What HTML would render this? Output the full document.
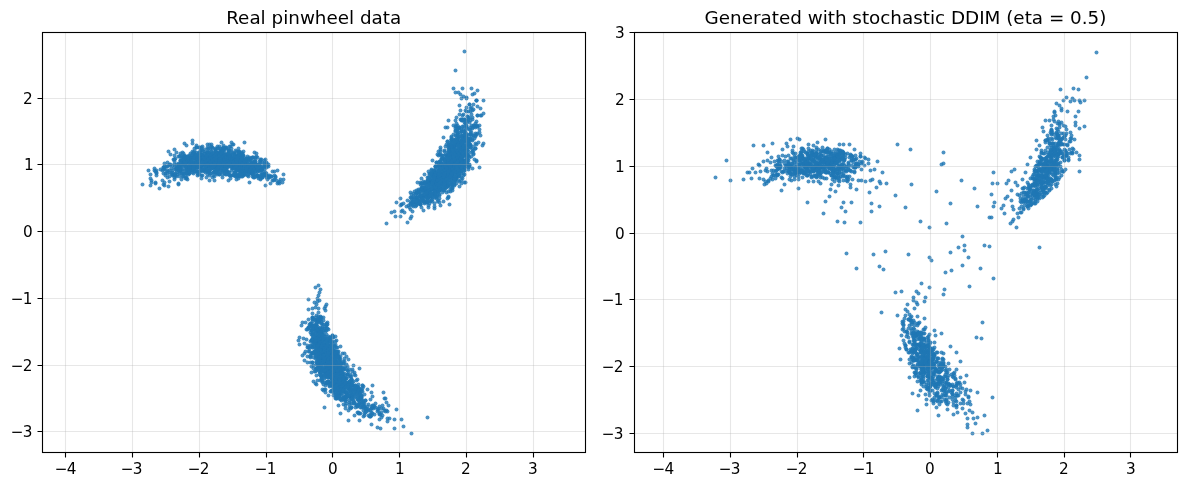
<!DOCTYPE html>
<html lang="en"><head><meta charset="utf-8"><title>Pinwheel: real vs stochastic DDIM</title>
<style>
html,body{margin:0;padding:0;background:#fff;overflow:hidden}
svg{display:block}
text{font-family:"DejaVu Sans","Liberation Sans",sans-serif;fill:#000}
.t{font-size:15.278px}
.h{font-size:18.333px}
</style></head>
<body>
<svg width="1186" height="487" viewBox="0 0 1186 487">
<rect width="1186" height="487" fill="#fff"/>
<g>
<g transform="translate(.5 .5)" fill="#1f77b4" fill-opacity="0.8">
<circle r="1.964" cx="419" cy="200"/><circle r="1.964" cx="446" cy="168"/><circle r="1.964" cx="413" cy="199"/><circle r="1.964" cx="451" cy="157"/><circle r="1.964" cx="453" cy="161"/><circle r="1.964" cx="437" cy="166"/>
<circle r="1.964" cx="449" cy="167"/><circle r="1.964" cx="446" cy="144"/><circle r="1.964" cx="464" cy="148"/><circle r="1.964" cx="444" cy="179"/><circle r="1.964" cx="469" cy="122"/><circle r="1.964" cx="431" cy="200"/>
<circle r="1.964" cx="460" cy="110"/><circle r="1.964" cx="412" cy="211"/><circle r="1.964" cx="438" cy="173"/><circle r="1.964" cx="476" cy="144"/><circle r="1.964" cx="455" cy="164"/><circle r="1.964" cx="456" cy="145"/>
<circle r="1.964" cx="455" cy="135"/><circle r="1.964" cx="467" cy="161"/><circle r="1.964" cx="421" cy="189"/><circle r="1.964" cx="428" cy="181"/><circle r="1.964" cx="447" cy="173"/><circle r="1.964" cx="449" cy="152"/>
<circle r="1.964" cx="452" cy="158"/><circle r="1.964" cx="449" cy="178"/><circle r="1.964" cx="438" cy="165"/><circle r="1.964" cx="478" cy="142"/><circle r="1.964" cx="453" cy="163"/><circle r="1.964" cx="453" cy="151"/>
<circle r="1.964" cx="443" cy="167"/><circle r="1.964" cx="435" cy="168"/><circle r="1.964" cx="452" cy="152"/><circle r="1.964" cx="476" cy="160"/><circle r="1.964" cx="459" cy="127"/><circle r="1.964" cx="454" cy="154"/>
<circle r="1.964" cx="421" cy="187"/><circle r="1.964" cx="456" cy="141"/><circle r="1.964" cx="416" cy="190"/><circle r="1.964" cx="427" cy="190"/><circle r="1.964" cx="436" cy="177"/><circle r="1.964" cx="437" cy="191"/>
<circle r="1.964" cx="468" cy="154"/><circle r="1.964" cx="453" cy="153"/><circle r="1.964" cx="451" cy="140"/><circle r="1.964" cx="440" cy="189"/><circle r="1.964" cx="451" cy="164"/><circle r="1.964" cx="466" cy="134"/>
<circle r="1.964" cx="428" cy="196"/><circle r="1.964" cx="443" cy="185"/><circle r="1.964" cx="436" cy="173"/><circle r="1.964" cx="430" cy="186"/><circle r="1.964" cx="452" cy="163"/><circle r="1.964" cx="456" cy="143"/>
<circle r="1.964" cx="459" cy="170"/><circle r="1.964" cx="444" cy="151"/><circle r="1.964" cx="470" cy="127"/><circle r="1.964" cx="436" cy="183"/><circle r="1.964" cx="451" cy="176"/><circle r="1.964" cx="465" cy="132"/>
<circle r="1.964" cx="465" cy="160"/><circle r="1.964" cx="419" cy="199"/><circle r="1.964" cx="476" cy="100"/><circle r="1.964" cx="476" cy="161"/><circle r="1.964" cx="460" cy="149"/><circle r="1.964" cx="432" cy="180"/>
<circle r="1.964" cx="431" cy="170"/><circle r="1.964" cx="475" cy="148"/><circle r="1.964" cx="456" cy="164"/><circle r="1.964" cx="452" cy="170"/><circle r="1.964" cx="460" cy="143"/><circle r="1.964" cx="422" cy="196"/>
<circle r="1.964" cx="453" cy="147"/><circle r="1.964" cx="452" cy="185"/><circle r="1.964" cx="469" cy="144"/><circle r="1.964" cx="447" cy="170"/><circle r="1.964" cx="444" cy="190"/><circle r="1.964" cx="436" cy="191"/>
<circle r="1.964" cx="462" cy="160"/><circle r="1.964" cx="417" cy="199"/><circle r="1.964" cx="471" cy="125"/><circle r="1.964" cx="451" cy="174"/><circle r="1.964" cx="449" cy="147"/><circle r="1.964" cx="414" cy="199"/>
<circle r="1.964" cx="433" cy="186"/><circle r="1.964" cx="449" cy="161"/><circle r="1.964" cx="461" cy="161"/><circle r="1.964" cx="420" cy="196"/><circle r="1.964" cx="410" cy="204"/><circle r="1.964" cx="429" cy="174"/>
<circle r="1.964" cx="457" cy="133"/><circle r="1.964" cx="458" cy="134"/><circle r="1.964" cx="436" cy="197"/><circle r="1.964" cx="437" cy="176"/><circle r="1.964" cx="454" cy="176"/><circle r="1.964" cx="401" cy="204"/>
<circle r="1.964" cx="451" cy="161"/><circle r="1.964" cx="458" cy="142"/><circle r="1.964" cx="458" cy="137"/><circle r="1.964" cx="456" cy="171"/><circle r="1.964" cx="438" cy="173"/><circle r="1.964" cx="449" cy="159"/>
<circle r="1.964" cx="444" cy="180"/><circle r="1.964" cx="423" cy="183"/><circle r="1.964" cx="439" cy="178"/><circle r="1.964" cx="440" cy="173"/><circle r="1.964" cx="476" cy="100"/><circle r="1.964" cx="438" cy="186"/>
<circle r="1.964" cx="455" cy="179"/><circle r="1.964" cx="440" cy="164"/><circle r="1.964" cx="434" cy="190"/><circle r="1.964" cx="461" cy="171"/><circle r="1.964" cx="426" cy="202"/><circle r="1.964" cx="438" cy="180"/>
<circle r="1.964" cx="440" cy="147"/><circle r="1.964" cx="449" cy="150"/><circle r="1.964" cx="467" cy="144"/><circle r="1.964" cx="460" cy="142"/><circle r="1.964" cx="410" cy="192"/><circle r="1.964" cx="479" cy="125"/>
<circle r="1.964" cx="441" cy="171"/><circle r="1.964" cx="472" cy="119"/><circle r="1.964" cx="433" cy="177"/><circle r="1.964" cx="446" cy="171"/><circle r="1.964" cx="448" cy="144"/><circle r="1.964" cx="481" cy="115"/>
<circle r="1.964" cx="451" cy="141"/><circle r="1.964" cx="442" cy="181"/><circle r="1.964" cx="456" cy="172"/><circle r="1.964" cx="447" cy="169"/><circle r="1.964" cx="453" cy="177"/><circle r="1.964" cx="469" cy="166"/>
<circle r="1.964" cx="462" cy="141"/><circle r="1.964" cx="457" cy="152"/><circle r="1.964" cx="424" cy="183"/><circle r="1.964" cx="436" cy="190"/><circle r="1.964" cx="444" cy="166"/><circle r="1.964" cx="451" cy="168"/>
<circle r="1.964" cx="439" cy="183"/><circle r="1.964" cx="462" cy="150"/><circle r="1.964" cx="442" cy="188"/><circle r="1.964" cx="434" cy="171"/><circle r="1.964" cx="431" cy="182"/><circle r="1.964" cx="454" cy="167"/>
<circle r="1.964" cx="430" cy="180"/><circle r="1.964" cx="461" cy="160"/><circle r="1.964" cx="446" cy="155"/><circle r="1.964" cx="464" cy="167"/><circle r="1.964" cx="451" cy="181"/><circle r="1.964" cx="444" cy="181"/>
<circle r="1.964" cx="429" cy="173"/><circle r="1.964" cx="458" cy="164"/><circle r="1.964" cx="464" cy="141"/><circle r="1.964" cx="459" cy="114"/><circle r="1.964" cx="450" cy="170"/><circle r="1.964" cx="428" cy="197"/>
<circle r="1.964" cx="428" cy="183"/><circle r="1.964" cx="462" cy="151"/><circle r="1.964" cx="450" cy="160"/><circle r="1.964" cx="432" cy="193"/><circle r="1.964" cx="467" cy="163"/><circle r="1.964" cx="477" cy="106"/>
<circle r="1.964" cx="417" cy="192"/><circle r="1.964" cx="453" cy="153"/><circle r="1.964" cx="441" cy="164"/><circle r="1.964" cx="446" cy="181"/><circle r="1.964" cx="430" cy="181"/><circle r="1.964" cx="386" cy="223"/>
<circle r="1.964" cx="419" cy="201"/><circle r="1.964" cx="445" cy="168"/><circle r="1.964" cx="420" cy="184"/><circle r="1.964" cx="424" cy="197"/><circle r="1.964" cx="472" cy="94"/><circle r="1.964" cx="429" cy="189"/>
<circle r="1.964" cx="466" cy="107"/><circle r="1.964" cx="432" cy="197"/><circle r="1.964" cx="437" cy="188"/><circle r="1.964" cx="449" cy="169"/><circle r="1.964" cx="457" cy="125"/><circle r="1.964" cx="461" cy="158"/>
<circle r="1.964" cx="451" cy="182"/><circle r="1.964" cx="454" cy="143"/><circle r="1.964" cx="467" cy="116"/><circle r="1.964" cx="455" cy="165"/><circle r="1.964" cx="459" cy="160"/><circle r="1.964" cx="423" cy="210"/>
<circle r="1.964" cx="434" cy="183"/><circle r="1.964" cx="450" cy="142"/><circle r="1.964" cx="474" cy="125"/><circle r="1.964" cx="415" cy="206"/><circle r="1.964" cx="449" cy="155"/><circle r="1.964" cx="464" cy="160"/>
<circle r="1.964" cx="462" cy="135"/><circle r="1.964" cx="418" cy="189"/><circle r="1.964" cx="435" cy="196"/><circle r="1.964" cx="454" cy="151"/><circle r="1.964" cx="426" cy="191"/><circle r="1.964" cx="442" cy="158"/>
<circle r="1.964" cx="444" cy="162"/><circle r="1.964" cx="458" cy="159"/><circle r="1.964" cx="443" cy="178"/><circle r="1.964" cx="452" cy="145"/><circle r="1.964" cx="446" cy="157"/><circle r="1.964" cx="461" cy="138"/>
<circle r="1.964" cx="447" cy="162"/><circle r="1.964" cx="436" cy="185"/><circle r="1.964" cx="457" cy="164"/><circle r="1.964" cx="450" cy="162"/><circle r="1.964" cx="450" cy="177"/><circle r="1.964" cx="464" cy="120"/>
<circle r="1.964" cx="455" cy="178"/><circle r="1.964" cx="439" cy="169"/><circle r="1.964" cx="435" cy="185"/><circle r="1.964" cx="410" cy="209"/><circle r="1.964" cx="446" cy="180"/><circle r="1.964" cx="446" cy="175"/>
<circle r="1.964" cx="459" cy="157"/><circle r="1.964" cx="440" cy="161"/><circle r="1.964" cx="430" cy="194"/><circle r="1.964" cx="449" cy="154"/><circle r="1.964" cx="448" cy="176"/><circle r="1.964" cx="439" cy="166"/>
<circle r="1.964" cx="472" cy="140"/><circle r="1.964" cx="460" cy="163"/><circle r="1.964" cx="461" cy="159"/><circle r="1.964" cx="435" cy="172"/><circle r="1.964" cx="434" cy="208"/><circle r="1.964" cx="443" cy="175"/>
<circle r="1.964" cx="440" cy="172"/><circle r="1.964" cx="451" cy="173"/><circle r="1.964" cx="465" cy="154"/><circle r="1.964" cx="457" cy="144"/><circle r="1.964" cx="455" cy="153"/><circle r="1.964" cx="465" cy="162"/>
<circle r="1.964" cx="428" cy="180"/><circle r="1.964" cx="468" cy="138"/><circle r="1.964" cx="452" cy="172"/><circle r="1.964" cx="459" cy="165"/><circle r="1.964" cx="463" cy="151"/><circle r="1.964" cx="451" cy="174"/>
<circle r="1.964" cx="416" cy="197"/><circle r="1.964" cx="433" cy="187"/><circle r="1.964" cx="462" cy="163"/><circle r="1.964" cx="433" cy="181"/><circle r="1.964" cx="412" cy="205"/><circle r="1.964" cx="445" cy="164"/>
<circle r="1.964" cx="416" cy="197"/><circle r="1.964" cx="448" cy="159"/><circle r="1.964" cx="440" cy="179"/><circle r="1.964" cx="466" cy="144"/><circle r="1.964" cx="434" cy="203"/><circle r="1.964" cx="427" cy="190"/>
<circle r="1.964" cx="464" cy="141"/><circle r="1.964" cx="425" cy="191"/><circle r="1.964" cx="466" cy="160"/><circle r="1.964" cx="454" cy="149"/><circle r="1.964" cx="433" cy="194"/><circle r="1.964" cx="452" cy="146"/>
<circle r="1.964" cx="421" cy="207"/><circle r="1.964" cx="459" cy="157"/><circle r="1.964" cx="420" cy="193"/><circle r="1.964" cx="450" cy="168"/><circle r="1.964" cx="456" cy="177"/><circle r="1.964" cx="461" cy="140"/>
<circle r="1.964" cx="449" cy="177"/><circle r="1.964" cx="451" cy="160"/><circle r="1.964" cx="454" cy="172"/><circle r="1.964" cx="447" cy="161"/><circle r="1.964" cx="433" cy="182"/><circle r="1.964" cx="461" cy="159"/>
<circle r="1.964" cx="443" cy="176"/><circle r="1.964" cx="452" cy="156"/><circle r="1.964" cx="431" cy="189"/><circle r="1.964" cx="448" cy="171"/><circle r="1.964" cx="457" cy="160"/><circle r="1.964" cx="446" cy="174"/>
<circle r="1.964" cx="439" cy="187"/><circle r="1.964" cx="421" cy="178"/><circle r="1.964" cx="442" cy="173"/><circle r="1.964" cx="440" cy="161"/><circle r="1.964" cx="453" cy="170"/><circle r="1.964" cx="439" cy="184"/>
<circle r="1.964" cx="460" cy="147"/><circle r="1.964" cx="460" cy="154"/><circle r="1.964" cx="450" cy="152"/><circle r="1.964" cx="444" cy="165"/><circle r="1.964" cx="443" cy="175"/><circle r="1.964" cx="447" cy="169"/>
<circle r="1.964" cx="447" cy="164"/><circle r="1.964" cx="421" cy="197"/><circle r="1.964" cx="445" cy="179"/><circle r="1.964" cx="451" cy="177"/><circle r="1.964" cx="421" cy="183"/><circle r="1.964" cx="423" cy="195"/>
<circle r="1.964" cx="433" cy="175"/><circle r="1.964" cx="471" cy="107"/><circle r="1.964" cx="465" cy="133"/><circle r="1.964" cx="461" cy="167"/><circle r="1.964" cx="437" cy="201"/><circle r="1.964" cx="454" cy="145"/>
<circle r="1.964" cx="458" cy="170"/><circle r="1.964" cx="435" cy="183"/><circle r="1.964" cx="446" cy="170"/><circle r="1.964" cx="463" cy="175"/><circle r="1.964" cx="443" cy="158"/><circle r="1.964" cx="473" cy="135"/>
<circle r="1.964" cx="452" cy="173"/><circle r="1.964" cx="452" cy="147"/><circle r="1.964" cx="443" cy="181"/><circle r="1.964" cx="425" cy="183"/><circle r="1.964" cx="446" cy="192"/><circle r="1.964" cx="464" cy="168"/>
<circle r="1.964" cx="444" cy="172"/><circle r="1.964" cx="468" cy="169"/><circle r="1.964" cx="457" cy="154"/><circle r="1.964" cx="456" cy="176"/><circle r="1.964" cx="424" cy="196"/><circle r="1.964" cx="436" cy="162"/>
<circle r="1.964" cx="447" cy="184"/><circle r="1.964" cx="447" cy="162"/><circle r="1.964" cx="434" cy="197"/><circle r="1.964" cx="447" cy="141"/><circle r="1.964" cx="466" cy="120"/><circle r="1.964" cx="455" cy="159"/>
<circle r="1.964" cx="450" cy="149"/><circle r="1.964" cx="413" cy="206"/><circle r="1.964" cx="432" cy="173"/><circle r="1.964" cx="445" cy="164"/><circle r="1.964" cx="429" cy="183"/><circle r="1.964" cx="469" cy="165"/>
<circle r="1.964" cx="457" cy="169"/><circle r="1.964" cx="458" cy="155"/><circle r="1.964" cx="416" cy="192"/><circle r="1.964" cx="427" cy="195"/><circle r="1.964" cx="464" cy="137"/><circle r="1.964" cx="421" cy="189"/>
<circle r="1.964" cx="449" cy="156"/><circle r="1.964" cx="443" cy="165"/><circle r="1.964" cx="466" cy="97"/><circle r="1.964" cx="429" cy="190"/><circle r="1.964" cx="427" cy="198"/><circle r="1.964" cx="453" cy="166"/>
<circle r="1.964" cx="461" cy="140"/><circle r="1.964" cx="461" cy="131"/><circle r="1.964" cx="427" cy="177"/><circle r="1.964" cx="451" cy="139"/><circle r="1.964" cx="412" cy="201"/><circle r="1.964" cx="473" cy="135"/>
<circle r="1.964" cx="463" cy="173"/><circle r="1.964" cx="400" cy="216"/><circle r="1.964" cx="445" cy="161"/><circle r="1.964" cx="433" cy="189"/><circle r="1.964" cx="428" cy="171"/><circle r="1.964" cx="463" cy="129"/>
<circle r="1.964" cx="432" cy="184"/><circle r="1.964" cx="432" cy="201"/><circle r="1.964" cx="467" cy="139"/><circle r="1.964" cx="461" cy="146"/><circle r="1.964" cx="431" cy="175"/><circle r="1.964" cx="426" cy="182"/>
<circle r="1.964" cx="449" cy="175"/><circle r="1.964" cx="468" cy="141"/><circle r="1.964" cx="460" cy="168"/><circle r="1.964" cx="462" cy="158"/><circle r="1.964" cx="446" cy="170"/><circle r="1.964" cx="440" cy="188"/>
<circle r="1.964" cx="434" cy="187"/><circle r="1.964" cx="444" cy="179"/><circle r="1.964" cx="427" cy="201"/><circle r="1.964" cx="435" cy="166"/><circle r="1.964" cx="443" cy="172"/><circle r="1.964" cx="423" cy="189"/>
<circle r="1.964" cx="438" cy="177"/><circle r="1.964" cx="445" cy="175"/><circle r="1.964" cx="462" cy="137"/><circle r="1.964" cx="479" cy="132"/><circle r="1.964" cx="452" cy="188"/><circle r="1.964" cx="450" cy="175"/>
<circle r="1.964" cx="424" cy="189"/><circle r="1.964" cx="463" cy="145"/><circle r="1.964" cx="472" cy="117"/><circle r="1.964" cx="431" cy="177"/><circle r="1.964" cx="456" cy="178"/><circle r="1.964" cx="458" cy="176"/>
<circle r="1.964" cx="461" cy="131"/><circle r="1.964" cx="448" cy="165"/><circle r="1.964" cx="456" cy="159"/><circle r="1.964" cx="470" cy="134"/><circle r="1.964" cx="442" cy="158"/><circle r="1.964" cx="455" cy="177"/>
<circle r="1.964" cx="461" cy="162"/><circle r="1.964" cx="460" cy="146"/><circle r="1.964" cx="465" cy="137"/><circle r="1.964" cx="454" cy="170"/><circle r="1.964" cx="474" cy="93"/><circle r="1.964" cx="466" cy="160"/>
<circle r="1.964" cx="449" cy="144"/><circle r="1.964" cx="475" cy="135"/><circle r="1.964" cx="460" cy="94"/><circle r="1.964" cx="422" cy="201"/><circle r="1.964" cx="463" cy="126"/><circle r="1.964" cx="468" cy="165"/>
<circle r="1.964" cx="422" cy="190"/><circle r="1.964" cx="449" cy="147"/><circle r="1.964" cx="436" cy="185"/><circle r="1.964" cx="444" cy="150"/><circle r="1.964" cx="452" cy="171"/><circle r="1.964" cx="428" cy="196"/>
<circle r="1.964" cx="461" cy="163"/><circle r="1.964" cx="425" cy="188"/><circle r="1.964" cx="480" cy="108"/><circle r="1.964" cx="418" cy="190"/><circle r="1.964" cx="462" cy="178"/><circle r="1.964" cx="434" cy="170"/>
<circle r="1.964" cx="435" cy="179"/><circle r="1.964" cx="456" cy="150"/><circle r="1.964" cx="443" cy="190"/><circle r="1.964" cx="447" cy="165"/><circle r="1.964" cx="458" cy="164"/><circle r="1.964" cx="431" cy="180"/>
<circle r="1.964" cx="442" cy="177"/><circle r="1.964" cx="455" cy="164"/><circle r="1.964" cx="451" cy="154"/><circle r="1.964" cx="435" cy="166"/><circle r="1.964" cx="438" cy="188"/><circle r="1.964" cx="443" cy="167"/>
<circle r="1.964" cx="437" cy="178"/><circle r="1.964" cx="457" cy="131"/><circle r="1.964" cx="427" cy="193"/><circle r="1.964" cx="450" cy="152"/><circle r="1.964" cx="466" cy="137"/><circle r="1.964" cx="452" cy="148"/>
<circle r="1.964" cx="401" cy="204"/><circle r="1.964" cx="453" cy="178"/><circle r="1.964" cx="450" cy="145"/><circle r="1.964" cx="441" cy="163"/><circle r="1.964" cx="462" cy="148"/><circle r="1.964" cx="459" cy="168"/>
<circle r="1.964" cx="465" cy="123"/><circle r="1.964" cx="408" cy="205"/><circle r="1.964" cx="439" cy="190"/><circle r="1.964" cx="468" cy="160"/><circle r="1.964" cx="453" cy="134"/><circle r="1.964" cx="469" cy="164"/>
<circle r="1.964" cx="451" cy="173"/><circle r="1.964" cx="450" cy="153"/><circle r="1.964" cx="460" cy="119"/><circle r="1.964" cx="446" cy="176"/><circle r="1.964" cx="450" cy="172"/><circle r="1.964" cx="470" cy="120"/>
<circle r="1.964" cx="424" cy="187"/><circle r="1.964" cx="458" cy="152"/><circle r="1.964" cx="455" cy="164"/><circle r="1.964" cx="446" cy="157"/><circle r="1.964" cx="438" cy="151"/><circle r="1.964" cx="410" cy="218"/>
<circle r="1.964" cx="431" cy="196"/><circle r="1.964" cx="467" cy="159"/><circle r="1.964" cx="429" cy="191"/><circle r="1.964" cx="473" cy="154"/><circle r="1.964" cx="482" cy="145"/><circle r="1.964" cx="433" cy="184"/>
<circle r="1.964" cx="451" cy="147"/><circle r="1.964" cx="454" cy="149"/><circle r="1.964" cx="468" cy="141"/><circle r="1.964" cx="453" cy="156"/><circle r="1.964" cx="465" cy="160"/><circle r="1.964" cx="459" cy="159"/>
<circle r="1.964" cx="447" cy="186"/><circle r="1.964" cx="441" cy="171"/><circle r="1.964" cx="464" cy="162"/><circle r="1.964" cx="412" cy="202"/><circle r="1.964" cx="413" cy="202"/><circle r="1.964" cx="469" cy="157"/>
<circle r="1.964" cx="445" cy="186"/><circle r="1.964" cx="465" cy="161"/><circle r="1.964" cx="446" cy="165"/><circle r="1.964" cx="448" cy="197"/><circle r="1.964" cx="442" cy="175"/><circle r="1.964" cx="440" cy="177"/>
<circle r="1.964" cx="413" cy="196"/><circle r="1.964" cx="457" cy="151"/><circle r="1.964" cx="407" cy="222"/><circle r="1.964" cx="423" cy="181"/><circle r="1.964" cx="454" cy="158"/><circle r="1.964" cx="459" cy="171"/>
<circle r="1.964" cx="441" cy="182"/><circle r="1.964" cx="444" cy="187"/><circle r="1.964" cx="448" cy="120"/><circle r="1.964" cx="444" cy="165"/><circle r="1.964" cx="464" cy="131"/><circle r="1.964" cx="459" cy="153"/>
<circle r="1.964" cx="453" cy="139"/><circle r="1.964" cx="431" cy="194"/><circle r="1.964" cx="441" cy="166"/><circle r="1.964" cx="443" cy="181"/><circle r="1.964" cx="438" cy="179"/><circle r="1.964" cx="435" cy="194"/>
<circle r="1.964" cx="446" cy="179"/><circle r="1.964" cx="447" cy="165"/><circle r="1.964" cx="446" cy="172"/><circle r="1.964" cx="459" cy="174"/><circle r="1.964" cx="459" cy="141"/><circle r="1.964" cx="449" cy="164"/>
<circle r="1.964" cx="421" cy="189"/><circle r="1.964" cx="449" cy="174"/><circle r="1.964" cx="457" cy="158"/><circle r="1.964" cx="434" cy="192"/><circle r="1.964" cx="435" cy="182"/><circle r="1.964" cx="447" cy="174"/>
<circle r="1.964" cx="454" cy="172"/><circle r="1.964" cx="451" cy="136"/><circle r="1.964" cx="465" cy="110"/><circle r="1.964" cx="450" cy="165"/><circle r="1.964" cx="475" cy="123"/><circle r="1.964" cx="464" cy="170"/>
<circle r="1.964" cx="431" cy="186"/><circle r="1.964" cx="449" cy="170"/><circle r="1.964" cx="424" cy="192"/><circle r="1.964" cx="446" cy="167"/><circle r="1.964" cx="440" cy="169"/><circle r="1.964" cx="451" cy="188"/>
<circle r="1.964" cx="455" cy="155"/><circle r="1.964" cx="446" cy="173"/><circle r="1.964" cx="423" cy="192"/><circle r="1.964" cx="453" cy="170"/><circle r="1.964" cx="446" cy="187"/><circle r="1.964" cx="441" cy="184"/>
<circle r="1.964" cx="448" cy="170"/><circle r="1.964" cx="419" cy="191"/><circle r="1.964" cx="452" cy="184"/><circle r="1.964" cx="436" cy="198"/><circle r="1.964" cx="458" cy="138"/><circle r="1.964" cx="417" cy="196"/>
<circle r="1.964" cx="461" cy="144"/><circle r="1.964" cx="432" cy="181"/><circle r="1.964" cx="461" cy="156"/><circle r="1.964" cx="422" cy="188"/><circle r="1.964" cx="442" cy="169"/><circle r="1.964" cx="461" cy="183"/>
<circle r="1.964" cx="416" cy="204"/><circle r="1.964" cx="455" cy="161"/><circle r="1.964" cx="419" cy="203"/><circle r="1.964" cx="458" cy="156"/><circle r="1.964" cx="457" cy="150"/><circle r="1.964" cx="427" cy="182"/>
<circle r="1.964" cx="457" cy="153"/><circle r="1.964" cx="439" cy="189"/><circle r="1.964" cx="467" cy="116"/><circle r="1.964" cx="440" cy="163"/><circle r="1.964" cx="442" cy="173"/><circle r="1.964" cx="427" cy="202"/>
<circle r="1.964" cx="443" cy="168"/><circle r="1.964" cx="467" cy="121"/><circle r="1.964" cx="453" cy="125"/><circle r="1.964" cx="449" cy="149"/><circle r="1.964" cx="411" cy="197"/><circle r="1.964" cx="459" cy="153"/>
<circle r="1.964" cx="456" cy="126"/><circle r="1.964" cx="438" cy="178"/><circle r="1.964" cx="445" cy="188"/><circle r="1.964" cx="433" cy="176"/><circle r="1.964" cx="449" cy="163"/><circle r="1.964" cx="441" cy="179"/>
<circle r="1.964" cx="450" cy="162"/><circle r="1.964" cx="455" cy="153"/><circle r="1.964" cx="455" cy="158"/><circle r="1.964" cx="428" cy="190"/><circle r="1.964" cx="442" cy="170"/><circle r="1.964" cx="469" cy="134"/>
<circle r="1.964" cx="434" cy="176"/><circle r="1.964" cx="449" cy="159"/><circle r="1.964" cx="445" cy="183"/><circle r="1.964" cx="462" cy="136"/><circle r="1.964" cx="468" cy="151"/><circle r="1.964" cx="450" cy="164"/>
<circle r="1.964" cx="416" cy="205"/><circle r="1.964" cx="448" cy="174"/><circle r="1.964" cx="401" cy="211"/><circle r="1.964" cx="471" cy="156"/><circle r="1.964" cx="444" cy="183"/><circle r="1.964" cx="452" cy="142"/>
<circle r="1.964" cx="446" cy="168"/><circle r="1.964" cx="438" cy="180"/><circle r="1.964" cx="424" cy="182"/><circle r="1.964" cx="454" cy="165"/><circle r="1.964" cx="465" cy="153"/><circle r="1.964" cx="464" cy="164"/>
<circle r="1.964" cx="466" cy="127"/><circle r="1.964" cx="439" cy="161"/><circle r="1.964" cx="448" cy="145"/><circle r="1.964" cx="461" cy="166"/><circle r="1.964" cx="469" cy="104"/><circle r="1.964" cx="429" cy="190"/>
<circle r="1.964" cx="454" cy="178"/><circle r="1.964" cx="429" cy="187"/><circle r="1.964" cx="415" cy="203"/><circle r="1.964" cx="447" cy="198"/><circle r="1.964" cx="454" cy="147"/><circle r="1.964" cx="461" cy="144"/>
<circle r="1.964" cx="436" cy="171"/><circle r="1.964" cx="419" cy="203"/><circle r="1.964" cx="435" cy="178"/><circle r="1.964" cx="431" cy="182"/><circle r="1.964" cx="430" cy="191"/><circle r="1.964" cx="428" cy="180"/>
<circle r="1.964" cx="473" cy="109"/><circle r="1.964" cx="439" cy="194"/><circle r="1.964" cx="462" cy="156"/><circle r="1.964" cx="457" cy="162"/><circle r="1.964" cx="483" cy="100"/><circle r="1.964" cx="460" cy="155"/>
<circle r="1.964" cx="457" cy="174"/><circle r="1.964" cx="464" cy="150"/><circle r="1.964" cx="456" cy="150"/><circle r="1.964" cx="473" cy="150"/><circle r="1.964" cx="455" cy="151"/><circle r="1.964" cx="452" cy="184"/>
<circle r="1.964" cx="470" cy="139"/><circle r="1.964" cx="455" cy="168"/><circle r="1.964" cx="463" cy="114"/><circle r="1.964" cx="444" cy="182"/><circle r="1.964" cx="420" cy="204"/><circle r="1.964" cx="434" cy="206"/>
<circle r="1.964" cx="451" cy="166"/><circle r="1.964" cx="451" cy="159"/><circle r="1.964" cx="442" cy="171"/><circle r="1.964" cx="437" cy="195"/><circle r="1.964" cx="454" cy="150"/><circle r="1.964" cx="452" cy="169"/>
<circle r="1.964" cx="422" cy="187"/><circle r="1.964" cx="443" cy="170"/><circle r="1.964" cx="414" cy="191"/><circle r="1.964" cx="434" cy="192"/><circle r="1.964" cx="440" cy="149"/><circle r="1.964" cx="466" cy="126"/>
<circle r="1.964" cx="450" cy="172"/><circle r="1.964" cx="470" cy="130"/><circle r="1.964" cx="437" cy="188"/><circle r="1.964" cx="443" cy="187"/><circle r="1.964" cx="413" cy="193"/><circle r="1.964" cx="466" cy="135"/>
<circle r="1.964" cx="457" cy="157"/><circle r="1.964" cx="473" cy="104"/><circle r="1.964" cx="457" cy="157"/><circle r="1.964" cx="433" cy="173"/><circle r="1.964" cx="452" cy="161"/><circle r="1.964" cx="483" cy="143"/>
<circle r="1.964" cx="449" cy="159"/><circle r="1.964" cx="428" cy="192"/><circle r="1.964" cx="445" cy="165"/><circle r="1.964" cx="434" cy="182"/><circle r="1.964" cx="435" cy="180"/><circle r="1.964" cx="456" cy="172"/>
<circle r="1.964" cx="440" cy="187"/><circle r="1.964" cx="455" cy="163"/><circle r="1.964" cx="462" cy="119"/><circle r="1.964" cx="440" cy="182"/><circle r="1.964" cx="465" cy="123"/><circle r="1.964" cx="453" cy="165"/>
<circle r="1.964" cx="439" cy="190"/><circle r="1.964" cx="455" cy="163"/><circle r="1.964" cx="445" cy="182"/><circle r="1.964" cx="435" cy="175"/><circle r="1.964" cx="465" cy="132"/><circle r="1.964" cx="391" cy="212"/>
<circle r="1.964" cx="440" cy="178"/><circle r="1.964" cx="476" cy="134"/><circle r="1.964" cx="462" cy="126"/><circle r="1.964" cx="406" cy="206"/><circle r="1.964" cx="456" cy="164"/><circle r="1.964" cx="450" cy="161"/>
<circle r="1.964" cx="438" cy="170"/><circle r="1.964" cx="475" cy="133"/><circle r="1.964" cx="465" cy="120"/><circle r="1.964" cx="465" cy="136"/><circle r="1.964" cx="459" cy="168"/><circle r="1.964" cx="419" cy="196"/>
<circle r="1.964" cx="445" cy="166"/><circle r="1.964" cx="459" cy="165"/><circle r="1.964" cx="440" cy="184"/><circle r="1.964" cx="455" cy="162"/><circle r="1.964" cx="443" cy="201"/><circle r="1.964" cx="457" cy="171"/>
<circle r="1.964" cx="403" cy="203"/><circle r="1.964" cx="429" cy="177"/><circle r="1.964" cx="430" cy="192"/><circle r="1.964" cx="449" cy="170"/><circle r="1.964" cx="429" cy="184"/><circle r="1.964" cx="445" cy="184"/>
<circle r="1.964" cx="443" cy="168"/><circle r="1.964" cx="473" cy="146"/><circle r="1.964" cx="476" cy="121"/><circle r="1.964" cx="417" cy="192"/><circle r="1.964" cx="414" cy="202"/><circle r="1.964" cx="459" cy="159"/>
<circle r="1.964" cx="454" cy="182"/><circle r="1.964" cx="438" cy="170"/><circle r="1.964" cx="442" cy="192"/><circle r="1.964" cx="426" cy="188"/><circle r="1.964" cx="429" cy="203"/><circle r="1.964" cx="448" cy="164"/>
<circle r="1.964" cx="449" cy="152"/><circle r="1.964" cx="469" cy="104"/><circle r="1.964" cx="463" cy="140"/><circle r="1.964" cx="457" cy="154"/><circle r="1.964" cx="426" cy="194"/><circle r="1.964" cx="428" cy="205"/>
<circle r="1.964" cx="440" cy="185"/><circle r="1.964" cx="417" cy="200"/><circle r="1.964" cx="453" cy="145"/><circle r="1.964" cx="454" cy="167"/><circle r="1.964" cx="465" cy="150"/><circle r="1.964" cx="464" cy="148"/>
<circle r="1.964" cx="452" cy="187"/><circle r="1.964" cx="467" cy="141"/><circle r="1.964" cx="422" cy="197"/><circle r="1.964" cx="457" cy="128"/><circle r="1.964" cx="459" cy="127"/><circle r="1.964" cx="480" cy="135"/>
<circle r="1.964" cx="446" cy="171"/><circle r="1.964" cx="449" cy="169"/><circle r="1.964" cx="445" cy="160"/><circle r="1.964" cx="464" cy="140"/><circle r="1.964" cx="459" cy="149"/><circle r="1.964" cx="462" cy="136"/>
<circle r="1.964" cx="448" cy="155"/><circle r="1.964" cx="461" cy="170"/><circle r="1.964" cx="462" cy="115"/><circle r="1.964" cx="457" cy="134"/><circle r="1.964" cx="451" cy="175"/><circle r="1.964" cx="452" cy="146"/>
<circle r="1.964" cx="463" cy="135"/><circle r="1.964" cx="436" cy="196"/><circle r="1.964" cx="446" cy="175"/><circle r="1.964" cx="466" cy="163"/><circle r="1.964" cx="457" cy="129"/><circle r="1.964" cx="449" cy="172"/>
<circle r="1.964" cx="456" cy="123"/><circle r="1.964" cx="446" cy="168"/><circle r="1.964" cx="468" cy="138"/><circle r="1.964" cx="483" cy="113"/><circle r="1.964" cx="461" cy="160"/><circle r="1.964" cx="462" cy="154"/>
<circle r="1.964" cx="431" cy="184"/><circle r="1.964" cx="475" cy="127"/><circle r="1.964" cx="470" cy="133"/><circle r="1.964" cx="443" cy="174"/><circle r="1.964" cx="423" cy="190"/><circle r="1.964" cx="469" cy="129"/>
<circle r="1.964" cx="462" cy="88"/><circle r="1.964" cx="412" cy="204"/><circle r="1.964" cx="450" cy="157"/><circle r="1.964" cx="448" cy="174"/><circle r="1.964" cx="449" cy="151"/><circle r="1.964" cx="435" cy="179"/>
<circle r="1.964" cx="472" cy="168"/><circle r="1.964" cx="466" cy="98"/><circle r="1.964" cx="446" cy="185"/><circle r="1.964" cx="450" cy="189"/><circle r="1.964" cx="451" cy="145"/><circle r="1.964" cx="452" cy="160"/>
<circle r="1.964" cx="457" cy="142"/><circle r="1.964" cx="426" cy="192"/><circle r="1.964" cx="451" cy="163"/><circle r="1.964" cx="472" cy="127"/><circle r="1.964" cx="444" cy="159"/><circle r="1.964" cx="448" cy="180"/>
<circle r="1.964" cx="460" cy="154"/><circle r="1.964" cx="450" cy="149"/><circle r="1.964" cx="433" cy="172"/><circle r="1.964" cx="451" cy="176"/><circle r="1.964" cx="426" cy="186"/><circle r="1.964" cx="447" cy="155"/>
<circle r="1.964" cx="465" cy="138"/><circle r="1.964" cx="428" cy="180"/><circle r="1.964" cx="419" cy="203"/><circle r="1.964" cx="424" cy="201"/><circle r="1.964" cx="423" cy="186"/><circle r="1.964" cx="466" cy="136"/>
<circle r="1.964" cx="436" cy="181"/><circle r="1.964" cx="427" cy="180"/><circle r="1.964" cx="451" cy="151"/><circle r="1.964" cx="465" cy="149"/><circle r="1.964" cx="452" cy="145"/><circle r="1.964" cx="450" cy="191"/>
<circle r="1.964" cx="434" cy="190"/><circle r="1.964" cx="461" cy="129"/><circle r="1.964" cx="439" cy="177"/><circle r="1.964" cx="442" cy="174"/><circle r="1.964" cx="446" cy="179"/><circle r="1.964" cx="417" cy="182"/>
<circle r="1.964" cx="456" cy="156"/><circle r="1.964" cx="476" cy="125"/><circle r="1.964" cx="470" cy="145"/><circle r="1.964" cx="462" cy="169"/><circle r="1.964" cx="456" cy="175"/><circle r="1.964" cx="447" cy="141"/>
<circle r="1.964" cx="441" cy="165"/><circle r="1.964" cx="436" cy="184"/><circle r="1.964" cx="455" cy="180"/><circle r="1.964" cx="458" cy="149"/><circle r="1.964" cx="464" cy="182"/><circle r="1.964" cx="460" cy="157"/>
<circle r="1.964" cx="432" cy="193"/><circle r="1.964" cx="400" cy="198"/><circle r="1.964" cx="455" cy="139"/><circle r="1.964" cx="427" cy="197"/><circle r="1.964" cx="422" cy="195"/><circle r="1.964" cx="444" cy="161"/>
<circle r="1.964" cx="464" cy="154"/><circle r="1.964" cx="410" cy="203"/><circle r="1.964" cx="455" cy="142"/><circle r="1.964" cx="464" cy="165"/><circle r="1.964" cx="461" cy="162"/><circle r="1.964" cx="441" cy="189"/>
<circle r="1.964" cx="454" cy="169"/><circle r="1.964" cx="424" cy="202"/><circle r="1.964" cx="434" cy="176"/><circle r="1.964" cx="452" cy="159"/><circle r="1.964" cx="410" cy="201"/><circle r="1.964" cx="424" cy="188"/>
<circle r="1.964" cx="461" cy="148"/><circle r="1.964" cx="460" cy="132"/><circle r="1.964" cx="438" cy="184"/><circle r="1.964" cx="459" cy="105"/><circle r="1.964" cx="464" cy="119"/><circle r="1.964" cx="439" cy="183"/>
<circle r="1.964" cx="463" cy="96"/><circle r="1.964" cx="433" cy="194"/><circle r="1.964" cx="454" cy="185"/><circle r="1.964" cx="451" cy="171"/><circle r="1.964" cx="467" cy="149"/><circle r="1.964" cx="439" cy="184"/>
<circle r="1.964" cx="468" cy="156"/><circle r="1.964" cx="461" cy="173"/><circle r="1.964" cx="435" cy="178"/><circle r="1.964" cx="453" cy="158"/><circle r="1.964" cx="467" cy="150"/><circle r="1.964" cx="462" cy="120"/>
<circle r="1.964" cx="470" cy="108"/><circle r="1.964" cx="470" cy="134"/><circle r="1.964" cx="455" cy="131"/><circle r="1.964" cx="463" cy="148"/><circle r="1.964" cx="451" cy="160"/><circle r="1.964" cx="466" cy="156"/>
<circle r="1.964" cx="457" cy="171"/><circle r="1.964" cx="438" cy="200"/><circle r="1.964" cx="455" cy="179"/><circle r="1.964" cx="440" cy="151"/><circle r="1.964" cx="455" cy="145"/><circle r="1.964" cx="444" cy="159"/>
<circle r="1.964" cx="453" cy="145"/><circle r="1.964" cx="468" cy="145"/><circle r="1.964" cx="422" cy="197"/><circle r="1.964" cx="455" cy="128"/><circle r="1.964" cx="467" cy="139"/><circle r="1.964" cx="464" cy="134"/>
<circle r="1.964" cx="461" cy="141"/><circle r="1.964" cx="455" cy="173"/><circle r="1.964" cx="461" cy="119"/><circle r="1.964" cx="473" cy="153"/><circle r="1.964" cx="458" cy="167"/><circle r="1.964" cx="450" cy="171"/>
<circle r="1.964" cx="432" cy="175"/><circle r="1.964" cx="432" cy="199"/><circle r="1.964" cx="444" cy="183"/><circle r="1.964" cx="477" cy="115"/><circle r="1.964" cx="467" cy="155"/><circle r="1.964" cx="456" cy="159"/>
<circle r="1.964" cx="460" cy="152"/><circle r="1.964" cx="404" cy="212"/><circle r="1.964" cx="458" cy="153"/><circle r="1.964" cx="446" cy="168"/><circle r="1.964" cx="459" cy="145"/><circle r="1.964" cx="441" cy="172"/>
<circle r="1.964" cx="438" cy="183"/><circle r="1.964" cx="462" cy="144"/><circle r="1.964" cx="440" cy="173"/><circle r="1.964" cx="457" cy="144"/><circle r="1.964" cx="453" cy="160"/><circle r="1.964" cx="451" cy="139"/>
<circle r="1.964" cx="474" cy="159"/><circle r="1.964" cx="454" cy="160"/><circle r="1.964" cx="448" cy="172"/><circle r="1.964" cx="471" cy="152"/><circle r="1.964" cx="472" cy="149"/><circle r="1.964" cx="432" cy="183"/>
<circle r="1.964" cx="448" cy="167"/><circle r="1.964" cx="423" cy="196"/><circle r="1.964" cx="465" cy="163"/><circle r="1.964" cx="435" cy="173"/><circle r="1.964" cx="452" cy="164"/><circle r="1.964" cx="439" cy="178"/>
<circle r="1.964" cx="466" cy="140"/><circle r="1.964" cx="433" cy="189"/><circle r="1.964" cx="466" cy="157"/><circle r="1.964" cx="447" cy="175"/><circle r="1.964" cx="444" cy="184"/><circle r="1.964" cx="466" cy="166"/>
<circle r="1.964" cx="469" cy="146"/><circle r="1.964" cx="452" cy="149"/><circle r="1.964" cx="442" cy="174"/><circle r="1.964" cx="453" cy="145"/><circle r="1.964" cx="454" cy="155"/><circle r="1.964" cx="425" cy="189"/>
<circle r="1.964" cx="434" cy="190"/><circle r="1.964" cx="394" cy="211"/><circle r="1.964" cx="453" cy="161"/><circle r="1.964" cx="441" cy="175"/><circle r="1.964" cx="458" cy="149"/><circle r="1.964" cx="469" cy="145"/>
<circle r="1.964" cx="456" cy="117"/><circle r="1.964" cx="445" cy="154"/><circle r="1.964" cx="441" cy="183"/><circle r="1.964" cx="468" cy="118"/><circle r="1.964" cx="477" cy="133"/><circle r="1.964" cx="457" cy="135"/>
<circle r="1.964" cx="435" cy="184"/><circle r="1.964" cx="448" cy="191"/><circle r="1.964" cx="459" cy="186"/><circle r="1.964" cx="447" cy="177"/><circle r="1.964" cx="448" cy="196"/><circle r="1.964" cx="426" cy="196"/>
<circle r="1.964" cx="453" cy="179"/><circle r="1.964" cx="443" cy="167"/><circle r="1.964" cx="424" cy="201"/><circle r="1.964" cx="436" cy="191"/><circle r="1.964" cx="426" cy="193"/><circle r="1.964" cx="456" cy="158"/>
<circle r="1.964" cx="461" cy="136"/><circle r="1.964" cx="457" cy="140"/><circle r="1.964" cx="458" cy="136"/><circle r="1.964" cx="430" cy="193"/><circle r="1.964" cx="459" cy="128"/><circle r="1.964" cx="456" cy="136"/>
<circle r="1.964" cx="433" cy="188"/><circle r="1.964" cx="449" cy="154"/><circle r="1.964" cx="420" cy="204"/><circle r="1.964" cx="440" cy="179"/><circle r="1.964" cx="426" cy="186"/><circle r="1.964" cx="432" cy="194"/>
<circle r="1.964" cx="463" cy="169"/><circle r="1.964" cx="455" cy="148"/><circle r="1.964" cx="448" cy="147"/><circle r="1.964" cx="448" cy="168"/><circle r="1.964" cx="454" cy="181"/><circle r="1.964" cx="457" cy="139"/>
<circle r="1.964" cx="444" cy="176"/><circle r="1.964" cx="445" cy="164"/><circle r="1.964" cx="457" cy="164"/><circle r="1.964" cx="448" cy="174"/><circle r="1.964" cx="461" cy="167"/><circle r="1.964" cx="460" cy="164"/>
<circle r="1.964" cx="409" cy="207"/><circle r="1.964" cx="475" cy="143"/><circle r="1.964" cx="472" cy="110"/><circle r="1.964" cx="451" cy="179"/><circle r="1.964" cx="449" cy="176"/><circle r="1.964" cx="454" cy="143"/>
<circle r="1.964" cx="425" cy="200"/><circle r="1.964" cx="456" cy="151"/><circle r="1.964" cx="442" cy="171"/><circle r="1.964" cx="451" cy="137"/><circle r="1.964" cx="402" cy="210"/><circle r="1.964" cx="428" cy="187"/>
<circle r="1.964" cx="453" cy="156"/><circle r="1.964" cx="448" cy="161"/><circle r="1.964" cx="459" cy="151"/><circle r="1.964" cx="472" cy="151"/><circle r="1.964" cx="431" cy="193"/><circle r="1.964" cx="442" cy="155"/>
<circle r="1.964" cx="431" cy="172"/><circle r="1.964" cx="460" cy="160"/><circle r="1.964" cx="451" cy="161"/><circle r="1.964" cx="450" cy="159"/><circle r="1.964" cx="444" cy="180"/><circle r="1.964" cx="454" cy="179"/>
<circle r="1.964" cx="441" cy="172"/><circle r="1.964" cx="428" cy="190"/><circle r="1.964" cx="416" cy="200"/><circle r="1.964" cx="473" cy="125"/><circle r="1.964" cx="453" cy="177"/><circle r="1.964" cx="425" cy="188"/>
<circle r="1.964" cx="453" cy="164"/><circle r="1.964" cx="441" cy="159"/><circle r="1.964" cx="462" cy="143"/><circle r="1.964" cx="435" cy="166"/><circle r="1.964" cx="440" cy="183"/><circle r="1.964" cx="446" cy="185"/>
<circle r="1.964" cx="447" cy="127"/><circle r="1.964" cx="451" cy="161"/><circle r="1.964" cx="455" cy="120"/><circle r="1.964" cx="465" cy="182"/><circle r="1.964" cx="461" cy="159"/><circle r="1.964" cx="470" cy="147"/>
<circle r="1.964" cx="455" cy="130"/><circle r="1.964" cx="448" cy="180"/><circle r="1.964" cx="475" cy="148"/><circle r="1.964" cx="452" cy="190"/><circle r="1.964" cx="462" cy="140"/><circle r="1.964" cx="456" cy="171"/>
<circle r="1.964" cx="462" cy="153"/><circle r="1.964" cx="461" cy="98"/><circle r="1.964" cx="449" cy="163"/><circle r="1.964" cx="450" cy="182"/><circle r="1.964" cx="469" cy="117"/><circle r="1.964" cx="448" cy="149"/>
<circle r="1.964" cx="454" cy="154"/><circle r="1.964" cx="450" cy="175"/><circle r="1.964" cx="439" cy="154"/><circle r="1.964" cx="470" cy="138"/><circle r="1.964" cx="453" cy="140"/><circle r="1.964" cx="454" cy="179"/>
<circle r="1.964" cx="469" cy="141"/><circle r="1.964" cx="441" cy="155"/><circle r="1.964" cx="446" cy="186"/><circle r="1.964" cx="422" cy="200"/><circle r="1.964" cx="454" cy="176"/><circle r="1.964" cx="442" cy="174"/>
<circle r="1.964" cx="417" cy="192"/><circle r="1.964" cx="434" cy="179"/><circle r="1.964" cx="434" cy="185"/><circle r="1.964" cx="448" cy="163"/><circle r="1.964" cx="474" cy="138"/><circle r="1.964" cx="439" cy="182"/>
<circle r="1.964" cx="431" cy="169"/><circle r="1.964" cx="448" cy="169"/><circle r="1.964" cx="428" cy="177"/><circle r="1.964" cx="441" cy="158"/><circle r="1.964" cx="454" cy="172"/><circle r="1.964" cx="468" cy="111"/>
<circle r="1.964" cx="449" cy="176"/><circle r="1.964" cx="444" cy="175"/><circle r="1.964" cx="445" cy="146"/><circle r="1.964" cx="411" cy="198"/><circle r="1.964" cx="454" cy="155"/><circle r="1.964" cx="459" cy="175"/>
<circle r="1.964" cx="411" cy="194"/><circle r="1.964" cx="449" cy="169"/><circle r="1.964" cx="456" cy="160"/><circle r="1.964" cx="448" cy="171"/><circle r="1.964" cx="417" cy="203"/><circle r="1.964" cx="461" cy="156"/>
<circle r="1.964" cx="457" cy="168"/><circle r="1.964" cx="460" cy="158"/><circle r="1.964" cx="437" cy="180"/><circle r="1.964" cx="458" cy="146"/><circle r="1.964" cx="452" cy="160"/><circle r="1.964" cx="435" cy="188"/>
<circle r="1.964" cx="452" cy="174"/><circle r="1.964" cx="420" cy="204"/><circle r="1.964" cx="469" cy="144"/><circle r="1.964" cx="452" cy="161"/><circle r="1.964" cx="427" cy="180"/><circle r="1.964" cx="458" cy="180"/>
<circle r="1.964" cx="420" cy="182"/><circle r="1.964" cx="453" cy="166"/><circle r="1.964" cx="440" cy="184"/><circle r="1.964" cx="479" cy="129"/><circle r="1.964" cx="447" cy="174"/><circle r="1.964" cx="438" cy="171"/>
<circle r="1.964" cx="429" cy="200"/><circle r="1.964" cx="454" cy="160"/><circle r="1.964" cx="459" cy="145"/><circle r="1.964" cx="467" cy="155"/><circle r="1.964" cx="454" cy="152"/><circle r="1.964" cx="426" cy="202"/>
<circle r="1.964" cx="447" cy="158"/><circle r="1.964" cx="454" cy="170"/><circle r="1.964" cx="447" cy="182"/><circle r="1.964" cx="470" cy="144"/><circle r="1.964" cx="468" cy="119"/><circle r="1.964" cx="463" cy="156"/>
<circle r="1.964" cx="414" cy="197"/><circle r="1.964" cx="466" cy="153"/><circle r="1.964" cx="475" cy="136"/><circle r="1.964" cx="443" cy="176"/><circle r="1.964" cx="461" cy="161"/><circle r="1.964" cx="464" cy="132"/>
<circle r="1.964" cx="400" cy="205"/><circle r="1.964" cx="421" cy="195"/><circle r="1.964" cx="430" cy="189"/><circle r="1.964" cx="463" cy="143"/><circle r="1.964" cx="436" cy="190"/><circle r="1.964" cx="449" cy="150"/>
<circle r="1.964" cx="448" cy="186"/><circle r="1.964" cx="461" cy="135"/><circle r="1.964" cx="435" cy="184"/><circle r="1.964" cx="440" cy="180"/><circle r="1.964" cx="447" cy="184"/><circle r="1.964" cx="448" cy="185"/>
<circle r="1.964" cx="465" cy="130"/><circle r="1.964" cx="459" cy="181"/><circle r="1.964" cx="418" cy="193"/><circle r="1.964" cx="440" cy="177"/><circle r="1.964" cx="468" cy="144"/><circle r="1.964" cx="476" cy="100"/>
<circle r="1.964" cx="472" cy="128"/><circle r="1.964" cx="427" cy="198"/><circle r="1.964" cx="443" cy="181"/><circle r="1.964" cx="461" cy="148"/><circle r="1.964" cx="435" cy="191"/><circle r="1.964" cx="450" cy="153"/>
<circle r="1.964" cx="444" cy="172"/><circle r="1.964" cx="395" cy="216"/><circle r="1.964" cx="462" cy="165"/><circle r="1.964" cx="471" cy="136"/><circle r="1.964" cx="453" cy="146"/><circle r="1.964" cx="449" cy="204"/>
<circle r="1.964" cx="443" cy="184"/><circle r="1.964" cx="471" cy="132"/><circle r="1.964" cx="441" cy="171"/><circle r="1.964" cx="464" cy="147"/><circle r="1.964" cx="460" cy="159"/><circle r="1.964" cx="436" cy="175"/>
<circle r="1.964" cx="465" cy="138"/><circle r="1.964" cx="447" cy="181"/><circle r="1.964" cx="451" cy="139"/><circle r="1.964" cx="472" cy="139"/><circle r="1.964" cx="464" cy="174"/><circle r="1.964" cx="449" cy="184"/>
<circle r="1.964" cx="437" cy="185"/><circle r="1.964" cx="466" cy="125"/><circle r="1.964" cx="417" cy="203"/><circle r="1.964" cx="435" cy="192"/><circle r="1.964" cx="454" cy="154"/><circle r="1.964" cx="451" cy="145"/>
<circle r="1.964" cx="479" cy="167"/><circle r="1.964" cx="452" cy="150"/><circle r="1.964" cx="415" cy="194"/><circle r="1.964" cx="452" cy="147"/><circle r="1.964" cx="456" cy="139"/><circle r="1.964" cx="457" cy="151"/>
<circle r="1.964" cx="454" cy="165"/><circle r="1.964" cx="441" cy="163"/><circle r="1.964" cx="428" cy="189"/><circle r="1.964" cx="416" cy="201"/><circle r="1.964" cx="422" cy="190"/><circle r="1.964" cx="448" cy="152"/>
<circle r="1.964" cx="462" cy="166"/><circle r="1.964" cx="433" cy="181"/><circle r="1.964" cx="466" cy="111"/><circle r="1.964" cx="465" cy="151"/><circle r="1.964" cx="453" cy="157"/><circle r="1.964" cx="436" cy="162"/>
<circle r="1.964" cx="432" cy="160"/><circle r="1.964" cx="437" cy="180"/><circle r="1.964" cx="411" cy="216"/><circle r="1.964" cx="466" cy="163"/><circle r="1.964" cx="451" cy="168"/><circle r="1.964" cx="451" cy="174"/>
<circle r="1.964" cx="456" cy="166"/><circle r="1.964" cx="458" cy="92"/><circle r="1.964" cx="458" cy="146"/><circle r="1.964" cx="465" cy="145"/><circle r="1.964" cx="452" cy="168"/><circle r="1.964" cx="427" cy="184"/>
<circle r="1.964" cx="419" cy="202"/><circle r="1.964" cx="459" cy="147"/><circle r="1.964" cx="449" cy="171"/><circle r="1.964" cx="416" cy="193"/><circle r="1.964" cx="438" cy="173"/><circle r="1.964" cx="432" cy="180"/>
<circle r="1.964" cx="435" cy="181"/><circle r="1.964" cx="439" cy="198"/><circle r="1.964" cx="453" cy="150"/><circle r="1.964" cx="471" cy="114"/><circle r="1.964" cx="447" cy="166"/><circle r="1.964" cx="438" cy="174"/>
<circle r="1.964" cx="450" cy="185"/><circle r="1.964" cx="447" cy="152"/><circle r="1.964" cx="440" cy="169"/><circle r="1.964" cx="424" cy="194"/><circle r="1.964" cx="435" cy="187"/><circle r="1.964" cx="435" cy="194"/>
<circle r="1.964" cx="452" cy="154"/><circle r="1.964" cx="445" cy="176"/><circle r="1.964" cx="410" cy="197"/><circle r="1.964" cx="443" cy="167"/><circle r="1.964" cx="436" cy="192"/><circle r="1.964" cx="439" cy="172"/>
<circle r="1.964" cx="477" cy="115"/><circle r="1.964" cx="447" cy="171"/><circle r="1.964" cx="464" cy="119"/><circle r="1.964" cx="440" cy="205"/><circle r="1.964" cx="434" cy="181"/><circle r="1.964" cx="431" cy="174"/>
<circle r="1.964" cx="443" cy="168"/><circle r="1.964" cx="443" cy="137"/><circle r="1.964" cx="448" cy="166"/><circle r="1.964" cx="432" cy="182"/><circle r="1.964" cx="431" cy="178"/><circle r="1.964" cx="448" cy="164"/>
<circle r="1.964" cx="456" cy="150"/><circle r="1.964" cx="420" cy="196"/><circle r="1.964" cx="458" cy="161"/><circle r="1.964" cx="434" cy="177"/><circle r="1.964" cx="446" cy="166"/><circle r="1.964" cx="438" cy="176"/>
<circle r="1.964" cx="440" cy="175"/><circle r="1.964" cx="450" cy="165"/><circle r="1.964" cx="451" cy="154"/><circle r="1.964" cx="457" cy="160"/><circle r="1.964" cx="422" cy="199"/><circle r="1.964" cx="438" cy="184"/>
<circle r="1.964" cx="449" cy="154"/><circle r="1.964" cx="468" cy="143"/><circle r="1.964" cx="437" cy="154"/><circle r="1.964" cx="424" cy="174"/><circle r="1.964" cx="453" cy="158"/><circle r="1.964" cx="448" cy="163"/>
<circle r="1.964" cx="439" cy="202"/><circle r="1.964" cx="438" cy="190"/><circle r="1.964" cx="480" cy="115"/><circle r="1.964" cx="430" cy="197"/><circle r="1.964" cx="435" cy="173"/><circle r="1.964" cx="432" cy="182"/>
<circle r="1.964" cx="461" cy="167"/><circle r="1.964" cx="450" cy="144"/><circle r="1.964" cx="470" cy="111"/><circle r="1.964" cx="466" cy="147"/><circle r="1.964" cx="440" cy="154"/><circle r="1.964" cx="450" cy="178"/>
<circle r="1.964" cx="443" cy="189"/><circle r="1.964" cx="438" cy="155"/><circle r="1.964" cx="457" cy="161"/><circle r="1.964" cx="431" cy="173"/><circle r="1.964" cx="445" cy="165"/><circle r="1.964" cx="445" cy="166"/>
<circle r="1.964" cx="457" cy="161"/><circle r="1.964" cx="412" cy="202"/><circle r="1.964" cx="449" cy="165"/><circle r="1.964" cx="461" cy="156"/><circle r="1.964" cx="455" cy="177"/><circle r="1.964" cx="444" cy="183"/>
<circle r="1.964" cx="449" cy="170"/><circle r="1.964" cx="396" cy="202"/><circle r="1.964" cx="424" cy="203"/><circle r="1.964" cx="477" cy="126"/><circle r="1.964" cx="432" cy="188"/><circle r="1.964" cx="461" cy="120"/>
<circle r="1.964" cx="444" cy="173"/><circle r="1.964" cx="453" cy="155"/><circle r="1.964" cx="446" cy="168"/><circle r="1.964" cx="459" cy="176"/><circle r="1.964" cx="463" cy="145"/><circle r="1.964" cx="421" cy="188"/>
<circle r="1.964" cx="464" cy="170"/><circle r="1.964" cx="458" cy="173"/><circle r="1.964" cx="467" cy="139"/><circle r="1.964" cx="442" cy="167"/><circle r="1.964" cx="439" cy="165"/><circle r="1.964" cx="430" cy="201"/>
<circle r="1.964" cx="448" cy="169"/><circle r="1.964" cx="456" cy="158"/><circle r="1.964" cx="431" cy="188"/><circle r="1.964" cx="422" cy="198"/><circle r="1.964" cx="452" cy="150"/><circle r="1.964" cx="439" cy="195"/>
<circle r="1.964" cx="454" cy="184"/><circle r="1.964" cx="456" cy="183"/><circle r="1.964" cx="448" cy="177"/><circle r="1.964" cx="460" cy="171"/><circle r="1.964" cx="407" cy="200"/><circle r="1.964" cx="445" cy="127"/>
<circle r="1.964" cx="419" cy="192"/><circle r="1.964" cx="468" cy="167"/><circle r="1.964" cx="448" cy="171"/><circle r="1.964" cx="421" cy="183"/><circle r="1.964" cx="451" cy="161"/><circle r="1.964" cx="433" cy="170"/>
<circle r="1.964" cx="442" cy="180"/><circle r="1.964" cx="440" cy="181"/><circle r="1.964" cx="470" cy="147"/><circle r="1.964" cx="448" cy="159"/><circle r="1.964" cx="464" cy="122"/><circle r="1.964" cx="450" cy="176"/>
<circle r="1.964" cx="467" cy="147"/><circle r="1.964" cx="451" cy="173"/><circle r="1.964" cx="439" cy="165"/><circle r="1.964" cx="444" cy="174"/><circle r="1.964" cx="457" cy="156"/><circle r="1.964" cx="444" cy="155"/>
<circle r="1.964" cx="443" cy="176"/><circle r="1.964" cx="428" cy="207"/><circle r="1.964" cx="454" cy="158"/><circle r="1.964" cx="462" cy="119"/><circle r="1.964" cx="429" cy="196"/><circle r="1.964" cx="438" cy="174"/>
<circle r="1.964" cx="425" cy="182"/><circle r="1.964" cx="454" cy="142"/><circle r="1.964" cx="450" cy="164"/><circle r="1.964" cx="438" cy="162"/><circle r="1.964" cx="446" cy="168"/><circle r="1.964" cx="461" cy="180"/>
<circle r="1.964" cx="464" cy="140"/><circle r="1.964" cx="454" cy="159"/><circle r="1.964" cx="438" cy="191"/><circle r="1.964" cx="467" cy="141"/><circle r="1.964" cx="467" cy="128"/><circle r="1.964" cx="474" cy="126"/>
<circle r="1.964" cx="453" cy="151"/><circle r="1.964" cx="433" cy="180"/><circle r="1.964" cx="455" cy="155"/><circle r="1.964" cx="455" cy="126"/><circle r="1.964" cx="433" cy="179"/><circle r="1.964" cx="439" cy="186"/>
<circle r="1.964" cx="458" cy="170"/><circle r="1.964" cx="432" cy="183"/><circle r="1.964" cx="448" cy="164"/><circle r="1.964" cx="477" cy="126"/><circle r="1.964" cx="467" cy="154"/><circle r="1.964" cx="461" cy="177"/>
<circle r="1.964" cx="467" cy="159"/><circle r="1.964" cx="457" cy="132"/><circle r="1.964" cx="412" cy="202"/><circle r="1.964" cx="444" cy="181"/><circle r="1.964" cx="453" cy="156"/><circle r="1.964" cx="434" cy="175"/>
<circle r="1.964" cx="437" cy="167"/><circle r="1.964" cx="461" cy="143"/><circle r="1.964" cx="423" cy="201"/><circle r="1.964" cx="438" cy="192"/><circle r="1.964" cx="463" cy="155"/><circle r="1.964" cx="444" cy="185"/>
<circle r="1.964" cx="451" cy="146"/><circle r="1.964" cx="454" cy="179"/><circle r="1.964" cx="439" cy="175"/><circle r="1.964" cx="450" cy="166"/><circle r="1.964" cx="203" cy="165"/><circle r="1.964" cx="242" cy="158"/>
<circle r="1.964" cx="216" cy="154"/><circle r="1.964" cx="258" cy="178"/><circle r="1.964" cx="194" cy="168"/><circle r="1.964" cx="256" cy="174"/><circle r="1.964" cx="219" cy="160"/><circle r="1.964" cx="217" cy="169"/>
<circle r="1.964" cx="233" cy="175"/><circle r="1.964" cx="234" cy="165"/><circle r="1.964" cx="205" cy="162"/><circle r="1.964" cx="188" cy="161"/><circle r="1.964" cx="250" cy="169"/><circle r="1.964" cx="184" cy="155"/>
<circle r="1.964" cx="215" cy="172"/><circle r="1.964" cx="190" cy="161"/><circle r="1.964" cx="242" cy="167"/><circle r="1.964" cx="241" cy="173"/><circle r="1.964" cx="186" cy="158"/><circle r="1.964" cx="197" cy="175"/>
<circle r="1.964" cx="211" cy="168"/><circle r="1.964" cx="199" cy="164"/><circle r="1.964" cx="205" cy="158"/><circle r="1.964" cx="249" cy="168"/><circle r="1.964" cx="270" cy="183"/><circle r="1.964" cx="266" cy="167"/>
<circle r="1.964" cx="264" cy="173"/><circle r="1.964" cx="275" cy="177"/><circle r="1.964" cx="242" cy="155"/><circle r="1.964" cx="236" cy="158"/><circle r="1.964" cx="220" cy="160"/><circle r="1.964" cx="210" cy="165"/>
<circle r="1.964" cx="232" cy="159"/><circle r="1.964" cx="214" cy="180"/><circle r="1.964" cx="220" cy="156"/><circle r="1.964" cx="252" cy="157"/><circle r="1.964" cx="236" cy="167"/><circle r="1.964" cx="215" cy="165"/>
<circle r="1.964" cx="236" cy="166"/><circle r="1.964" cx="234" cy="164"/><circle r="1.964" cx="217" cy="169"/><circle r="1.964" cx="174" cy="177"/><circle r="1.964" cx="206" cy="167"/><circle r="1.964" cx="230" cy="159"/>
<circle r="1.964" cx="232" cy="167"/><circle r="1.964" cx="231" cy="148"/><circle r="1.964" cx="154" cy="168"/><circle r="1.964" cx="201" cy="166"/><circle r="1.964" cx="210" cy="165"/><circle r="1.964" cx="197" cy="155"/>
<circle r="1.964" cx="249" cy="167"/><circle r="1.964" cx="156" cy="173"/><circle r="1.964" cx="190" cy="162"/><circle r="1.964" cx="216" cy="168"/><circle r="1.964" cx="208" cy="172"/><circle r="1.964" cx="241" cy="159"/>
<circle r="1.964" cx="226" cy="147"/><circle r="1.964" cx="224" cy="159"/><circle r="1.964" cx="190" cy="165"/><circle r="1.964" cx="209" cy="161"/><circle r="1.964" cx="220" cy="162"/><circle r="1.964" cx="209" cy="144"/>
<circle r="1.964" cx="206" cy="156"/><circle r="1.964" cx="216" cy="155"/><circle r="1.964" cx="262" cy="166"/><circle r="1.964" cx="191" cy="159"/><circle r="1.964" cx="249" cy="168"/><circle r="1.964" cx="242" cy="171"/>
<circle r="1.964" cx="220" cy="164"/><circle r="1.964" cx="201" cy="167"/><circle r="1.964" cx="180" cy="160"/><circle r="1.964" cx="264" cy="169"/><circle r="1.964" cx="172" cy="175"/><circle r="1.964" cx="169" cy="170"/>
<circle r="1.964" cx="230" cy="164"/><circle r="1.964" cx="227" cy="158"/><circle r="1.964" cx="233" cy="165"/><circle r="1.964" cx="234" cy="165"/><circle r="1.964" cx="254" cy="168"/><circle r="1.964" cx="261" cy="174"/>
<circle r="1.964" cx="223" cy="164"/><circle r="1.964" cx="212" cy="159"/><circle r="1.964" cx="166" cy="166"/><circle r="1.964" cx="243" cy="169"/><circle r="1.964" cx="277" cy="170"/><circle r="1.964" cx="220" cy="152"/>
<circle r="1.964" cx="231" cy="163"/><circle r="1.964" cx="217" cy="146"/><circle r="1.964" cx="229" cy="163"/><circle r="1.964" cx="250" cy="170"/><circle r="1.964" cx="236" cy="165"/><circle r="1.964" cx="193" cy="167"/>
<circle r="1.964" cx="208" cy="165"/><circle r="1.964" cx="245" cy="166"/><circle r="1.964" cx="193" cy="164"/><circle r="1.964" cx="259" cy="167"/><circle r="1.964" cx="235" cy="160"/><circle r="1.964" cx="215" cy="158"/>
<circle r="1.964" cx="251" cy="173"/><circle r="1.964" cx="247" cy="171"/><circle r="1.964" cx="222" cy="155"/><circle r="1.964" cx="223" cy="158"/><circle r="1.964" cx="224" cy="164"/><circle r="1.964" cx="235" cy="161"/>
<circle r="1.964" cx="250" cy="164"/><circle r="1.964" cx="240" cy="163"/><circle r="1.964" cx="241" cy="157"/><circle r="1.964" cx="172" cy="172"/><circle r="1.964" cx="233" cy="166"/><circle r="1.964" cx="177" cy="168"/>
<circle r="1.964" cx="185" cy="158"/><circle r="1.964" cx="201" cy="170"/><circle r="1.964" cx="236" cy="164"/><circle r="1.964" cx="255" cy="168"/><circle r="1.964" cx="186" cy="173"/><circle r="1.964" cx="260" cy="159"/>
<circle r="1.964" cx="252" cy="168"/><circle r="1.964" cx="174" cy="167"/><circle r="1.964" cx="175" cy="169"/><circle r="1.964" cx="217" cy="162"/><circle r="1.964" cx="230" cy="155"/><circle r="1.964" cx="242" cy="156"/>
<circle r="1.964" cx="205" cy="168"/><circle r="1.964" cx="238" cy="155"/><circle r="1.964" cx="260" cy="168"/><circle r="1.964" cx="236" cy="168"/><circle r="1.964" cx="217" cy="153"/><circle r="1.964" cx="262" cy="168"/>
<circle r="1.964" cx="246" cy="164"/><circle r="1.964" cx="217" cy="157"/><circle r="1.964" cx="174" cy="155"/><circle r="1.964" cx="209" cy="168"/><circle r="1.964" cx="217" cy="163"/><circle r="1.964" cx="162" cy="170"/>
<circle r="1.964" cx="239" cy="176"/><circle r="1.964" cx="242" cy="159"/><circle r="1.964" cx="197" cy="157"/><circle r="1.964" cx="196" cy="145"/><circle r="1.964" cx="198" cy="174"/><circle r="1.964" cx="192" cy="172"/>
<circle r="1.964" cx="193" cy="173"/><circle r="1.964" cx="215" cy="164"/><circle r="1.964" cx="204" cy="153"/><circle r="1.964" cx="183" cy="153"/><circle r="1.964" cx="218" cy="160"/><circle r="1.964" cx="254" cy="152"/>
<circle r="1.964" cx="265" cy="174"/><circle r="1.964" cx="221" cy="155"/><circle r="1.964" cx="239" cy="162"/><circle r="1.964" cx="237" cy="159"/><circle r="1.964" cx="241" cy="176"/><circle r="1.964" cx="212" cy="159"/>
<circle r="1.964" cx="199" cy="159"/><circle r="1.964" cx="206" cy="162"/><circle r="1.964" cx="251" cy="163"/><circle r="1.964" cx="185" cy="178"/><circle r="1.964" cx="202" cy="175"/><circle r="1.964" cx="283" cy="179"/>
<circle r="1.964" cx="204" cy="157"/><circle r="1.964" cx="269" cy="177"/><circle r="1.964" cx="250" cy="166"/><circle r="1.964" cx="196" cy="147"/><circle r="1.964" cx="197" cy="167"/><circle r="1.964" cx="237" cy="162"/>
<circle r="1.964" cx="245" cy="161"/><circle r="1.964" cx="212" cy="155"/><circle r="1.964" cx="262" cy="177"/><circle r="1.964" cx="210" cy="155"/><circle r="1.964" cx="227" cy="161"/><circle r="1.964" cx="207" cy="144"/>
<circle r="1.964" cx="228" cy="152"/><circle r="1.964" cx="245" cy="170"/><circle r="1.964" cx="211" cy="165"/><circle r="1.964" cx="238" cy="148"/><circle r="1.964" cx="259" cy="165"/><circle r="1.964" cx="250" cy="166"/>
<circle r="1.964" cx="239" cy="174"/><circle r="1.964" cx="210" cy="173"/><circle r="1.964" cx="187" cy="179"/><circle r="1.964" cx="213" cy="172"/><circle r="1.964" cx="250" cy="168"/><circle r="1.964" cx="231" cy="159"/>
<circle r="1.964" cx="205" cy="157"/><circle r="1.964" cx="183" cy="173"/><circle r="1.964" cx="239" cy="171"/><circle r="1.964" cx="211" cy="161"/><circle r="1.964" cx="232" cy="158"/><circle r="1.964" cx="274" cy="175"/>
<circle r="1.964" cx="252" cy="169"/><circle r="1.964" cx="234" cy="163"/><circle r="1.964" cx="241" cy="152"/><circle r="1.964" cx="238" cy="151"/><circle r="1.964" cx="232" cy="167"/><circle r="1.964" cx="215" cy="149"/>
<circle r="1.964" cx="240" cy="171"/><circle r="1.964" cx="265" cy="165"/><circle r="1.964" cx="204" cy="161"/><circle r="1.964" cx="232" cy="168"/><circle r="1.964" cx="196" cy="161"/><circle r="1.964" cx="244" cy="161"/>
<circle r="1.964" cx="182" cy="160"/><circle r="1.964" cx="253" cy="165"/><circle r="1.964" cx="249" cy="169"/><circle r="1.964" cx="202" cy="155"/><circle r="1.964" cx="167" cy="166"/><circle r="1.964" cx="241" cy="163"/>
<circle r="1.964" cx="174" cy="164"/><circle r="1.964" cx="178" cy="156"/><circle r="1.964" cx="202" cy="150"/><circle r="1.964" cx="225" cy="161"/><circle r="1.964" cx="272" cy="180"/><circle r="1.964" cx="266" cy="162"/>
<circle r="1.964" cx="236" cy="170"/><circle r="1.964" cx="204" cy="161"/><circle r="1.964" cx="221" cy="166"/><circle r="1.964" cx="242" cy="156"/><circle r="1.964" cx="219" cy="157"/><circle r="1.964" cx="268" cy="164"/>
<circle r="1.964" cx="211" cy="156"/><circle r="1.964" cx="240" cy="171"/><circle r="1.964" cx="177" cy="174"/><circle r="1.964" cx="220" cy="151"/><circle r="1.964" cx="237" cy="167"/><circle r="1.964" cx="236" cy="159"/>
<circle r="1.964" cx="264" cy="166"/><circle r="1.964" cx="210" cy="167"/><circle r="1.964" cx="256" cy="153"/><circle r="1.964" cx="226" cy="154"/><circle r="1.964" cx="187" cy="160"/><circle r="1.964" cx="207" cy="165"/>
<circle r="1.964" cx="204" cy="162"/><circle r="1.964" cx="207" cy="147"/><circle r="1.964" cx="184" cy="169"/><circle r="1.964" cx="230" cy="155"/><circle r="1.964" cx="252" cy="166"/><circle r="1.964" cx="212" cy="162"/>
<circle r="1.964" cx="244" cy="174"/><circle r="1.964" cx="207" cy="152"/><circle r="1.964" cx="209" cy="162"/><circle r="1.964" cx="246" cy="168"/><circle r="1.964" cx="184" cy="158"/><circle r="1.964" cx="218" cy="166"/>
<circle r="1.964" cx="231" cy="163"/><circle r="1.964" cx="247" cy="163"/><circle r="1.964" cx="190" cy="153"/><circle r="1.964" cx="224" cy="173"/><circle r="1.964" cx="234" cy="161"/><circle r="1.964" cx="231" cy="164"/>
<circle r="1.964" cx="237" cy="169"/><circle r="1.964" cx="262" cy="173"/><circle r="1.964" cx="231" cy="175"/><circle r="1.964" cx="248" cy="158"/><circle r="1.964" cx="200" cy="160"/><circle r="1.964" cx="254" cy="168"/>
<circle r="1.964" cx="196" cy="168"/><circle r="1.964" cx="232" cy="165"/><circle r="1.964" cx="238" cy="168"/><circle r="1.964" cx="214" cy="176"/><circle r="1.964" cx="217" cy="163"/><circle r="1.964" cx="224" cy="148"/>
<circle r="1.964" cx="201" cy="164"/><circle r="1.964" cx="210" cy="165"/><circle r="1.964" cx="259" cy="170"/><circle r="1.964" cx="237" cy="164"/><circle r="1.964" cx="174" cy="159"/><circle r="1.964" cx="219" cy="166"/>
<circle r="1.964" cx="276" cy="180"/><circle r="1.964" cx="210" cy="167"/><circle r="1.964" cx="170" cy="164"/><circle r="1.964" cx="185" cy="163"/><circle r="1.964" cx="219" cy="159"/><circle r="1.964" cx="217" cy="154"/>
<circle r="1.964" cx="208" cy="148"/><circle r="1.964" cx="227" cy="156"/><circle r="1.964" cx="235" cy="159"/><circle r="1.964" cx="169" cy="172"/><circle r="1.964" cx="228" cy="165"/><circle r="1.964" cx="193" cy="155"/>
<circle r="1.964" cx="264" cy="165"/><circle r="1.964" cx="239" cy="166"/><circle r="1.964" cx="243" cy="175"/><circle r="1.964" cx="206" cy="163"/><circle r="1.964" cx="238" cy="160"/><circle r="1.964" cx="237" cy="162"/>
<circle r="1.964" cx="244" cy="165"/><circle r="1.964" cx="209" cy="171"/><circle r="1.964" cx="188" cy="168"/><circle r="1.964" cx="238" cy="159"/><circle r="1.964" cx="200" cy="164"/><circle r="1.964" cx="221" cy="159"/>
<circle r="1.964" cx="232" cy="168"/><circle r="1.964" cx="212" cy="155"/><circle r="1.964" cx="180" cy="165"/><circle r="1.964" cx="196" cy="167"/><circle r="1.964" cx="162" cy="180"/><circle r="1.964" cx="224" cy="160"/>
<circle r="1.964" cx="200" cy="155"/><circle r="1.964" cx="196" cy="152"/><circle r="1.964" cx="204" cy="162"/><circle r="1.964" cx="215" cy="155"/><circle r="1.964" cx="182" cy="161"/><circle r="1.964" cx="186" cy="164"/>
<circle r="1.964" cx="216" cy="157"/><circle r="1.964" cx="200" cy="160"/><circle r="1.964" cx="245" cy="162"/><circle r="1.964" cx="225" cy="158"/><circle r="1.964" cx="222" cy="149"/><circle r="1.964" cx="214" cy="171"/>
<circle r="1.964" cx="240" cy="160"/><circle r="1.964" cx="185" cy="157"/><circle r="1.964" cx="207" cy="164"/><circle r="1.964" cx="200" cy="157"/><circle r="1.964" cx="254" cy="166"/><circle r="1.964" cx="233" cy="163"/>
<circle r="1.964" cx="238" cy="163"/><circle r="1.964" cx="224" cy="162"/><circle r="1.964" cx="173" cy="159"/><circle r="1.964" cx="142" cy="184"/><circle r="1.964" cx="218" cy="153"/><circle r="1.964" cx="215" cy="148"/>
<circle r="1.964" cx="224" cy="162"/><circle r="1.964" cx="234" cy="162"/><circle r="1.964" cx="191" cy="166"/><circle r="1.964" cx="234" cy="156"/><circle r="1.964" cx="243" cy="171"/><circle r="1.964" cx="198" cy="165"/>
<circle r="1.964" cx="227" cy="156"/><circle r="1.964" cx="207" cy="164"/><circle r="1.964" cx="206" cy="166"/><circle r="1.964" cx="190" cy="164"/><circle r="1.964" cx="202" cy="158"/><circle r="1.964" cx="199" cy="147"/>
<circle r="1.964" cx="225" cy="156"/><circle r="1.964" cx="228" cy="149"/><circle r="1.964" cx="202" cy="170"/><circle r="1.964" cx="212" cy="159"/><circle r="1.964" cx="209" cy="153"/><circle r="1.964" cx="202" cy="170"/>
<circle r="1.964" cx="150" cy="185"/><circle r="1.964" cx="225" cy="158"/><circle r="1.964" cx="202" cy="164"/><circle r="1.964" cx="212" cy="164"/><circle r="1.964" cx="177" cy="168"/><circle r="1.964" cx="237" cy="166"/>
<circle r="1.964" cx="250" cy="168"/><circle r="1.964" cx="180" cy="170"/><circle r="1.964" cx="194" cy="167"/><circle r="1.964" cx="215" cy="157"/><circle r="1.964" cx="236" cy="167"/><circle r="1.964" cx="176" cy="176"/>
<circle r="1.964" cx="211" cy="151"/><circle r="1.964" cx="239" cy="156"/><circle r="1.964" cx="229" cy="166"/><circle r="1.964" cx="233" cy="168"/><circle r="1.964" cx="173" cy="174"/><circle r="1.964" cx="222" cy="164"/>
<circle r="1.964" cx="236" cy="179"/><circle r="1.964" cx="236" cy="160"/><circle r="1.964" cx="192" cy="151"/><circle r="1.964" cx="199" cy="166"/><circle r="1.964" cx="242" cy="158"/><circle r="1.964" cx="246" cy="171"/>
<circle r="1.964" cx="233" cy="166"/><circle r="1.964" cx="212" cy="158"/><circle r="1.964" cx="231" cy="160"/><circle r="1.964" cx="234" cy="164"/><circle r="1.964" cx="220" cy="157"/><circle r="1.964" cx="234" cy="163"/>
<circle r="1.964" cx="242" cy="174"/><circle r="1.964" cx="252" cy="173"/><circle r="1.964" cx="244" cy="165"/><circle r="1.964" cx="238" cy="165"/><circle r="1.964" cx="210" cy="164"/><circle r="1.964" cx="214" cy="165"/>
<circle r="1.964" cx="246" cy="158"/><circle r="1.964" cx="178" cy="183"/><circle r="1.964" cx="251" cy="167"/><circle r="1.964" cx="195" cy="154"/><circle r="1.964" cx="247" cy="171"/><circle r="1.964" cx="234" cy="153"/>
<circle r="1.964" cx="199" cy="154"/><circle r="1.964" cx="190" cy="170"/><circle r="1.964" cx="243" cy="162"/><circle r="1.964" cx="216" cy="161"/><circle r="1.964" cx="250" cy="165"/><circle r="1.964" cx="223" cy="164"/>
<circle r="1.964" cx="207" cy="161"/><circle r="1.964" cx="239" cy="156"/><circle r="1.964" cx="179" cy="156"/><circle r="1.964" cx="207" cy="157"/><circle r="1.964" cx="200" cy="160"/><circle r="1.964" cx="239" cy="157"/>
<circle r="1.964" cx="213" cy="175"/><circle r="1.964" cx="219" cy="146"/><circle r="1.964" cx="195" cy="160"/><circle r="1.964" cx="196" cy="166"/><circle r="1.964" cx="227" cy="167"/><circle r="1.964" cx="234" cy="175"/>
<circle r="1.964" cx="248" cy="170"/><circle r="1.964" cx="156" cy="170"/><circle r="1.964" cx="187" cy="161"/><circle r="1.964" cx="172" cy="174"/><circle r="1.964" cx="222" cy="163"/><circle r="1.964" cx="155" cy="183"/>
<circle r="1.964" cx="204" cy="161"/><circle r="1.964" cx="217" cy="153"/><circle r="1.964" cx="232" cy="164"/><circle r="1.964" cx="262" cy="162"/><circle r="1.964" cx="194" cy="171"/><circle r="1.964" cx="215" cy="163"/>
<circle r="1.964" cx="220" cy="160"/><circle r="1.964" cx="252" cy="171"/><circle r="1.964" cx="268" cy="177"/><circle r="1.964" cx="256" cy="156"/><circle r="1.964" cx="198" cy="153"/><circle r="1.964" cx="163" cy="167"/>
<circle r="1.964" cx="240" cy="159"/><circle r="1.964" cx="226" cy="164"/><circle r="1.964" cx="254" cy="177"/><circle r="1.964" cx="245" cy="167"/><circle r="1.964" cx="215" cy="152"/><circle r="1.964" cx="230" cy="178"/>
<circle r="1.964" cx="206" cy="177"/><circle r="1.964" cx="180" cy="170"/><circle r="1.964" cx="220" cy="168"/><circle r="1.964" cx="242" cy="176"/><circle r="1.964" cx="176" cy="152"/><circle r="1.964" cx="211" cy="144"/>
<circle r="1.964" cx="213" cy="160"/><circle r="1.964" cx="211" cy="158"/><circle r="1.964" cx="227" cy="159"/><circle r="1.964" cx="202" cy="155"/><circle r="1.964" cx="253" cy="172"/><circle r="1.964" cx="219" cy="162"/>
<circle r="1.964" cx="247" cy="171"/><circle r="1.964" cx="230" cy="146"/><circle r="1.964" cx="207" cy="149"/><circle r="1.964" cx="222" cy="164"/><circle r="1.964" cx="166" cy="171"/><circle r="1.964" cx="219" cy="161"/>
<circle r="1.964" cx="229" cy="175"/><circle r="1.964" cx="215" cy="152"/><circle r="1.964" cx="213" cy="159"/><circle r="1.964" cx="212" cy="155"/><circle r="1.964" cx="222" cy="153"/><circle r="1.964" cx="222" cy="160"/>
<circle r="1.964" cx="191" cy="163"/><circle r="1.964" cx="261" cy="170"/><circle r="1.964" cx="199" cy="159"/><circle r="1.964" cx="233" cy="164"/><circle r="1.964" cx="222" cy="161"/><circle r="1.964" cx="241" cy="167"/>
<circle r="1.964" cx="183" cy="162"/><circle r="1.964" cx="271" cy="176"/><circle r="1.964" cx="255" cy="163"/><circle r="1.964" cx="244" cy="142"/><circle r="1.964" cx="199" cy="162"/><circle r="1.964" cx="250" cy="173"/>
<circle r="1.964" cx="204" cy="160"/><circle r="1.964" cx="182" cy="173"/><circle r="1.964" cx="240" cy="169"/><circle r="1.964" cx="282" cy="182"/><circle r="1.964" cx="198" cy="159"/><circle r="1.964" cx="224" cy="160"/>
<circle r="1.964" cx="217" cy="167"/><circle r="1.964" cx="190" cy="157"/><circle r="1.964" cx="201" cy="155"/><circle r="1.964" cx="235" cy="162"/><circle r="1.964" cx="219" cy="153"/><circle r="1.964" cx="243" cy="164"/>
<circle r="1.964" cx="206" cy="161"/><circle r="1.964" cx="219" cy="164"/><circle r="1.964" cx="207" cy="156"/><circle r="1.964" cx="228" cy="174"/><circle r="1.964" cx="217" cy="153"/><circle r="1.964" cx="210" cy="160"/>
<circle r="1.964" cx="203" cy="159"/><circle r="1.964" cx="214" cy="164"/><circle r="1.964" cx="267" cy="179"/><circle r="1.964" cx="200" cy="169"/><circle r="1.964" cx="254" cy="163"/><circle r="1.964" cx="184" cy="173"/>
<circle r="1.964" cx="219" cy="162"/><circle r="1.964" cx="217" cy="164"/><circle r="1.964" cx="235" cy="166"/><circle r="1.964" cx="167" cy="170"/><circle r="1.964" cx="234" cy="172"/><circle r="1.964" cx="177" cy="167"/>
<circle r="1.964" cx="172" cy="165"/><circle r="1.964" cx="181" cy="158"/><circle r="1.964" cx="221" cy="161"/><circle r="1.964" cx="245" cy="162"/><circle r="1.964" cx="239" cy="163"/><circle r="1.964" cx="253" cy="174"/>
<circle r="1.964" cx="178" cy="164"/><circle r="1.964" cx="207" cy="163"/><circle r="1.964" cx="248" cy="166"/><circle r="1.964" cx="200" cy="154"/><circle r="1.964" cx="216" cy="158"/><circle r="1.964" cx="189" cy="160"/>
<circle r="1.964" cx="205" cy="164"/><circle r="1.964" cx="251" cy="160"/><circle r="1.964" cx="213" cy="160"/><circle r="1.964" cx="190" cy="164"/><circle r="1.964" cx="208" cy="170"/><circle r="1.964" cx="214" cy="160"/>
<circle r="1.964" cx="254" cy="162"/><circle r="1.964" cx="243" cy="151"/><circle r="1.964" cx="214" cy="164"/><circle r="1.964" cx="188" cy="174"/><circle r="1.964" cx="235" cy="160"/><circle r="1.964" cx="222" cy="170"/>
<circle r="1.964" cx="151" cy="180"/><circle r="1.964" cx="242" cy="166"/><circle r="1.964" cx="226" cy="159"/><circle r="1.964" cx="243" cy="165"/><circle r="1.964" cx="218" cy="160"/><circle r="1.964" cx="201" cy="148"/>
<circle r="1.964" cx="193" cy="164"/><circle r="1.964" cx="205" cy="163"/><circle r="1.964" cx="184" cy="156"/><circle r="1.964" cx="226" cy="148"/><circle r="1.964" cx="200" cy="159"/><circle r="1.964" cx="250" cy="158"/>
<circle r="1.964" cx="194" cy="151"/><circle r="1.964" cx="241" cy="154"/><circle r="1.964" cx="179" cy="166"/><circle r="1.964" cx="246" cy="165"/><circle r="1.964" cx="204" cy="169"/><circle r="1.964" cx="215" cy="151"/>
<circle r="1.964" cx="210" cy="160"/><circle r="1.964" cx="226" cy="155"/><circle r="1.964" cx="171" cy="168"/><circle r="1.964" cx="208" cy="158"/><circle r="1.964" cx="251" cy="163"/><circle r="1.964" cx="237" cy="156"/>
<circle r="1.964" cx="182" cy="164"/><circle r="1.964" cx="243" cy="164"/><circle r="1.964" cx="164" cy="168"/><circle r="1.964" cx="229" cy="161"/><circle r="1.964" cx="262" cy="177"/><circle r="1.964" cx="190" cy="167"/>
<circle r="1.964" cx="249" cy="157"/><circle r="1.964" cx="209" cy="175"/><circle r="1.964" cx="255" cy="165"/><circle r="1.964" cx="210" cy="167"/><circle r="1.964" cx="198" cy="163"/><circle r="1.964" cx="197" cy="159"/>
<circle r="1.964" cx="229" cy="156"/><circle r="1.964" cx="257" cy="175"/><circle r="1.964" cx="181" cy="164"/><circle r="1.964" cx="224" cy="148"/><circle r="1.964" cx="224" cy="151"/><circle r="1.964" cx="259" cy="171"/>
<circle r="1.964" cx="230" cy="175"/><circle r="1.964" cx="217" cy="158"/><circle r="1.964" cx="225" cy="162"/><circle r="1.964" cx="217" cy="158"/><circle r="1.964" cx="244" cy="169"/><circle r="1.964" cx="262" cy="174"/>
<circle r="1.964" cx="209" cy="163"/><circle r="1.964" cx="222" cy="164"/><circle r="1.964" cx="188" cy="162"/><circle r="1.964" cx="183" cy="157"/><circle r="1.964" cx="224" cy="161"/><circle r="1.964" cx="224" cy="170"/>
<circle r="1.964" cx="178" cy="170"/><circle r="1.964" cx="191" cy="165"/><circle r="1.964" cx="235" cy="176"/><circle r="1.964" cx="164" cy="168"/><circle r="1.964" cx="215" cy="155"/><circle r="1.964" cx="218" cy="169"/>
<circle r="1.964" cx="261" cy="159"/><circle r="1.964" cx="226" cy="167"/><circle r="1.964" cx="206" cy="155"/><circle r="1.964" cx="203" cy="170"/><circle r="1.964" cx="176" cy="167"/><circle r="1.964" cx="194" cy="155"/>
<circle r="1.964" cx="237" cy="175"/><circle r="1.964" cx="228" cy="157"/><circle r="1.964" cx="234" cy="154"/><circle r="1.964" cx="238" cy="165"/><circle r="1.964" cx="239" cy="163"/><circle r="1.964" cx="249" cy="159"/>
<circle r="1.964" cx="246" cy="164"/><circle r="1.964" cx="224" cy="157"/><circle r="1.964" cx="201" cy="175"/><circle r="1.964" cx="183" cy="164"/><circle r="1.964" cx="243" cy="164"/><circle r="1.964" cx="226" cy="174"/>
<circle r="1.964" cx="224" cy="162"/><circle r="1.964" cx="215" cy="159"/><circle r="1.964" cx="238" cy="158"/><circle r="1.964" cx="222" cy="155"/><circle r="1.964" cx="246" cy="158"/><circle r="1.964" cx="233" cy="174"/>
<circle r="1.964" cx="257" cy="169"/><circle r="1.964" cx="244" cy="173"/><circle r="1.964" cx="266" cy="175"/><circle r="1.964" cx="181" cy="173"/><circle r="1.964" cx="192" cy="169"/><circle r="1.964" cx="216" cy="163"/>
<circle r="1.964" cx="216" cy="173"/><circle r="1.964" cx="169" cy="181"/><circle r="1.964" cx="212" cy="147"/><circle r="1.964" cx="236" cy="166"/><circle r="1.964" cx="218" cy="159"/><circle r="1.964" cx="217" cy="148"/>
<circle r="1.964" cx="213" cy="158"/><circle r="1.964" cx="207" cy="166"/><circle r="1.964" cx="258" cy="176"/><circle r="1.964" cx="236" cy="169"/><circle r="1.964" cx="269" cy="176"/><circle r="1.964" cx="205" cy="169"/>
<circle r="1.964" cx="230" cy="163"/><circle r="1.964" cx="253" cy="168"/><circle r="1.964" cx="151" cy="182"/><circle r="1.964" cx="185" cy="156"/><circle r="1.964" cx="238" cy="154"/><circle r="1.964" cx="189" cy="173"/>
<circle r="1.964" cx="237" cy="161"/><circle r="1.964" cx="187" cy="170"/><circle r="1.964" cx="195" cy="162"/><circle r="1.964" cx="222" cy="177"/><circle r="1.964" cx="199" cy="165"/><circle r="1.964" cx="167" cy="162"/>
<circle r="1.964" cx="191" cy="157"/><circle r="1.964" cx="254" cy="161"/><circle r="1.964" cx="201" cy="168"/><circle r="1.964" cx="189" cy="173"/><circle r="1.964" cx="204" cy="171"/><circle r="1.964" cx="186" cy="158"/>
<circle r="1.964" cx="235" cy="163"/><circle r="1.964" cx="274" cy="179"/><circle r="1.964" cx="174" cy="159"/><circle r="1.964" cx="250" cy="160"/><circle r="1.964" cx="223" cy="154"/><circle r="1.964" cx="264" cy="160"/>
<circle r="1.964" cx="189" cy="167"/><circle r="1.964" cx="237" cy="175"/><circle r="1.964" cx="213" cy="159"/><circle r="1.964" cx="219" cy="155"/><circle r="1.964" cx="164" cy="185"/><circle r="1.964" cx="155" cy="182"/>
<circle r="1.964" cx="192" cy="165"/><circle r="1.964" cx="186" cy="161"/><circle r="1.964" cx="211" cy="155"/><circle r="1.964" cx="208" cy="162"/><circle r="1.964" cx="239" cy="164"/><circle r="1.964" cx="201" cy="159"/>
<circle r="1.964" cx="266" cy="177"/><circle r="1.964" cx="194" cy="158"/><circle r="1.964" cx="223" cy="145"/><circle r="1.964" cx="218" cy="161"/><circle r="1.964" cx="179" cy="173"/><circle r="1.964" cx="260" cy="179"/>
<circle r="1.964" cx="239" cy="170"/><circle r="1.964" cx="196" cy="171"/><circle r="1.964" cx="227" cy="161"/><circle r="1.964" cx="201" cy="160"/><circle r="1.964" cx="222" cy="165"/><circle r="1.964" cx="249" cy="166"/>
<circle r="1.964" cx="200" cy="171"/><circle r="1.964" cx="217" cy="152"/><circle r="1.964" cx="204" cy="158"/><circle r="1.964" cx="200" cy="166"/><circle r="1.964" cx="156" cy="175"/><circle r="1.964" cx="242" cy="168"/>
<circle r="1.964" cx="235" cy="162"/><circle r="1.964" cx="176" cy="164"/><circle r="1.964" cx="247" cy="156"/><circle r="1.964" cx="216" cy="159"/><circle r="1.964" cx="189" cy="156"/><circle r="1.964" cx="202" cy="169"/>
<circle r="1.964" cx="207" cy="156"/><circle r="1.964" cx="220" cy="161"/><circle r="1.964" cx="263" cy="175"/><circle r="1.964" cx="201" cy="154"/><circle r="1.964" cx="191" cy="166"/><circle r="1.964" cx="201" cy="168"/>
<circle r="1.964" cx="224" cy="171"/><circle r="1.964" cx="205" cy="172"/><circle r="1.964" cx="197" cy="161"/><circle r="1.964" cx="227" cy="164"/><circle r="1.964" cx="231" cy="163"/><circle r="1.964" cx="249" cy="164"/>
<circle r="1.964" cx="207" cy="158"/><circle r="1.964" cx="254" cy="163"/><circle r="1.964" cx="226" cy="171"/><circle r="1.964" cx="175" cy="173"/><circle r="1.964" cx="274" cy="171"/><circle r="1.964" cx="241" cy="163"/>
<circle r="1.964" cx="188" cy="170"/><circle r="1.964" cx="225" cy="163"/><circle r="1.964" cx="182" cy="166"/><circle r="1.964" cx="249" cy="168"/><circle r="1.964" cx="245" cy="162"/><circle r="1.964" cx="187" cy="160"/>
<circle r="1.964" cx="252" cy="157"/><circle r="1.964" cx="213" cy="168"/><circle r="1.964" cx="221" cy="168"/><circle r="1.964" cx="174" cy="175"/><circle r="1.964" cx="243" cy="173"/><circle r="1.964" cx="214" cy="163"/>
<circle r="1.964" cx="188" cy="172"/><circle r="1.964" cx="183" cy="158"/><circle r="1.964" cx="220" cy="150"/><circle r="1.964" cx="190" cy="170"/><circle r="1.964" cx="242" cy="153"/><circle r="1.964" cx="160" cy="169"/>
<circle r="1.964" cx="210" cy="147"/><circle r="1.964" cx="192" cy="164"/><circle r="1.964" cx="163" cy="167"/><circle r="1.964" cx="211" cy="154"/><circle r="1.964" cx="222" cy="149"/><circle r="1.964" cx="202" cy="146"/>
<circle r="1.964" cx="180" cy="155"/><circle r="1.964" cx="254" cy="167"/><circle r="1.964" cx="264" cy="166"/><circle r="1.964" cx="200" cy="158"/><circle r="1.964" cx="223" cy="159"/><circle r="1.964" cx="220" cy="153"/>
<circle r="1.964" cx="156" cy="172"/><circle r="1.964" cx="219" cy="165"/><circle r="1.964" cx="223" cy="154"/><circle r="1.964" cx="183" cy="158"/><circle r="1.964" cx="234" cy="172"/><circle r="1.964" cx="210" cy="165"/>
<circle r="1.964" cx="228" cy="153"/><circle r="1.964" cx="213" cy="159"/><circle r="1.964" cx="215" cy="153"/><circle r="1.964" cx="250" cy="166"/><circle r="1.964" cx="234" cy="157"/><circle r="1.964" cx="236" cy="161"/>
<circle r="1.964" cx="255" cy="167"/><circle r="1.964" cx="210" cy="155"/><circle r="1.964" cx="239" cy="161"/><circle r="1.964" cx="255" cy="161"/><circle r="1.964" cx="262" cy="170"/><circle r="1.964" cx="237" cy="156"/>
<circle r="1.964" cx="251" cy="167"/><circle r="1.964" cx="209" cy="161"/><circle r="1.964" cx="199" cy="147"/><circle r="1.964" cx="232" cy="163"/><circle r="1.964" cx="242" cy="160"/><circle r="1.964" cx="239" cy="152"/>
<circle r="1.964" cx="199" cy="162"/><circle r="1.964" cx="242" cy="161"/><circle r="1.964" cx="198" cy="171"/><circle r="1.964" cx="239" cy="160"/><circle r="1.964" cx="279" cy="181"/><circle r="1.964" cx="167" cy="177"/>
<circle r="1.964" cx="193" cy="165"/><circle r="1.964" cx="226" cy="161"/><circle r="1.964" cx="215" cy="161"/><circle r="1.964" cx="220" cy="152"/><circle r="1.964" cx="167" cy="173"/><circle r="1.964" cx="228" cy="162"/>
<circle r="1.964" cx="201" cy="178"/><circle r="1.964" cx="223" cy="165"/><circle r="1.964" cx="237" cy="160"/><circle r="1.964" cx="212" cy="148"/><circle r="1.964" cx="205" cy="159"/><circle r="1.964" cx="225" cy="174"/>
<circle r="1.964" cx="148" cy="170"/><circle r="1.964" cx="180" cy="153"/><circle r="1.964" cx="245" cy="171"/><circle r="1.964" cx="241" cy="160"/><circle r="1.964" cx="196" cy="167"/><circle r="1.964" cx="187" cy="168"/>
<circle r="1.964" cx="168" cy="186"/><circle r="1.964" cx="256" cy="168"/><circle r="1.964" cx="155" cy="171"/><circle r="1.964" cx="236" cy="176"/><circle r="1.964" cx="199" cy="174"/><circle r="1.964" cx="176" cy="168"/>
<circle r="1.964" cx="215" cy="159"/><circle r="1.964" cx="219" cy="159"/><circle r="1.964" cx="190" cy="164"/><circle r="1.964" cx="207" cy="174"/><circle r="1.964" cx="246" cy="166"/><circle r="1.964" cx="180" cy="170"/>
<circle r="1.964" cx="179" cy="171"/><circle r="1.964" cx="201" cy="154"/><circle r="1.964" cx="207" cy="152"/><circle r="1.964" cx="181" cy="161"/><circle r="1.964" cx="181" cy="170"/><circle r="1.964" cx="176" cy="169"/>
<circle r="1.964" cx="206" cy="152"/><circle r="1.964" cx="261" cy="176"/><circle r="1.964" cx="189" cy="168"/><circle r="1.964" cx="200" cy="150"/><circle r="1.964" cx="184" cy="170"/><circle r="1.964" cx="169" cy="165"/>
<circle r="1.964" cx="250" cy="168"/><circle r="1.964" cx="185" cy="162"/><circle r="1.964" cx="193" cy="162"/><circle r="1.964" cx="207" cy="171"/><circle r="1.964" cx="248" cy="165"/><circle r="1.964" cx="164" cy="163"/>
<circle r="1.964" cx="227" cy="158"/><circle r="1.964" cx="150" cy="178"/><circle r="1.964" cx="206" cy="158"/><circle r="1.964" cx="174" cy="179"/><circle r="1.964" cx="279" cy="183"/><circle r="1.964" cx="199" cy="159"/>
<circle r="1.964" cx="237" cy="161"/><circle r="1.964" cx="248" cy="171"/><circle r="1.964" cx="219" cy="171"/><circle r="1.964" cx="236" cy="158"/><circle r="1.964" cx="268" cy="166"/><circle r="1.964" cx="181" cy="167"/>
<circle r="1.964" cx="242" cy="162"/><circle r="1.964" cx="214" cy="169"/><circle r="1.964" cx="165" cy="173"/><circle r="1.964" cx="185" cy="163"/><circle r="1.964" cx="196" cy="162"/><circle r="1.964" cx="187" cy="156"/>
<circle r="1.964" cx="220" cy="158"/><circle r="1.964" cx="247" cy="171"/><circle r="1.964" cx="225" cy="154"/><circle r="1.964" cx="232" cy="158"/><circle r="1.964" cx="217" cy="160"/><circle r="1.964" cx="231" cy="142"/>
<circle r="1.964" cx="199" cy="167"/><circle r="1.964" cx="178" cy="184"/><circle r="1.964" cx="237" cy="157"/><circle r="1.964" cx="224" cy="164"/><circle r="1.964" cx="206" cy="164"/><circle r="1.964" cx="180" cy="168"/>
<circle r="1.964" cx="224" cy="166"/><circle r="1.964" cx="268" cy="176"/><circle r="1.964" cx="196" cy="147"/><circle r="1.964" cx="256" cy="164"/><circle r="1.964" cx="236" cy="151"/><circle r="1.964" cx="239" cy="151"/>
<circle r="1.964" cx="204" cy="153"/><circle r="1.964" cx="260" cy="178"/><circle r="1.964" cx="180" cy="160"/><circle r="1.964" cx="230" cy="160"/><circle r="1.964" cx="180" cy="168"/><circle r="1.964" cx="225" cy="161"/>
<circle r="1.964" cx="213" cy="158"/><circle r="1.964" cx="217" cy="174"/><circle r="1.964" cx="233" cy="166"/><circle r="1.964" cx="280" cy="179"/><circle r="1.964" cx="170" cy="154"/><circle r="1.964" cx="252" cy="172"/>
<circle r="1.964" cx="213" cy="155"/><circle r="1.964" cx="187" cy="169"/><circle r="1.964" cx="196" cy="157"/><circle r="1.964" cx="222" cy="152"/><circle r="1.964" cx="231" cy="170"/><circle r="1.964" cx="198" cy="160"/>
<circle r="1.964" cx="215" cy="167"/><circle r="1.964" cx="264" cy="163"/><circle r="1.964" cx="240" cy="170"/><circle r="1.964" cx="196" cy="165"/><circle r="1.964" cx="183" cy="176"/><circle r="1.964" cx="278" cy="182"/>
<circle r="1.964" cx="205" cy="166"/><circle r="1.964" cx="224" cy="161"/><circle r="1.964" cx="194" cy="153"/><circle r="1.964" cx="222" cy="148"/><circle r="1.964" cx="225" cy="159"/><circle r="1.964" cx="191" cy="157"/>
<circle r="1.964" cx="185" cy="160"/><circle r="1.964" cx="182" cy="163"/><circle r="1.964" cx="217" cy="158"/><circle r="1.964" cx="198" cy="166"/><circle r="1.964" cx="168" cy="151"/><circle r="1.964" cx="216" cy="165"/>
<circle r="1.964" cx="239" cy="159"/><circle r="1.964" cx="197" cy="171"/><circle r="1.964" cx="240" cy="166"/><circle r="1.964" cx="189" cy="160"/><circle r="1.964" cx="240" cy="161"/><circle r="1.964" cx="221" cy="166"/>
<circle r="1.964" cx="183" cy="159"/><circle r="1.964" cx="235" cy="172"/><circle r="1.964" cx="226" cy="158"/><circle r="1.964" cx="206" cy="156"/><circle r="1.964" cx="202" cy="164"/><circle r="1.964" cx="259" cy="161"/>
<circle r="1.964" cx="192" cy="153"/><circle r="1.964" cx="213" cy="172"/><circle r="1.964" cx="216" cy="152"/><circle r="1.964" cx="186" cy="178"/><circle r="1.964" cx="188" cy="168"/><circle r="1.964" cx="211" cy="154"/>
<circle r="1.964" cx="189" cy="163"/><circle r="1.964" cx="205" cy="166"/><circle r="1.964" cx="254" cy="162"/><circle r="1.964" cx="254" cy="164"/><circle r="1.964" cx="245" cy="159"/><circle r="1.964" cx="244" cy="164"/>
<circle r="1.964" cx="232" cy="154"/><circle r="1.964" cx="273" cy="180"/><circle r="1.964" cx="212" cy="166"/><circle r="1.964" cx="193" cy="169"/><circle r="1.964" cx="191" cy="170"/><circle r="1.964" cx="217" cy="162"/>
<circle r="1.964" cx="249" cy="165"/><circle r="1.964" cx="154" cy="170"/><circle r="1.964" cx="237" cy="165"/><circle r="1.964" cx="237" cy="155"/><circle r="1.964" cx="223" cy="150"/><circle r="1.964" cx="257" cy="171"/>
<circle r="1.964" cx="260" cy="162"/><circle r="1.964" cx="218" cy="160"/><circle r="1.964" cx="185" cy="165"/><circle r="1.964" cx="228" cy="164"/><circle r="1.964" cx="208" cy="156"/><circle r="1.964" cx="211" cy="146"/>
<circle r="1.964" cx="208" cy="164"/><circle r="1.964" cx="244" cy="162"/><circle r="1.964" cx="194" cy="148"/><circle r="1.964" cx="228" cy="155"/><circle r="1.964" cx="239" cy="174"/><circle r="1.964" cx="248" cy="165"/>
<circle r="1.964" cx="181" cy="179"/><circle r="1.964" cx="220" cy="152"/><circle r="1.964" cx="243" cy="155"/><circle r="1.964" cx="192" cy="154"/><circle r="1.964" cx="194" cy="164"/><circle r="1.964" cx="216" cy="162"/>
<circle r="1.964" cx="245" cy="174"/><circle r="1.964" cx="228" cy="150"/><circle r="1.964" cx="212" cy="156"/><circle r="1.964" cx="244" cy="166"/><circle r="1.964" cx="218" cy="165"/><circle r="1.964" cx="253" cy="157"/>
<circle r="1.964" cx="266" cy="163"/><circle r="1.964" cx="187" cy="160"/><circle r="1.964" cx="224" cy="157"/><circle r="1.964" cx="223" cy="154"/><circle r="1.964" cx="239" cy="161"/><circle r="1.964" cx="198" cy="161"/>
<circle r="1.964" cx="210" cy="157"/><circle r="1.964" cx="245" cy="169"/><circle r="1.964" cx="226" cy="169"/><circle r="1.964" cx="255" cy="166"/><circle r="1.964" cx="207" cy="159"/><circle r="1.964" cx="221" cy="158"/>
<circle r="1.964" cx="186" cy="172"/><circle r="1.964" cx="199" cy="166"/><circle r="1.964" cx="197" cy="157"/><circle r="1.964" cx="265" cy="172"/><circle r="1.964" cx="238" cy="164"/><circle r="1.964" cx="257" cy="157"/>
<circle r="1.964" cx="253" cy="175"/><circle r="1.964" cx="239" cy="168"/><circle r="1.964" cx="193" cy="152"/><circle r="1.964" cx="193" cy="165"/><circle r="1.964" cx="184" cy="143"/><circle r="1.964" cx="205" cy="156"/>
<circle r="1.964" cx="203" cy="162"/><circle r="1.964" cx="234" cy="153"/><circle r="1.964" cx="224" cy="166"/><circle r="1.964" cx="234" cy="154"/><circle r="1.964" cx="246" cy="159"/><circle r="1.964" cx="248" cy="176"/>
<circle r="1.964" cx="216" cy="161"/><circle r="1.964" cx="183" cy="156"/><circle r="1.964" cx="246" cy="167"/><circle r="1.964" cx="249" cy="171"/><circle r="1.964" cx="182" cy="176"/><circle r="1.964" cx="218" cy="169"/>
<circle r="1.964" cx="260" cy="175"/><circle r="1.964" cx="228" cy="156"/><circle r="1.964" cx="277" cy="183"/><circle r="1.964" cx="210" cy="164"/><circle r="1.964" cx="232" cy="161"/><circle r="1.964" cx="255" cy="166"/>
<circle r="1.964" cx="212" cy="164"/><circle r="1.964" cx="238" cy="155"/><circle r="1.964" cx="178" cy="163"/><circle r="1.964" cx="235" cy="168"/><circle r="1.964" cx="205" cy="161"/><circle r="1.964" cx="242" cy="170"/>
<circle r="1.964" cx="208" cy="160"/><circle r="1.964" cx="196" cy="165"/><circle r="1.964" cx="200" cy="151"/><circle r="1.964" cx="188" cy="166"/><circle r="1.964" cx="251" cy="168"/><circle r="1.964" cx="163" cy="169"/>
<circle r="1.964" cx="169" cy="164"/><circle r="1.964" cx="229" cy="146"/><circle r="1.964" cx="218" cy="148"/><circle r="1.964" cx="192" cy="158"/><circle r="1.964" cx="267" cy="165"/><circle r="1.964" cx="231" cy="151"/>
<circle r="1.964" cx="204" cy="164"/><circle r="1.964" cx="208" cy="152"/><circle r="1.964" cx="203" cy="163"/><circle r="1.964" cx="248" cy="168"/><circle r="1.964" cx="187" cy="169"/><circle r="1.964" cx="194" cy="156"/>
<circle r="1.964" cx="205" cy="161"/><circle r="1.964" cx="234" cy="166"/><circle r="1.964" cx="238" cy="178"/><circle r="1.964" cx="217" cy="172"/><circle r="1.964" cx="213" cy="152"/><circle r="1.964" cx="251" cy="164"/>
<circle r="1.964" cx="227" cy="171"/><circle r="1.964" cx="204" cy="162"/><circle r="1.964" cx="210" cy="157"/><circle r="1.964" cx="247" cy="161"/><circle r="1.964" cx="271" cy="176"/><circle r="1.964" cx="222" cy="171"/>
<circle r="1.964" cx="266" cy="173"/><circle r="1.964" cx="257" cy="176"/><circle r="1.964" cx="198" cy="166"/><circle r="1.964" cx="207" cy="170"/><circle r="1.964" cx="247" cy="175"/><circle r="1.964" cx="219" cy="174"/>
<circle r="1.964" cx="215" cy="172"/><circle r="1.964" cx="215" cy="150"/><circle r="1.964" cx="186" cy="167"/><circle r="1.964" cx="211" cy="157"/><circle r="1.964" cx="283" cy="174"/><circle r="1.964" cx="221" cy="142"/>
<circle r="1.964" cx="228" cy="164"/><circle r="1.964" cx="224" cy="163"/><circle r="1.964" cx="233" cy="144"/><circle r="1.964" cx="225" cy="166"/><circle r="1.964" cx="231" cy="164"/><circle r="1.964" cx="194" cy="157"/>
<circle r="1.964" cx="191" cy="158"/><circle r="1.964" cx="186" cy="145"/><circle r="1.964" cx="201" cy="147"/><circle r="1.964" cx="192" cy="168"/><circle r="1.964" cx="210" cy="156"/><circle r="1.964" cx="255" cy="164"/>
<circle r="1.964" cx="187" cy="166"/><circle r="1.964" cx="229" cy="160"/><circle r="1.964" cx="226" cy="156"/><circle r="1.964" cx="253" cy="177"/><circle r="1.964" cx="239" cy="155"/><circle r="1.964" cx="231" cy="159"/>
<circle r="1.964" cx="195" cy="163"/><circle r="1.964" cx="189" cy="155"/><circle r="1.964" cx="207" cy="156"/><circle r="1.964" cx="239" cy="154"/><circle r="1.964" cx="229" cy="150"/><circle r="1.964" cx="201" cy="169"/>
<circle r="1.964" cx="229" cy="162"/><circle r="1.964" cx="253" cy="167"/><circle r="1.964" cx="246" cy="166"/><circle r="1.964" cx="175" cy="158"/><circle r="1.964" cx="199" cy="157"/><circle r="1.964" cx="204" cy="149"/>
<circle r="1.964" cx="189" cy="166"/><circle r="1.964" cx="213" cy="156"/><circle r="1.964" cx="249" cy="159"/><circle r="1.964" cx="150" cy="174"/><circle r="1.964" cx="223" cy="169"/><circle r="1.964" cx="210" cy="159"/>
<circle r="1.964" cx="212" cy="161"/><circle r="1.964" cx="176" cy="172"/><circle r="1.964" cx="227" cy="154"/><circle r="1.964" cx="255" cy="171"/><circle r="1.964" cx="252" cy="176"/><circle r="1.964" cx="237" cy="174"/>
<circle r="1.964" cx="191" cy="163"/><circle r="1.964" cx="180" cy="162"/><circle r="1.964" cx="226" cy="154"/><circle r="1.964" cx="225" cy="167"/><circle r="1.964" cx="193" cy="168"/><circle r="1.964" cx="214" cy="160"/>
<circle r="1.964" cx="241" cy="156"/><circle r="1.964" cx="246" cy="164"/><circle r="1.964" cx="214" cy="159"/><circle r="1.964" cx="185" cy="166"/><circle r="1.964" cx="184" cy="164"/><circle r="1.964" cx="197" cy="156"/>
<circle r="1.964" cx="235" cy="157"/><circle r="1.964" cx="192" cy="140"/><circle r="1.964" cx="269" cy="175"/><circle r="1.964" cx="206" cy="170"/><circle r="1.964" cx="199" cy="155"/><circle r="1.964" cx="242" cy="163"/>
<circle r="1.964" cx="257" cy="164"/><circle r="1.964" cx="174" cy="161"/><circle r="1.964" cx="225" cy="160"/><circle r="1.964" cx="225" cy="159"/><circle r="1.964" cx="172" cy="170"/><circle r="1.964" cx="203" cy="156"/>
<circle r="1.964" cx="243" cy="171"/><circle r="1.964" cx="212" cy="159"/><circle r="1.964" cx="210" cy="173"/><circle r="1.964" cx="185" cy="163"/><circle r="1.964" cx="171" cy="173"/><circle r="1.964" cx="261" cy="168"/>
<circle r="1.964" cx="234" cy="166"/><circle r="1.964" cx="163" cy="184"/><circle r="1.964" cx="220" cy="153"/><circle r="1.964" cx="212" cy="167"/><circle r="1.964" cx="238" cy="157"/><circle r="1.964" cx="200" cy="165"/>
<circle r="1.964" cx="233" cy="163"/><circle r="1.964" cx="218" cy="155"/><circle r="1.964" cx="212" cy="167"/><circle r="1.964" cx="228" cy="172"/><circle r="1.964" cx="253" cy="169"/><circle r="1.964" cx="257" cy="170"/>
<circle r="1.964" cx="234" cy="167"/><circle r="1.964" cx="232" cy="167"/><circle r="1.964" cx="210" cy="154"/><circle r="1.964" cx="214" cy="165"/><circle r="1.964" cx="219" cy="154"/><circle r="1.964" cx="244" cy="166"/>
<circle r="1.964" cx="232" cy="162"/><circle r="1.964" cx="235" cy="167"/><circle r="1.964" cx="249" cy="167"/><circle r="1.964" cx="251" cy="171"/><circle r="1.964" cx="164" cy="166"/><circle r="1.964" cx="214" cy="163"/>
<circle r="1.964" cx="190" cy="162"/><circle r="1.964" cx="222" cy="150"/><circle r="1.964" cx="242" cy="168"/><circle r="1.964" cx="177" cy="169"/><circle r="1.964" cx="200" cy="170"/><circle r="1.964" cx="209" cy="180"/>
<circle r="1.964" cx="249" cy="168"/><circle r="1.964" cx="218" cy="162"/><circle r="1.964" cx="195" cy="165"/><circle r="1.964" cx="189" cy="158"/><circle r="1.964" cx="212" cy="163"/><circle r="1.964" cx="223" cy="166"/>
<circle r="1.964" cx="230" cy="162"/><circle r="1.964" cx="212" cy="153"/><circle r="1.964" cx="242" cy="168"/><circle r="1.964" cx="222" cy="157"/><circle r="1.964" cx="275" cy="176"/><circle r="1.964" cx="178" cy="165"/>
<circle r="1.964" cx="198" cy="156"/><circle r="1.964" cx="235" cy="150"/><circle r="1.964" cx="240" cy="158"/><circle r="1.964" cx="206" cy="155"/><circle r="1.964" cx="226" cy="162"/><circle r="1.964" cx="235" cy="166"/>
<circle r="1.964" cx="239" cy="154"/><circle r="1.964" cx="235" cy="158"/><circle r="1.964" cx="254" cy="163"/><circle r="1.964" cx="196" cy="159"/><circle r="1.964" cx="272" cy="171"/><circle r="1.964" cx="218" cy="164"/>
<circle r="1.964" cx="225" cy="165"/><circle r="1.964" cx="265" cy="175"/><circle r="1.964" cx="202" cy="170"/><circle r="1.964" cx="265" cy="185"/><circle r="1.964" cx="238" cy="169"/><circle r="1.964" cx="244" cy="167"/>
<circle r="1.964" cx="226" cy="170"/><circle r="1.964" cx="233" cy="164"/><circle r="1.964" cx="186" cy="177"/><circle r="1.964" cx="226" cy="158"/><circle r="1.964" cx="232" cy="152"/><circle r="1.964" cx="220" cy="165"/>
<circle r="1.964" cx="211" cy="166"/><circle r="1.964" cx="239" cy="166"/><circle r="1.964" cx="210" cy="150"/><circle r="1.964" cx="214" cy="166"/><circle r="1.964" cx="210" cy="162"/><circle r="1.964" cx="212" cy="177"/>
<circle r="1.964" cx="218" cy="167"/><circle r="1.964" cx="217" cy="168"/><circle r="1.964" cx="228" cy="180"/><circle r="1.964" cx="225" cy="147"/><circle r="1.964" cx="193" cy="166"/><circle r="1.964" cx="236" cy="162"/>
<circle r="1.964" cx="224" cy="158"/><circle r="1.964" cx="201" cy="164"/><circle r="1.964" cx="230" cy="157"/><circle r="1.964" cx="232" cy="161"/><circle r="1.964" cx="221" cy="154"/><circle r="1.964" cx="209" cy="170"/>
<circle r="1.964" cx="182" cy="152"/><circle r="1.964" cx="217" cy="161"/><circle r="1.964" cx="199" cy="152"/><circle r="1.964" cx="221" cy="163"/><circle r="1.964" cx="193" cy="158"/><circle r="1.964" cx="187" cy="156"/>
<circle r="1.964" cx="180" cy="169"/><circle r="1.964" cx="259" cy="164"/><circle r="1.964" cx="219" cy="165"/><circle r="1.964" cx="250" cy="168"/><circle r="1.964" cx="221" cy="157"/><circle r="1.964" cx="221" cy="161"/>
<circle r="1.964" cx="255" cy="159"/><circle r="1.964" cx="255" cy="165"/><circle r="1.964" cx="244" cy="161"/><circle r="1.964" cx="221" cy="166"/><circle r="1.964" cx="211" cy="163"/><circle r="1.964" cx="187" cy="158"/>
<circle r="1.964" cx="174" cy="149"/><circle r="1.964" cx="247" cy="167"/><circle r="1.964" cx="219" cy="156"/><circle r="1.964" cx="232" cy="157"/><circle r="1.964" cx="230" cy="156"/><circle r="1.964" cx="249" cy="182"/>
<circle r="1.964" cx="210" cy="158"/><circle r="1.964" cx="216" cy="157"/><circle r="1.964" cx="244" cy="162"/><circle r="1.964" cx="219" cy="162"/><circle r="1.964" cx="255" cy="157"/><circle r="1.964" cx="238" cy="176"/>
<circle r="1.964" cx="236" cy="160"/><circle r="1.964" cx="248" cy="174"/><circle r="1.964" cx="216" cy="170"/><circle r="1.964" cx="165" cy="175"/><circle r="1.964" cx="232" cy="144"/><circle r="1.964" cx="229" cy="162"/>
<circle r="1.964" cx="265" cy="159"/><circle r="1.964" cx="228" cy="159"/><circle r="1.964" cx="228" cy="158"/><circle r="1.964" cx="186" cy="173"/><circle r="1.964" cx="243" cy="156"/><circle r="1.964" cx="244" cy="165"/>
<circle r="1.964" cx="235" cy="173"/><circle r="1.964" cx="182" cy="156"/><circle r="1.964" cx="185" cy="166"/><circle r="1.964" cx="235" cy="164"/><circle r="1.964" cx="246" cy="167"/><circle r="1.964" cx="247" cy="160"/>
<circle r="1.964" cx="198" cy="166"/><circle r="1.964" cx="233" cy="163"/><circle r="1.964" cx="246" cy="169"/><circle r="1.964" cx="252" cy="173"/><circle r="1.964" cx="226" cy="162"/><circle r="1.964" cx="223" cy="169"/>
<circle r="1.964" cx="230" cy="159"/><circle r="1.964" cx="256" cy="166"/><circle r="1.964" cx="194" cy="162"/><circle r="1.964" cx="241" cy="174"/><circle r="1.964" cx="207" cy="157"/><circle r="1.964" cx="169" cy="176"/>
<circle r="1.964" cx="259" cy="168"/><circle r="1.964" cx="236" cy="165"/><circle r="1.964" cx="226" cy="160"/><circle r="1.964" cx="209" cy="168"/><circle r="1.964" cx="228" cy="162"/><circle r="1.964" cx="258" cy="165"/>
<circle r="1.964" cx="220" cy="148"/><circle r="1.964" cx="230" cy="165"/><circle r="1.964" cx="185" cy="176"/><circle r="1.964" cx="240" cy="165"/><circle r="1.964" cx="260" cy="160"/><circle r="1.964" cx="252" cy="163"/>
<circle r="1.964" cx="236" cy="170"/><circle r="1.964" cx="221" cy="153"/><circle r="1.964" cx="204" cy="158"/><circle r="1.964" cx="255" cy="171"/><circle r="1.964" cx="210" cy="169"/><circle r="1.964" cx="257" cy="175"/>
<circle r="1.964" cx="219" cy="159"/><circle r="1.964" cx="223" cy="163"/><circle r="1.964" cx="238" cy="165"/><circle r="1.964" cx="203" cy="151"/><circle r="1.964" cx="175" cy="175"/><circle r="1.964" cx="238" cy="152"/>
<circle r="1.964" cx="220" cy="159"/><circle r="1.964" cx="224" cy="154"/><circle r="1.964" cx="208" cy="158"/><circle r="1.964" cx="240" cy="168"/><circle r="1.964" cx="210" cy="161"/><circle r="1.964" cx="219" cy="174"/>
<circle r="1.964" cx="164" cy="182"/><circle r="1.964" cx="248" cy="172"/><circle r="1.964" cx="224" cy="159"/><circle r="1.964" cx="207" cy="164"/><circle r="1.964" cx="187" cy="168"/><circle r="1.964" cx="202" cy="162"/>
<circle r="1.964" cx="220" cy="172"/><circle r="1.964" cx="215" cy="160"/><circle r="1.964" cx="189" cy="171"/><circle r="1.964" cx="261" cy="169"/><circle r="1.964" cx="189" cy="168"/><circle r="1.964" cx="236" cy="165"/>
<circle r="1.964" cx="191" cy="160"/><circle r="1.964" cx="163" cy="173"/><circle r="1.964" cx="229" cy="172"/><circle r="1.964" cx="229" cy="162"/><circle r="1.964" cx="223" cy="147"/><circle r="1.964" cx="227" cy="160"/>
<circle r="1.964" cx="192" cy="143"/><circle r="1.964" cx="179" cy="176"/><circle r="1.964" cx="245" cy="171"/><circle r="1.964" cx="252" cy="166"/><circle r="1.964" cx="228" cy="153"/><circle r="1.964" cx="241" cy="158"/>
<circle r="1.964" cx="199" cy="158"/><circle r="1.964" cx="184" cy="158"/><circle r="1.964" cx="230" cy="154"/><circle r="1.964" cx="254" cy="161"/><circle r="1.964" cx="234" cy="168"/><circle r="1.964" cx="215" cy="154"/>
<circle r="1.964" cx="220" cy="157"/><circle r="1.964" cx="229" cy="155"/><circle r="1.964" cx="230" cy="166"/><circle r="1.964" cx="196" cy="162"/><circle r="1.964" cx="215" cy="171"/><circle r="1.964" cx="203" cy="168"/>
<circle r="1.964" cx="179" cy="169"/><circle r="1.964" cx="260" cy="166"/><circle r="1.964" cx="215" cy="157"/><circle r="1.964" cx="222" cy="174"/><circle r="1.964" cx="237" cy="158"/><circle r="1.964" cx="212" cy="160"/>
<circle r="1.964" cx="242" cy="163"/><circle r="1.964" cx="246" cy="160"/><circle r="1.964" cx="159" cy="188"/><circle r="1.964" cx="192" cy="160"/><circle r="1.964" cx="250" cy="162"/><circle r="1.964" cx="242" cy="154"/>
<circle r="1.964" cx="241" cy="171"/><circle r="1.964" cx="224" cy="169"/><circle r="1.964" cx="213" cy="166"/><circle r="1.964" cx="206" cy="156"/><circle r="1.964" cx="257" cy="168"/><circle r="1.964" cx="192" cy="163"/>
<circle r="1.964" cx="214" cy="163"/><circle r="1.964" cx="195" cy="155"/><circle r="1.964" cx="226" cy="158"/><circle r="1.964" cx="195" cy="171"/><circle r="1.964" cx="255" cy="176"/><circle r="1.964" cx="197" cy="173"/>
<circle r="1.964" cx="245" cy="159"/><circle r="1.964" cx="237" cy="168"/><circle r="1.964" cx="328" cy="382"/><circle r="1.964" cx="325" cy="389"/><circle r="1.964" cx="332" cy="378"/><circle r="1.964" cx="345" cy="382"/>
<circle r="1.964" cx="330" cy="358"/><circle r="1.964" cx="316" cy="344"/><circle r="1.964" cx="334" cy="381"/><circle r="1.964" cx="325" cy="385"/><circle r="1.964" cx="351" cy="379"/><circle r="1.964" cx="335" cy="352"/>
<circle r="1.964" cx="336" cy="371"/><circle r="1.964" cx="320" cy="347"/><circle r="1.964" cx="298" cy="340"/><circle r="1.964" cx="351" cy="389"/><circle r="1.964" cx="340" cy="371"/><circle r="1.964" cx="365" cy="412"/>
<circle r="1.964" cx="343" cy="383"/><circle r="1.964" cx="325" cy="374"/><circle r="1.964" cx="357" cy="406"/><circle r="1.964" cx="316" cy="322"/><circle r="1.964" cx="317" cy="336"/><circle r="1.964" cx="318" cy="362"/>
<circle r="1.964" cx="333" cy="376"/><circle r="1.964" cx="323" cy="370"/><circle r="1.964" cx="321" cy="370"/><circle r="1.964" cx="332" cy="386"/><circle r="1.964" cx="316" cy="368"/><circle r="1.964" cx="334" cy="382"/>
<circle r="1.964" cx="338" cy="374"/><circle r="1.964" cx="321" cy="353"/><circle r="1.964" cx="322" cy="347"/><circle r="1.964" cx="316" cy="342"/><circle r="1.964" cx="334" cy="378"/><circle r="1.964" cx="329" cy="363"/>
<circle r="1.964" cx="363" cy="410"/><circle r="1.964" cx="328" cy="372"/><circle r="1.964" cx="360" cy="413"/><circle r="1.964" cx="320" cy="341"/><circle r="1.964" cx="319" cy="371"/><circle r="1.964" cx="320" cy="337"/>
<circle r="1.964" cx="345" cy="366"/><circle r="1.964" cx="352" cy="390"/><circle r="1.964" cx="323" cy="362"/><circle r="1.964" cx="334" cy="365"/><circle r="1.964" cx="333" cy="382"/><circle r="1.964" cx="371" cy="415"/>
<circle r="1.964" cx="336" cy="351"/><circle r="1.964" cx="310" cy="346"/><circle r="1.964" cx="329" cy="357"/><circle r="1.964" cx="321" cy="370"/><circle r="1.964" cx="304" cy="353"/><circle r="1.964" cx="332" cy="380"/>
<circle r="1.964" cx="358" cy="390"/><circle r="1.964" cx="321" cy="342"/><circle r="1.964" cx="365" cy="409"/><circle r="1.964" cx="325" cy="338"/><circle r="1.964" cx="333" cy="381"/><circle r="1.964" cx="326" cy="376"/>
<circle r="1.964" cx="364" cy="415"/><circle r="1.964" cx="307" cy="356"/><circle r="1.964" cx="329" cy="372"/><circle r="1.964" cx="338" cy="383"/><circle r="1.964" cx="344" cy="391"/><circle r="1.964" cx="338" cy="365"/>
<circle r="1.964" cx="383" cy="408"/><circle r="1.964" cx="319" cy="340"/><circle r="1.964" cx="321" cy="347"/><circle r="1.964" cx="325" cy="371"/><circle r="1.964" cx="321" cy="347"/><circle r="1.964" cx="312" cy="330"/>
<circle r="1.964" cx="362" cy="400"/><circle r="1.964" cx="332" cy="390"/><circle r="1.964" cx="357" cy="389"/><circle r="1.964" cx="352" cy="394"/><circle r="1.964" cx="332" cy="341"/><circle r="1.964" cx="338" cy="398"/>
<circle r="1.964" cx="313" cy="328"/><circle r="1.964" cx="321" cy="353"/><circle r="1.964" cx="324" cy="362"/><circle r="1.964" cx="339" cy="378"/><circle r="1.964" cx="321" cy="376"/><circle r="1.964" cx="332" cy="371"/>
<circle r="1.964" cx="330" cy="345"/><circle r="1.964" cx="363" cy="401"/><circle r="1.964" cx="346" cy="382"/><circle r="1.964" cx="318" cy="352"/><circle r="1.964" cx="321" cy="351"/><circle r="1.964" cx="357" cy="399"/>
<circle r="1.964" cx="327" cy="382"/><circle r="1.964" cx="316" cy="343"/><circle r="1.964" cx="322" cy="356"/><circle r="1.964" cx="340" cy="391"/><circle r="1.964" cx="320" cy="316"/><circle r="1.964" cx="314" cy="343"/>
<circle r="1.964" cx="332" cy="384"/><circle r="1.964" cx="332" cy="336"/><circle r="1.964" cx="360" cy="404"/><circle r="1.964" cx="318" cy="337"/><circle r="1.964" cx="318" cy="331"/><circle r="1.964" cx="319" cy="332"/>
<circle r="1.964" cx="329" cy="367"/><circle r="1.964" cx="333" cy="356"/><circle r="1.964" cx="328" cy="347"/><circle r="1.964" cx="338" cy="369"/><circle r="1.964" cx="328" cy="346"/><circle r="1.964" cx="320" cy="372"/>
<circle r="1.964" cx="349" cy="381"/><circle r="1.964" cx="325" cy="375"/><circle r="1.964" cx="322" cy="339"/><circle r="1.964" cx="344" cy="388"/><circle r="1.964" cx="347" cy="370"/><circle r="1.964" cx="340" cy="386"/>
<circle r="1.964" cx="330" cy="391"/><circle r="1.964" cx="322" cy="356"/><circle r="1.964" cx="358" cy="384"/><circle r="1.964" cx="326" cy="348"/><circle r="1.964" cx="337" cy="380"/><circle r="1.964" cx="316" cy="325"/>
<circle r="1.964" cx="331" cy="383"/><circle r="1.964" cx="327" cy="367"/><circle r="1.964" cx="316" cy="323"/><circle r="1.964" cx="322" cy="374"/><circle r="1.964" cx="312" cy="352"/><circle r="1.964" cx="396" cy="409"/>
<circle r="1.964" cx="332" cy="371"/><circle r="1.964" cx="345" cy="384"/><circle r="1.964" cx="324" cy="344"/><circle r="1.964" cx="342" cy="373"/><circle r="1.964" cx="332" cy="372"/><circle r="1.964" cx="343" cy="387"/>
<circle r="1.964" cx="322" cy="327"/><circle r="1.964" cx="335" cy="360"/><circle r="1.964" cx="314" cy="351"/><circle r="1.964" cx="330" cy="372"/><circle r="1.964" cx="329" cy="371"/><circle r="1.964" cx="331" cy="374"/>
<circle r="1.964" cx="340" cy="382"/><circle r="1.964" cx="329" cy="362"/><circle r="1.964" cx="350" cy="385"/><circle r="1.964" cx="318" cy="356"/><circle r="1.964" cx="317" cy="355"/><circle r="1.964" cx="354" cy="374"/>
<circle r="1.964" cx="348" cy="371"/><circle r="1.964" cx="325" cy="342"/><circle r="1.964" cx="382" cy="415"/><circle r="1.964" cx="316" cy="341"/><circle r="1.964" cx="322" cy="328"/><circle r="1.964" cx="359" cy="392"/>
<circle r="1.964" cx="317" cy="380"/><circle r="1.964" cx="342" cy="376"/><circle r="1.964" cx="327" cy="350"/><circle r="1.964" cx="316" cy="330"/><circle r="1.964" cx="323" cy="360"/><circle r="1.964" cx="329" cy="365"/>
<circle r="1.964" cx="326" cy="366"/><circle r="1.964" cx="326" cy="368"/><circle r="1.964" cx="345" cy="396"/><circle r="1.964" cx="322" cy="338"/><circle r="1.964" cx="315" cy="317"/><circle r="1.964" cx="338" cy="357"/>
<circle r="1.964" cx="310" cy="323"/><circle r="1.964" cx="354" cy="402"/><circle r="1.964" cx="323" cy="370"/><circle r="1.964" cx="316" cy="350"/><circle r="1.964" cx="324" cy="356"/><circle r="1.964" cx="372" cy="405"/>
<circle r="1.964" cx="358" cy="392"/><circle r="1.964" cx="351" cy="387"/><circle r="1.964" cx="336" cy="374"/><circle r="1.964" cx="317" cy="339"/><circle r="1.964" cx="319" cy="363"/><circle r="1.964" cx="319" cy="342"/>
<circle r="1.964" cx="364" cy="413"/><circle r="1.964" cx="330" cy="340"/><circle r="1.964" cx="310" cy="332"/><circle r="1.964" cx="302" cy="322"/><circle r="1.964" cx="339" cy="386"/><circle r="1.964" cx="322" cy="324"/>
<circle r="1.964" cx="343" cy="381"/><circle r="1.964" cx="326" cy="373"/><circle r="1.964" cx="327" cy="361"/><circle r="1.964" cx="342" cy="353"/><circle r="1.964" cx="341" cy="378"/><circle r="1.964" cx="311" cy="334"/>
<circle r="1.964" cx="336" cy="347"/><circle r="1.964" cx="334" cy="385"/><circle r="1.964" cx="313" cy="346"/><circle r="1.964" cx="333" cy="365"/><circle r="1.964" cx="327" cy="383"/><circle r="1.964" cx="337" cy="368"/>
<circle r="1.964" cx="331" cy="356"/><circle r="1.964" cx="336" cy="367"/><circle r="1.964" cx="323" cy="359"/><circle r="1.964" cx="346" cy="392"/><circle r="1.964" cx="367" cy="406"/><circle r="1.964" cx="339" cy="383"/>
<circle r="1.964" cx="329" cy="370"/><circle r="1.964" cx="330" cy="370"/><circle r="1.964" cx="321" cy="347"/><circle r="1.964" cx="362" cy="388"/><circle r="1.964" cx="341" cy="388"/><circle r="1.964" cx="331" cy="353"/>
<circle r="1.964" cx="326" cy="328"/><circle r="1.964" cx="331" cy="377"/><circle r="1.964" cx="345" cy="397"/><circle r="1.964" cx="320" cy="354"/><circle r="1.964" cx="326" cy="373"/><circle r="1.964" cx="344" cy="376"/>
<circle r="1.964" cx="359" cy="389"/><circle r="1.964" cx="334" cy="379"/><circle r="1.964" cx="329" cy="343"/><circle r="1.964" cx="337" cy="387"/><circle r="1.964" cx="328" cy="359"/><circle r="1.964" cx="330" cy="367"/>
<circle r="1.964" cx="340" cy="388"/><circle r="1.964" cx="312" cy="318"/><circle r="1.964" cx="341" cy="387"/><circle r="1.964" cx="325" cy="339"/><circle r="1.964" cx="318" cy="351"/><circle r="1.964" cx="336" cy="396"/>
<circle r="1.964" cx="341" cy="396"/><circle r="1.964" cx="324" cy="345"/><circle r="1.964" cx="312" cy="339"/><circle r="1.964" cx="310" cy="326"/><circle r="1.964" cx="325" cy="345"/><circle r="1.964" cx="356" cy="404"/>
<circle r="1.964" cx="326" cy="371"/><circle r="1.964" cx="332" cy="342"/><circle r="1.964" cx="310" cy="362"/><circle r="1.964" cx="317" cy="332"/><circle r="1.964" cx="321" cy="364"/><circle r="1.964" cx="350" cy="383"/>
<circle r="1.964" cx="315" cy="330"/><circle r="1.964" cx="363" cy="386"/><circle r="1.964" cx="363" cy="403"/><circle r="1.964" cx="354" cy="388"/><circle r="1.964" cx="319" cy="352"/><circle r="1.964" cx="334" cy="390"/>
<circle r="1.964" cx="331" cy="342"/><circle r="1.964" cx="324" cy="340"/><circle r="1.964" cx="379" cy="414"/><circle r="1.964" cx="312" cy="333"/><circle r="1.964" cx="323" cy="346"/><circle r="1.964" cx="330" cy="360"/>
<circle r="1.964" cx="316" cy="368"/><circle r="1.964" cx="351" cy="398"/><circle r="1.964" cx="352" cy="385"/><circle r="1.964" cx="359" cy="398"/><circle r="1.964" cx="350" cy="384"/><circle r="1.964" cx="331" cy="373"/>
<circle r="1.964" cx="311" cy="330"/><circle r="1.964" cx="334" cy="370"/><circle r="1.964" cx="328" cy="348"/><circle r="1.964" cx="317" cy="347"/><circle r="1.964" cx="323" cy="359"/><circle r="1.964" cx="370" cy="414"/>
<circle r="1.964" cx="340" cy="391"/><circle r="1.964" cx="367" cy="389"/><circle r="1.964" cx="330" cy="340"/><circle r="1.964" cx="333" cy="366"/><circle r="1.964" cx="336" cy="361"/><circle r="1.964" cx="326" cy="373"/>
<circle r="1.964" cx="348" cy="386"/><circle r="1.964" cx="316" cy="362"/><circle r="1.964" cx="318" cy="369"/><circle r="1.964" cx="350" cy="382"/><circle r="1.964" cx="349" cy="376"/><circle r="1.964" cx="351" cy="385"/>
<circle r="1.964" cx="311" cy="340"/><circle r="1.964" cx="333" cy="362"/><circle r="1.964" cx="320" cy="340"/><circle r="1.964" cx="312" cy="338"/><circle r="1.964" cx="335" cy="382"/><circle r="1.964" cx="329" cy="358"/>
<circle r="1.964" cx="322" cy="343"/><circle r="1.964" cx="350" cy="408"/><circle r="1.964" cx="323" cy="354"/><circle r="1.964" cx="338" cy="387"/><circle r="1.964" cx="333" cy="372"/><circle r="1.964" cx="326" cy="382"/>
<circle r="1.964" cx="327" cy="362"/><circle r="1.964" cx="325" cy="355"/><circle r="1.964" cx="331" cy="383"/><circle r="1.964" cx="361" cy="401"/><circle r="1.964" cx="340" cy="398"/><circle r="1.964" cx="313" cy="328"/>
<circle r="1.964" cx="352" cy="371"/><circle r="1.964" cx="325" cy="360"/><circle r="1.964" cx="308" cy="328"/><circle r="1.964" cx="347" cy="374"/><circle r="1.964" cx="361" cy="389"/><circle r="1.964" cx="327" cy="374"/>
<circle r="1.964" cx="342" cy="388"/><circle r="1.964" cx="360" cy="397"/><circle r="1.964" cx="302" cy="355"/><circle r="1.964" cx="359" cy="413"/><circle r="1.964" cx="323" cy="344"/><circle r="1.964" cx="318" cy="360"/>
<circle r="1.964" cx="329" cy="365"/><circle r="1.964" cx="332" cy="355"/><circle r="1.964" cx="328" cy="329"/><circle r="1.964" cx="339" cy="392"/><circle r="1.964" cx="372" cy="407"/><circle r="1.964" cx="321" cy="379"/>
<circle r="1.964" cx="352" cy="369"/><circle r="1.964" cx="317" cy="356"/><circle r="1.964" cx="331" cy="377"/><circle r="1.964" cx="336" cy="380"/><circle r="1.964" cx="333" cy="362"/><circle r="1.964" cx="317" cy="350"/>
<circle r="1.964" cx="333" cy="365"/><circle r="1.964" cx="361" cy="398"/><circle r="1.964" cx="335" cy="368"/><circle r="1.964" cx="315" cy="326"/><circle r="1.964" cx="332" cy="346"/><circle r="1.964" cx="325" cy="326"/>
<circle r="1.964" cx="346" cy="403"/><circle r="1.964" cx="333" cy="370"/><circle r="1.964" cx="321" cy="378"/><circle r="1.964" cx="335" cy="379"/><circle r="1.964" cx="347" cy="383"/><circle r="1.964" cx="351" cy="396"/>
<circle r="1.964" cx="322" cy="340"/><circle r="1.964" cx="315" cy="333"/><circle r="1.964" cx="343" cy="397"/><circle r="1.964" cx="328" cy="382"/><circle r="1.964" cx="323" cy="358"/><circle r="1.964" cx="333" cy="385"/>
<circle r="1.964" cx="361" cy="407"/><circle r="1.964" cx="335" cy="374"/><circle r="1.964" cx="320" cy="380"/><circle r="1.964" cx="348" cy="388"/><circle r="1.964" cx="330" cy="385"/><circle r="1.964" cx="341" cy="363"/>
<circle r="1.964" cx="313" cy="368"/><circle r="1.964" cx="320" cy="319"/><circle r="1.964" cx="318" cy="333"/><circle r="1.964" cx="328" cy="351"/><circle r="1.964" cx="327" cy="324"/><circle r="1.964" cx="346" cy="399"/>
<circle r="1.964" cx="348" cy="410"/><circle r="1.964" cx="326" cy="334"/><circle r="1.964" cx="340" cy="367"/><circle r="1.964" cx="330" cy="361"/><circle r="1.964" cx="320" cy="358"/><circle r="1.964" cx="324" cy="345"/>
<circle r="1.964" cx="317" cy="345"/><circle r="1.964" cx="333" cy="354"/><circle r="1.964" cx="338" cy="380"/><circle r="1.964" cx="339" cy="362"/><circle r="1.964" cx="311" cy="372"/><circle r="1.964" cx="337" cy="370"/>
<circle r="1.964" cx="327" cy="361"/><circle r="1.964" cx="338" cy="351"/><circle r="1.964" cx="331" cy="345"/><circle r="1.964" cx="338" cy="357"/><circle r="1.964" cx="334" cy="366"/><circle r="1.964" cx="319" cy="330"/>
<circle r="1.964" cx="325" cy="346"/><circle r="1.964" cx="358" cy="389"/><circle r="1.964" cx="320" cy="345"/><circle r="1.964" cx="343" cy="369"/><circle r="1.964" cx="314" cy="329"/><circle r="1.964" cx="336" cy="398"/>
<circle r="1.964" cx="372" cy="396"/><circle r="1.964" cx="320" cy="372"/><circle r="1.964" cx="339" cy="369"/><circle r="1.964" cx="331" cy="378"/><circle r="1.964" cx="327" cy="363"/><circle r="1.964" cx="312" cy="347"/>
<circle r="1.964" cx="372" cy="385"/><circle r="1.964" cx="326" cy="348"/><circle r="1.964" cx="327" cy="376"/><circle r="1.964" cx="335" cy="398"/><circle r="1.964" cx="333" cy="337"/><circle r="1.964" cx="332" cy="362"/>
<circle r="1.964" cx="318" cy="366"/><circle r="1.964" cx="325" cy="353"/><circle r="1.964" cx="321" cy="368"/><circle r="1.964" cx="322" cy="334"/><circle r="1.964" cx="325" cy="392"/><circle r="1.964" cx="358" cy="405"/>
<circle r="1.964" cx="365" cy="400"/><circle r="1.964" cx="372" cy="413"/><circle r="1.964" cx="330" cy="359"/><circle r="1.964" cx="337" cy="396"/><circle r="1.964" cx="316" cy="375"/><circle r="1.964" cx="328" cy="336"/>
<circle r="1.964" cx="313" cy="341"/><circle r="1.964" cx="336" cy="356"/><circle r="1.964" cx="308" cy="319"/><circle r="1.964" cx="318" cy="365"/><circle r="1.964" cx="326" cy="367"/><circle r="1.964" cx="325" cy="374"/>
<circle r="1.964" cx="341" cy="400"/><circle r="1.964" cx="344" cy="379"/><circle r="1.964" cx="321" cy="349"/><circle r="1.964" cx="314" cy="341"/><circle r="1.964" cx="330" cy="352"/><circle r="1.964" cx="339" cy="358"/>
<circle r="1.964" cx="355" cy="393"/><circle r="1.964" cx="364" cy="394"/><circle r="1.964" cx="326" cy="356"/><circle r="1.964" cx="320" cy="359"/><circle r="1.964" cx="328" cy="346"/><circle r="1.964" cx="331" cy="361"/>
<circle r="1.964" cx="338" cy="373"/><circle r="1.964" cx="309" cy="351"/><circle r="1.964" cx="336" cy="370"/><circle r="1.964" cx="330" cy="350"/><circle r="1.964" cx="344" cy="399"/><circle r="1.964" cx="335" cy="372"/>
<circle r="1.964" cx="344" cy="353"/><circle r="1.964" cx="359" cy="399"/><circle r="1.964" cx="312" cy="321"/><circle r="1.964" cx="325" cy="363"/><circle r="1.964" cx="385" cy="398"/><circle r="1.964" cx="337" cy="397"/>
<circle r="1.964" cx="336" cy="386"/><circle r="1.964" cx="337" cy="365"/><circle r="1.964" cx="335" cy="392"/><circle r="1.964" cx="336" cy="384"/><circle r="1.964" cx="339" cy="393"/><circle r="1.964" cx="323" cy="340"/>
<circle r="1.964" cx="337" cy="394"/><circle r="1.964" cx="326" cy="343"/><circle r="1.964" cx="321" cy="333"/><circle r="1.964" cx="340" cy="366"/><circle r="1.964" cx="321" cy="364"/><circle r="1.964" cx="350" cy="397"/>
<circle r="1.964" cx="321" cy="360"/><circle r="1.964" cx="325" cy="374"/><circle r="1.964" cx="327" cy="341"/><circle r="1.964" cx="321" cy="335"/><circle r="1.964" cx="331" cy="357"/><circle r="1.964" cx="336" cy="380"/>
<circle r="1.964" cx="313" cy="338"/><circle r="1.964" cx="374" cy="406"/><circle r="1.964" cx="339" cy="359"/><circle r="1.964" cx="353" cy="400"/><circle r="1.964" cx="319" cy="328"/><circle r="1.964" cx="354" cy="372"/>
<circle r="1.964" cx="316" cy="370"/><circle r="1.964" cx="315" cy="354"/><circle r="1.964" cx="327" cy="359"/><circle r="1.964" cx="323" cy="366"/><circle r="1.964" cx="328" cy="369"/><circle r="1.964" cx="312" cy="317"/>
<circle r="1.964" cx="323" cy="334"/><circle r="1.964" cx="331" cy="344"/><circle r="1.964" cx="321" cy="331"/><circle r="1.964" cx="335" cy="384"/><circle r="1.964" cx="319" cy="374"/><circle r="1.964" cx="327" cy="343"/>
<circle r="1.964" cx="348" cy="389"/><circle r="1.964" cx="328" cy="366"/><circle r="1.964" cx="318" cy="342"/><circle r="1.964" cx="328" cy="382"/><circle r="1.964" cx="343" cy="399"/><circle r="1.964" cx="322" cy="357"/>
<circle r="1.964" cx="339" cy="384"/><circle r="1.964" cx="334" cy="373"/><circle r="1.964" cx="343" cy="374"/><circle r="1.964" cx="335" cy="336"/><circle r="1.964" cx="306" cy="329"/><circle r="1.964" cx="317" cy="337"/>
<circle r="1.964" cx="331" cy="374"/><circle r="1.964" cx="353" cy="365"/><circle r="1.964" cx="336" cy="362"/><circle r="1.964" cx="357" cy="396"/><circle r="1.964" cx="351" cy="403"/><circle r="1.964" cx="312" cy="317"/>
<circle r="1.964" cx="331" cy="355"/><circle r="1.964" cx="340" cy="377"/><circle r="1.964" cx="328" cy="381"/><circle r="1.964" cx="319" cy="359"/><circle r="1.964" cx="368" cy="409"/><circle r="1.964" cx="319" cy="348"/>
<circle r="1.964" cx="322" cy="375"/><circle r="1.964" cx="342" cy="367"/><circle r="1.964" cx="324" cy="357"/><circle r="1.964" cx="339" cy="394"/><circle r="1.964" cx="350" cy="396"/><circle r="1.964" cx="311" cy="330"/>
<circle r="1.964" cx="309" cy="348"/><circle r="1.964" cx="324" cy="375"/><circle r="1.964" cx="334" cy="373"/><circle r="1.964" cx="335" cy="375"/><circle r="1.964" cx="336" cy="394"/><circle r="1.964" cx="355" cy="390"/>
<circle r="1.964" cx="328" cy="355"/><circle r="1.964" cx="307" cy="329"/><circle r="1.964" cx="326" cy="347"/><circle r="1.964" cx="335" cy="396"/><circle r="1.964" cx="321" cy="348"/><circle r="1.964" cx="333" cy="395"/>
<circle r="1.964" cx="345" cy="382"/><circle r="1.964" cx="370" cy="416"/><circle r="1.964" cx="336" cy="366"/><circle r="1.964" cx="354" cy="415"/><circle r="1.964" cx="311" cy="366"/><circle r="1.964" cx="343" cy="363"/>
<circle r="1.964" cx="345" cy="401"/><circle r="1.964" cx="333" cy="358"/><circle r="1.964" cx="317" cy="338"/><circle r="1.964" cx="316" cy="357"/><circle r="1.964" cx="356" cy="380"/><circle r="1.964" cx="324" cy="356"/>
<circle r="1.964" cx="379" cy="406"/><circle r="1.964" cx="321" cy="341"/><circle r="1.964" cx="324" cy="346"/><circle r="1.964" cx="321" cy="331"/><circle r="1.964" cx="368" cy="410"/><circle r="1.964" cx="362" cy="406"/>
<circle r="1.964" cx="330" cy="359"/><circle r="1.964" cx="319" cy="343"/><circle r="1.964" cx="317" cy="320"/><circle r="1.964" cx="358" cy="400"/><circle r="1.964" cx="342" cy="381"/><circle r="1.964" cx="349" cy="381"/>
<circle r="1.964" cx="331" cy="357"/><circle r="1.964" cx="344" cy="396"/><circle r="1.964" cx="329" cy="367"/><circle r="1.964" cx="330" cy="337"/><circle r="1.964" cx="327" cy="343"/><circle r="1.964" cx="342" cy="372"/>
<circle r="1.964" cx="318" cy="331"/><circle r="1.964" cx="340" cy="379"/><circle r="1.964" cx="320" cy="342"/><circle r="1.964" cx="334" cy="354"/><circle r="1.964" cx="324" cy="352"/><circle r="1.964" cx="313" cy="357"/>
<circle r="1.964" cx="344" cy="379"/><circle r="1.964" cx="315" cy="331"/><circle r="1.964" cx="320" cy="348"/><circle r="1.964" cx="321" cy="331"/><circle r="1.964" cx="333" cy="353"/><circle r="1.964" cx="319" cy="340"/>
<circle r="1.964" cx="333" cy="369"/><circle r="1.964" cx="340" cy="377"/><circle r="1.964" cx="366" cy="411"/><circle r="1.964" cx="319" cy="353"/><circle r="1.964" cx="340" cy="399"/><circle r="1.964" cx="325" cy="352"/>
<circle r="1.964" cx="331" cy="349"/><circle r="1.964" cx="325" cy="382"/><circle r="1.964" cx="338" cy="391"/><circle r="1.964" cx="337" cy="393"/><circle r="1.964" cx="346" cy="378"/><circle r="1.964" cx="337" cy="370"/>
<circle r="1.964" cx="363" cy="407"/><circle r="1.964" cx="336" cy="354"/><circle r="1.964" cx="316" cy="343"/><circle r="1.964" cx="332" cy="350"/><circle r="1.964" cx="322" cy="333"/><circle r="1.964" cx="328" cy="349"/>
<circle r="1.964" cx="359" cy="403"/><circle r="1.964" cx="316" cy="324"/><circle r="1.964" cx="364" cy="406"/><circle r="1.964" cx="317" cy="326"/><circle r="1.964" cx="350" cy="391"/><circle r="1.964" cx="373" cy="405"/>
<circle r="1.964" cx="324" cy="348"/><circle r="1.964" cx="334" cy="371"/><circle r="1.964" cx="346" cy="364"/><circle r="1.964" cx="334" cy="358"/><circle r="1.964" cx="359" cy="402"/><circle r="1.964" cx="345" cy="392"/>
<circle r="1.964" cx="326" cy="364"/><circle r="1.964" cx="345" cy="377"/><circle r="1.964" cx="337" cy="390"/><circle r="1.964" cx="332" cy="359"/><circle r="1.964" cx="349" cy="387"/><circle r="1.964" cx="350" cy="391"/>
<circle r="1.964" cx="319" cy="351"/><circle r="1.964" cx="316" cy="336"/><circle r="1.964" cx="342" cy="374"/><circle r="1.964" cx="321" cy="343"/><circle r="1.964" cx="350" cy="376"/><circle r="1.964" cx="327" cy="359"/>
<circle r="1.964" cx="349" cy="390"/><circle r="1.964" cx="342" cy="388"/><circle r="1.964" cx="374" cy="414"/><circle r="1.964" cx="336" cy="398"/><circle r="1.964" cx="344" cy="379"/><circle r="1.964" cx="334" cy="351"/>
<circle r="1.964" cx="313" cy="339"/><circle r="1.964" cx="339" cy="379"/><circle r="1.964" cx="360" cy="397"/><circle r="1.964" cx="322" cy="389"/><circle r="1.964" cx="320" cy="362"/><circle r="1.964" cx="322" cy="352"/>
<circle r="1.964" cx="358" cy="393"/><circle r="1.964" cx="338" cy="372"/><circle r="1.964" cx="318" cy="321"/><circle r="1.964" cx="349" cy="404"/><circle r="1.964" cx="299" cy="344"/><circle r="1.964" cx="327" cy="356"/>
<circle r="1.964" cx="333" cy="381"/><circle r="1.964" cx="320" cy="352"/><circle r="1.964" cx="323" cy="349"/><circle r="1.964" cx="340" cy="365"/><circle r="1.964" cx="346" cy="394"/><circle r="1.964" cx="328" cy="358"/>
<circle r="1.964" cx="363" cy="416"/><circle r="1.964" cx="329" cy="373"/><circle r="1.964" cx="338" cy="354"/><circle r="1.964" cx="328" cy="355"/><circle r="1.964" cx="322" cy="349"/><circle r="1.964" cx="336" cy="382"/>
<circle r="1.964" cx="319" cy="358"/><circle r="1.964" cx="324" cy="362"/><circle r="1.964" cx="331" cy="351"/><circle r="1.964" cx="366" cy="408"/><circle r="1.964" cx="319" cy="318"/><circle r="1.964" cx="348" cy="359"/>
<circle r="1.964" cx="329" cy="376"/><circle r="1.964" cx="347" cy="374"/><circle r="1.964" cx="325" cy="367"/><circle r="1.964" cx="341" cy="384"/><circle r="1.964" cx="320" cy="372"/><circle r="1.964" cx="319" cy="361"/>
<circle r="1.964" cx="319" cy="339"/><circle r="1.964" cx="339" cy="374"/><circle r="1.964" cx="336" cy="340"/><circle r="1.964" cx="349" cy="389"/><circle r="1.964" cx="334" cy="360"/><circle r="1.964" cx="327" cy="354"/>
<circle r="1.964" cx="336" cy="361"/><circle r="1.964" cx="312" cy="362"/><circle r="1.964" cx="319" cy="358"/><circle r="1.964" cx="328" cy="361"/><circle r="1.964" cx="338" cy="372"/><circle r="1.964" cx="328" cy="363"/>
<circle r="1.964" cx="322" cy="380"/><circle r="1.964" cx="341" cy="390"/><circle r="1.964" cx="331" cy="378"/><circle r="1.964" cx="327" cy="369"/><circle r="1.964" cx="321" cy="376"/><circle r="1.964" cx="341" cy="386"/>
<circle r="1.964" cx="335" cy="377"/><circle r="1.964" cx="354" cy="394"/><circle r="1.964" cx="342" cy="393"/><circle r="1.964" cx="335" cy="361"/><circle r="1.964" cx="312" cy="353"/><circle r="1.964" cx="337" cy="378"/>
<circle r="1.964" cx="349" cy="407"/><circle r="1.964" cx="313" cy="338"/><circle r="1.964" cx="338" cy="377"/><circle r="1.964" cx="327" cy="365"/><circle r="1.964" cx="328" cy="362"/><circle r="1.964" cx="344" cy="361"/>
<circle r="1.964" cx="345" cy="405"/><circle r="1.964" cx="361" cy="391"/><circle r="1.964" cx="336" cy="370"/><circle r="1.964" cx="327" cy="353"/><circle r="1.964" cx="343" cy="389"/><circle r="1.964" cx="333" cy="375"/>
<circle r="1.964" cx="331" cy="356"/><circle r="1.964" cx="337" cy="356"/><circle r="1.964" cx="326" cy="373"/><circle r="1.964" cx="305" cy="322"/><circle r="1.964" cx="335" cy="363"/><circle r="1.964" cx="327" cy="359"/>
<circle r="1.964" cx="316" cy="351"/><circle r="1.964" cx="341" cy="383"/><circle r="1.964" cx="316" cy="346"/><circle r="1.964" cx="327" cy="372"/><circle r="1.964" cx="333" cy="357"/><circle r="1.964" cx="321" cy="356"/>
<circle r="1.964" cx="328" cy="354"/><circle r="1.964" cx="341" cy="369"/><circle r="1.964" cx="320" cy="345"/><circle r="1.964" cx="314" cy="325"/><circle r="1.964" cx="317" cy="328"/><circle r="1.964" cx="311" cy="340"/>
<circle r="1.964" cx="315" cy="353"/><circle r="1.964" cx="333" cy="361"/><circle r="1.964" cx="356" cy="391"/><circle r="1.964" cx="328" cy="354"/><circle r="1.964" cx="332" cy="375"/><circle r="1.964" cx="320" cy="365"/>
<circle r="1.964" cx="327" cy="381"/><circle r="1.964" cx="337" cy="378"/><circle r="1.964" cx="326" cy="367"/><circle r="1.964" cx="331" cy="363"/><circle r="1.964" cx="358" cy="413"/><circle r="1.964" cx="319" cy="369"/>
<circle r="1.964" cx="321" cy="337"/><circle r="1.964" cx="324" cy="351"/><circle r="1.964" cx="326" cy="325"/><circle r="1.964" cx="337" cy="351"/><circle r="1.964" cx="320" cy="329"/><circle r="1.964" cx="341" cy="391"/>
<circle r="1.964" cx="359" cy="420"/><circle r="1.964" cx="344" cy="373"/><circle r="1.964" cx="322" cy="347"/><circle r="1.964" cx="321" cy="347"/><circle r="1.964" cx="332" cy="335"/><circle r="1.964" cx="318" cy="330"/>
<circle r="1.964" cx="329" cy="360"/><circle r="1.964" cx="345" cy="391"/><circle r="1.964" cx="330" cy="356"/><circle r="1.964" cx="319" cy="321"/><circle r="1.964" cx="368" cy="415"/><circle r="1.964" cx="318" cy="318"/>
<circle r="1.964" cx="351" cy="380"/><circle r="1.964" cx="357" cy="412"/><circle r="1.964" cx="351" cy="395"/><circle r="1.964" cx="353" cy="385"/><circle r="1.964" cx="323" cy="317"/><circle r="1.964" cx="348" cy="386"/>
<circle r="1.964" cx="307" cy="347"/><circle r="1.964" cx="326" cy="365"/><circle r="1.964" cx="317" cy="329"/><circle r="1.964" cx="313" cy="333"/><circle r="1.964" cx="316" cy="340"/><circle r="1.964" cx="358" cy="412"/>
<circle r="1.964" cx="321" cy="343"/><circle r="1.964" cx="320" cy="331"/><circle r="1.964" cx="365" cy="408"/><circle r="1.964" cx="338" cy="383"/><circle r="1.964" cx="325" cy="352"/><circle r="1.964" cx="322" cy="339"/>
<circle r="1.964" cx="307" cy="345"/><circle r="1.964" cx="371" cy="412"/><circle r="1.964" cx="334" cy="345"/><circle r="1.964" cx="315" cy="383"/><circle r="1.964" cx="321" cy="323"/><circle r="1.964" cx="327" cy="357"/>
<circle r="1.964" cx="359" cy="390"/><circle r="1.964" cx="329" cy="351"/><circle r="1.964" cx="323" cy="330"/><circle r="1.964" cx="351" cy="384"/><circle r="1.964" cx="342" cy="380"/><circle r="1.964" cx="331" cy="373"/>
<circle r="1.964" cx="346" cy="393"/><circle r="1.964" cx="311" cy="353"/><circle r="1.964" cx="323" cy="375"/><circle r="1.964" cx="329" cy="338"/><circle r="1.964" cx="339" cy="360"/><circle r="1.964" cx="335" cy="368"/>
<circle r="1.964" cx="324" cy="351"/><circle r="1.964" cx="331" cy="384"/><circle r="1.964" cx="310" cy="324"/><circle r="1.964" cx="315" cy="347"/><circle r="1.964" cx="333" cy="369"/><circle r="1.964" cx="331" cy="391"/>
<circle r="1.964" cx="322" cy="352"/><circle r="1.964" cx="311" cy="325"/><circle r="1.964" cx="325" cy="357"/><circle r="1.964" cx="328" cy="367"/><circle r="1.964" cx="351" cy="392"/><circle r="1.964" cx="305" cy="351"/>
<circle r="1.964" cx="362" cy="385"/><circle r="1.964" cx="362" cy="391"/><circle r="1.964" cx="331" cy="360"/><circle r="1.964" cx="347" cy="385"/><circle r="1.964" cx="310" cy="356"/><circle r="1.964" cx="330" cy="367"/>
<circle r="1.964" cx="324" cy="328"/><circle r="1.964" cx="320" cy="367"/><circle r="1.964" cx="357" cy="386"/><circle r="1.964" cx="328" cy="381"/><circle r="1.964" cx="325" cy="360"/><circle r="1.964" cx="355" cy="390"/>
<circle r="1.964" cx="319" cy="351"/><circle r="1.964" cx="343" cy="361"/><circle r="1.964" cx="318" cy="331"/><circle r="1.964" cx="316" cy="384"/><circle r="1.964" cx="340" cy="356"/><circle r="1.964" cx="330" cy="372"/>
<circle r="1.964" cx="337" cy="371"/><circle r="1.964" cx="332" cy="366"/><circle r="1.964" cx="329" cy="374"/><circle r="1.964" cx="340" cy="384"/><circle r="1.964" cx="325" cy="364"/><circle r="1.964" cx="351" cy="379"/>
<circle r="1.964" cx="332" cy="370"/><circle r="1.964" cx="339" cy="380"/><circle r="1.964" cx="331" cy="360"/><circle r="1.964" cx="355" cy="390"/><circle r="1.964" cx="332" cy="382"/><circle r="1.964" cx="321" cy="345"/>
<circle r="1.964" cx="333" cy="362"/><circle r="1.964" cx="321" cy="347"/><circle r="1.964" cx="315" cy="320"/><circle r="1.964" cx="335" cy="361"/><circle r="1.964" cx="351" cy="398"/><circle r="1.964" cx="348" cy="382"/>
<circle r="1.964" cx="329" cy="366"/><circle r="1.964" cx="324" cy="377"/><circle r="1.964" cx="340" cy="382"/><circle r="1.964" cx="360" cy="394"/><circle r="1.964" cx="346" cy="386"/><circle r="1.964" cx="381" cy="412"/>
<circle r="1.964" cx="356" cy="393"/><circle r="1.964" cx="319" cy="322"/><circle r="1.964" cx="328" cy="369"/><circle r="1.964" cx="343" cy="391"/><circle r="1.964" cx="330" cy="361"/><circle r="1.964" cx="327" cy="328"/>
<circle r="1.964" cx="336" cy="367"/><circle r="1.964" cx="316" cy="350"/><circle r="1.964" cx="307" cy="362"/><circle r="1.964" cx="346" cy="392"/><circle r="1.964" cx="337" cy="384"/><circle r="1.964" cx="343" cy="383"/>
<circle r="1.964" cx="327" cy="370"/><circle r="1.964" cx="315" cy="338"/><circle r="1.964" cx="349" cy="396"/><circle r="1.964" cx="333" cy="361"/><circle r="1.964" cx="332" cy="351"/><circle r="1.964" cx="324" cy="371"/>
<circle r="1.964" cx="364" cy="406"/><circle r="1.964" cx="344" cy="378"/><circle r="1.964" cx="334" cy="375"/><circle r="1.964" cx="318" cy="343"/><circle r="1.964" cx="370" cy="410"/><circle r="1.964" cx="349" cy="388"/>
<circle r="1.964" cx="356" cy="405"/><circle r="1.964" cx="371" cy="408"/><circle r="1.964" cx="315" cy="335"/><circle r="1.964" cx="336" cy="388"/><circle r="1.964" cx="355" cy="385"/><circle r="1.964" cx="318" cy="320"/>
<circle r="1.964" cx="332" cy="375"/><circle r="1.964" cx="346" cy="356"/><circle r="1.964" cx="318" cy="316"/><circle r="1.964" cx="333" cy="386"/><circle r="1.964" cx="329" cy="361"/><circle r="1.964" cx="319" cy="364"/>
<circle r="1.964" cx="336" cy="385"/><circle r="1.964" cx="322" cy="368"/><circle r="1.964" cx="335" cy="377"/><circle r="1.964" cx="313" cy="334"/><circle r="1.964" cx="347" cy="385"/><circle r="1.964" cx="338" cy="358"/>
<circle r="1.964" cx="321" cy="340"/><circle r="1.964" cx="323" cy="357"/><circle r="1.964" cx="347" cy="384"/><circle r="1.964" cx="308" cy="327"/><circle r="1.964" cx="344" cy="382"/><circle r="1.964" cx="320" cy="356"/>
<circle r="1.964" cx="373" cy="408"/><circle r="1.964" cx="331" cy="384"/><circle r="1.964" cx="330" cy="374"/><circle r="1.964" cx="352" cy="385"/><circle r="1.964" cx="316" cy="352"/><circle r="1.964" cx="335" cy="378"/>
<circle r="1.964" cx="330" cy="361"/><circle r="1.964" cx="308" cy="351"/><circle r="1.964" cx="336" cy="372"/><circle r="1.964" cx="328" cy="363"/><circle r="1.964" cx="361" cy="397"/><circle r="1.964" cx="341" cy="374"/>
<circle r="1.964" cx="334" cy="374"/><circle r="1.964" cx="340" cy="362"/><circle r="1.964" cx="355" cy="396"/><circle r="1.964" cx="320" cy="319"/><circle r="1.964" cx="316" cy="319"/><circle r="1.964" cx="318" cy="336"/>
<circle r="1.964" cx="340" cy="367"/><circle r="1.964" cx="316" cy="315"/><circle r="1.964" cx="315" cy="338"/><circle r="1.964" cx="344" cy="383"/><circle r="1.964" cx="357" cy="379"/><circle r="1.964" cx="310" cy="328"/>
<circle r="1.964" cx="348" cy="383"/><circle r="1.964" cx="353" cy="403"/><circle r="1.964" cx="369" cy="416"/><circle r="1.964" cx="330" cy="370"/><circle r="1.964" cx="339" cy="373"/><circle r="1.964" cx="326" cy="363"/>
<circle r="1.964" cx="357" cy="406"/><circle r="1.964" cx="340" cy="379"/><circle r="1.964" cx="320" cy="342"/><circle r="1.964" cx="343" cy="387"/><circle r="1.964" cx="331" cy="351"/><circle r="1.964" cx="330" cy="381"/>
<circle r="1.964" cx="317" cy="333"/><circle r="1.964" cx="322" cy="363"/><circle r="1.964" cx="320" cy="336"/><circle r="1.964" cx="333" cy="372"/><circle r="1.964" cx="339" cy="395"/><circle r="1.964" cx="333" cy="360"/>
<circle r="1.964" cx="341" cy="393"/><circle r="1.964" cx="338" cy="378"/><circle r="1.964" cx="335" cy="351"/><circle r="1.964" cx="331" cy="347"/><circle r="1.964" cx="338" cy="371"/><circle r="1.964" cx="321" cy="321"/>
<circle r="1.964" cx="332" cy="335"/><circle r="1.964" cx="325" cy="371"/><circle r="1.964" cx="319" cy="335"/><circle r="1.964" cx="330" cy="360"/><circle r="1.964" cx="324" cy="336"/><circle r="1.964" cx="345" cy="397"/>
<circle r="1.964" cx="337" cy="388"/><circle r="1.964" cx="337" cy="377"/><circle r="1.964" cx="325" cy="371"/><circle r="1.964" cx="321" cy="352"/><circle r="1.964" cx="318" cy="336"/><circle r="1.964" cx="379" cy="413"/>
<circle r="1.964" cx="353" cy="381"/><circle r="1.964" cx="333" cy="362"/><circle r="1.964" cx="340" cy="377"/><circle r="1.964" cx="352" cy="389"/><circle r="1.964" cx="361" cy="396"/><circle r="1.964" cx="351" cy="407"/>
<circle r="1.964" cx="342" cy="384"/><circle r="1.964" cx="313" cy="344"/><circle r="1.964" cx="344" cy="368"/><circle r="1.964" cx="346" cy="378"/><circle r="1.964" cx="325" cy="364"/><circle r="1.964" cx="327" cy="368"/>
<circle r="1.964" cx="368" cy="404"/><circle r="1.964" cx="328" cy="362"/><circle r="1.964" cx="360" cy="407"/><circle r="1.964" cx="339" cy="389"/><circle r="1.964" cx="334" cy="376"/><circle r="1.964" cx="377" cy="411"/>
<circle r="1.964" cx="324" cy="349"/><circle r="1.964" cx="332" cy="368"/><circle r="1.964" cx="323" cy="320"/><circle r="1.964" cx="319" cy="348"/><circle r="1.964" cx="346" cy="369"/><circle r="1.964" cx="318" cy="320"/>
<circle r="1.964" cx="318" cy="362"/><circle r="1.964" cx="335" cy="355"/><circle r="1.964" cx="321" cy="348"/><circle r="1.964" cx="332" cy="352"/><circle r="1.964" cx="324" cy="346"/><circle r="1.964" cx="332" cy="371"/>
<circle r="1.964" cx="327" cy="373"/><circle r="1.964" cx="336" cy="363"/><circle r="1.964" cx="359" cy="368"/><circle r="1.964" cx="334" cy="374"/><circle r="1.964" cx="336" cy="380"/><circle r="1.964" cx="335" cy="372"/>
<circle r="1.964" cx="371" cy="408"/><circle r="1.964" cx="363" cy="406"/><circle r="1.964" cx="319" cy="339"/><circle r="1.964" cx="318" cy="339"/><circle r="1.964" cx="335" cy="341"/><circle r="1.964" cx="329" cy="386"/>
<circle r="1.964" cx="329" cy="351"/><circle r="1.964" cx="347" cy="395"/><circle r="1.964" cx="315" cy="342"/><circle r="1.964" cx="324" cy="330"/><circle r="1.964" cx="326" cy="323"/><circle r="1.964" cx="323" cy="324"/>
<circle r="1.964" cx="338" cy="356"/><circle r="1.964" cx="384" cy="410"/><circle r="1.964" cx="344" cy="383"/><circle r="1.964" cx="343" cy="369"/><circle r="1.964" cx="320" cy="348"/><circle r="1.964" cx="344" cy="358"/>
<circle r="1.964" cx="318" cy="346"/><circle r="1.964" cx="310" cy="355"/><circle r="1.964" cx="334" cy="371"/><circle r="1.964" cx="345" cy="382"/><circle r="1.964" cx="320" cy="357"/><circle r="1.964" cx="334" cy="382"/>
<circle r="1.964" cx="320" cy="364"/><circle r="1.964" cx="316" cy="356"/><circle r="1.964" cx="340" cy="377"/><circle r="1.964" cx="328" cy="353"/><circle r="1.964" cx="335" cy="368"/><circle r="1.964" cx="330" cy="365"/>
<circle r="1.964" cx="333" cy="392"/><circle r="1.964" cx="330" cy="364"/><circle r="1.964" cx="320" cy="375"/><circle r="1.964" cx="327" cy="341"/><circle r="1.964" cx="332" cy="360"/><circle r="1.964" cx="352" cy="397"/>
<circle r="1.964" cx="352" cy="398"/><circle r="1.964" cx="352" cy="382"/><circle r="1.964" cx="315" cy="352"/><circle r="1.964" cx="321" cy="346"/><circle r="1.964" cx="312" cy="344"/><circle r="1.964" cx="315" cy="351"/>
<circle r="1.964" cx="331" cy="375"/><circle r="1.964" cx="324" cy="348"/><circle r="1.964" cx="330" cy="341"/><circle r="1.964" cx="312" cy="335"/><circle r="1.964" cx="316" cy="347"/><circle r="1.964" cx="316" cy="327"/>
<circle r="1.964" cx="316" cy="341"/><circle r="1.964" cx="331" cy="358"/><circle r="1.964" cx="364" cy="403"/><circle r="1.964" cx="343" cy="385"/><circle r="1.964" cx="332" cy="371"/><circle r="1.964" cx="313" cy="325"/>
<circle r="1.964" cx="333" cy="353"/><circle r="1.964" cx="332" cy="382"/><circle r="1.964" cx="346" cy="397"/><circle r="1.964" cx="351" cy="399"/><circle r="1.964" cx="323" cy="361"/><circle r="1.964" cx="355" cy="387"/>
<circle r="1.964" cx="314" cy="351"/><circle r="1.964" cx="316" cy="364"/><circle r="1.964" cx="325" cy="336"/><circle r="1.964" cx="325" cy="368"/><circle r="1.964" cx="343" cy="404"/><circle r="1.964" cx="354" cy="397"/>
<circle r="1.964" cx="355" cy="385"/><circle r="1.964" cx="323" cy="346"/><circle r="1.964" cx="326" cy="360"/><circle r="1.964" cx="337" cy="352"/><circle r="1.964" cx="327" cy="375"/><circle r="1.964" cx="351" cy="389"/>
<circle r="1.964" cx="329" cy="337"/><circle r="1.964" cx="334" cy="353"/><circle r="1.964" cx="358" cy="387"/><circle r="1.964" cx="338" cy="393"/><circle r="1.964" cx="332" cy="337"/><circle r="1.964" cx="328" cy="364"/>
<circle r="1.964" cx="358" cy="395"/><circle r="1.964" cx="352" cy="395"/><circle r="1.964" cx="324" cy="357"/><circle r="1.964" cx="337" cy="393"/><circle r="1.964" cx="355" cy="375"/><circle r="1.964" cx="310" cy="341"/>
<circle r="1.964" cx="351" cy="407"/><circle r="1.964" cx="332" cy="356"/><circle r="1.964" cx="312" cy="362"/><circle r="1.964" cx="309" cy="324"/><circle r="1.964" cx="312" cy="353"/><circle r="1.964" cx="330" cy="348"/>
<circle r="1.964" cx="327" cy="322"/><circle r="1.964" cx="328" cy="377"/><circle r="1.964" cx="312" cy="347"/><circle r="1.964" cx="323" cy="390"/><circle r="1.964" cx="315" cy="358"/><circle r="1.964" cx="328" cy="395"/>
<circle r="1.964" cx="320" cy="367"/><circle r="1.964" cx="340" cy="362"/><circle r="1.964" cx="323" cy="361"/><circle r="1.964" cx="340" cy="346"/><circle r="1.964" cx="317" cy="353"/><circle r="1.964" cx="335" cy="386"/>
<circle r="1.964" cx="362" cy="385"/><circle r="1.964" cx="343" cy="363"/><circle r="1.964" cx="328" cy="364"/><circle r="1.964" cx="319" cy="331"/><circle r="1.964" cx="320" cy="353"/><circle r="1.964" cx="327" cy="353"/>
<circle r="1.964" cx="319" cy="332"/><circle r="1.964" cx="351" cy="394"/><circle r="1.964" cx="319" cy="361"/><circle r="1.964" cx="336" cy="363"/><circle r="1.964" cx="347" cy="385"/><circle r="1.964" cx="316" cy="342"/>
<circle r="1.964" cx="326" cy="383"/><circle r="1.964" cx="330" cy="352"/><circle r="1.964" cx="359" cy="395"/><circle r="1.964" cx="343" cy="384"/><circle r="1.964" cx="315" cy="349"/><circle r="1.964" cx="331" cy="366"/>
<circle r="1.964" cx="304" cy="343"/><circle r="1.964" cx="340" cy="376"/><circle r="1.964" cx="348" cy="384"/><circle r="1.964" cx="320" cy="350"/><circle r="1.964" cx="330" cy="376"/><circle r="1.964" cx="322" cy="344"/>
<circle r="1.964" cx="329" cy="358"/><circle r="1.964" cx="333" cy="371"/><circle r="1.964" cx="329" cy="385"/><circle r="1.964" cx="326" cy="350"/><circle r="1.964" cx="333" cy="363"/><circle r="1.964" cx="330" cy="377"/>
<circle r="1.964" cx="344" cy="385"/><circle r="1.964" cx="358" cy="399"/><circle r="1.964" cx="326" cy="362"/><circle r="1.964" cx="378" cy="408"/><circle r="1.964" cx="337" cy="347"/><circle r="1.964" cx="341" cy="387"/>
<circle r="1.964" cx="358" cy="404"/><circle r="1.964" cx="366" cy="409"/><circle r="1.964" cx="340" cy="364"/><circle r="1.964" cx="330" cy="340"/><circle r="1.964" cx="313" cy="327"/><circle r="1.964" cx="315" cy="355"/>
<circle r="1.964" cx="314" cy="319"/><circle r="1.964" cx="310" cy="345"/><circle r="1.964" cx="312" cy="319"/><circle r="1.964" cx="337" cy="374"/><circle r="1.964" cx="347" cy="393"/><circle r="1.964" cx="327" cy="362"/>
<circle r="1.964" cx="370" cy="399"/><circle r="1.964" cx="319" cy="357"/><circle r="1.964" cx="343" cy="382"/><circle r="1.964" cx="319" cy="342"/><circle r="1.964" cx="340" cy="372"/><circle r="1.964" cx="349" cy="385"/>
<circle r="1.964" cx="326" cy="375"/><circle r="1.964" cx="358" cy="390"/><circle r="1.964" cx="339" cy="370"/><circle r="1.964" cx="316" cy="368"/><circle r="1.964" cx="315" cy="371"/><circle r="1.964" cx="350" cy="395"/>
<circle r="1.964" cx="335" cy="376"/><circle r="1.964" cx="337" cy="378"/><circle r="1.964" cx="327" cy="371"/><circle r="1.964" cx="338" cy="396"/><circle r="1.964" cx="320" cy="350"/><circle r="1.964" cx="329" cy="367"/>
<circle r="1.964" cx="340" cy="370"/><circle r="1.964" cx="326" cy="330"/><circle r="1.964" cx="362" cy="402"/><circle r="1.964" cx="333" cy="371"/><circle r="1.964" cx="332" cy="353"/><circle r="1.964" cx="349" cy="400"/>
<circle r="1.964" cx="331" cy="390"/><circle r="1.964" cx="313" cy="328"/><circle r="1.964" cx="322" cy="344"/><circle r="1.964" cx="334" cy="388"/><circle r="1.964" cx="337" cy="387"/><circle r="1.964" cx="331" cy="375"/>
<circle r="1.964" cx="338" cy="387"/><circle r="1.964" cx="304" cy="360"/><circle r="1.964" cx="349" cy="395"/><circle r="1.964" cx="336" cy="388"/><circle r="1.964" cx="335" cy="344"/><circle r="1.964" cx="338" cy="365"/>
<circle r="1.964" cx="342" cy="368"/><circle r="1.964" cx="344" cy="387"/><circle r="1.964" cx="313" cy="341"/><circle r="1.964" cx="318" cy="364"/><circle r="1.964" cx="313" cy="381"/><circle r="1.964" cx="337" cy="355"/>
<circle r="1.964" cx="339" cy="389"/><circle r="1.964" cx="336" cy="385"/><circle r="1.964" cx="332" cy="352"/><circle r="1.964" cx="335" cy="366"/><circle r="1.964" cx="314" cy="371"/><circle r="1.964" cx="336" cy="366"/>
<circle r="1.964" cx="323" cy="339"/><circle r="1.964" cx="329" cy="347"/><circle r="1.964" cx="371" cy="406"/><circle r="1.964" cx="324" cy="355"/><circle r="1.964" cx="351" cy="379"/><circle r="1.964" cx="335" cy="354"/>
<circle r="1.964" cx="321" cy="317"/><circle r="1.964" cx="386" cy="410"/><circle r="1.964" cx="318" cy="344"/><circle r="1.964" cx="316" cy="368"/><circle r="1.964" cx="324" cy="344"/><circle r="1.964" cx="336" cy="356"/>
<circle r="1.964" cx="328" cy="363"/><circle r="1.964" cx="316" cy="353"/><circle r="1.964" cx="338" cy="377"/><circle r="1.964" cx="355" cy="407"/><circle r="1.964" cx="317" cy="357"/><circle r="1.964" cx="348" cy="396"/>
<circle r="1.964" cx="323" cy="350"/><circle r="1.964" cx="351" cy="376"/><circle r="1.964" cx="317" cy="350"/><circle r="1.964" cx="318" cy="365"/><circle r="1.964" cx="326" cy="364"/><circle r="1.964" cx="343" cy="398"/>
<circle r="1.964" cx="341" cy="383"/><circle r="1.964" cx="343" cy="378"/><circle r="1.964" cx="340" cy="359"/><circle r="1.964" cx="357" cy="387"/><circle r="1.964" cx="355" cy="387"/><circle r="1.964" cx="323" cy="371"/>
<circle r="1.964" cx="328" cy="352"/><circle r="1.964" cx="327" cy="372"/><circle r="1.964" cx="325" cy="331"/><circle r="1.964" cx="358" cy="391"/><circle r="1.964" cx="320" cy="317"/><circle r="1.964" cx="371" cy="392"/>
<circle r="1.964" cx="327" cy="344"/><circle r="1.964" cx="324" cy="350"/><circle r="1.964" cx="336" cy="355"/><circle r="1.964" cx="340" cy="383"/><circle r="1.964" cx="326" cy="353"/><circle r="1.964" cx="337" cy="388"/>
<circle r="1.964" cx="351" cy="392"/><circle r="1.964" cx="339" cy="390"/><circle r="1.964" cx="312" cy="340"/><circle r="1.964" cx="361" cy="396"/><circle r="1.964" cx="328" cy="352"/><circle r="1.964" cx="370" cy="416"/>
<circle r="1.964" cx="338" cy="356"/><circle r="1.964" cx="355" cy="390"/><circle r="1.964" cx="326" cy="360"/><circle r="1.964" cx="328" cy="339"/><circle r="1.964" cx="306" cy="339"/><circle r="1.964" cx="345" cy="408"/>
<circle r="1.964" cx="316" cy="361"/><circle r="1.964" cx="334" cy="357"/><circle r="1.964" cx="322" cy="371"/><circle r="1.964" cx="339" cy="378"/><circle r="1.964" cx="313" cy="335"/><circle r="1.964" cx="341" cy="372"/>
<circle r="1.964" cx="322" cy="347"/><circle r="1.964" cx="339" cy="366"/><circle r="1.964" cx="349" cy="369"/><circle r="1.964" cx="361" cy="395"/><circle r="1.964" cx="327" cy="359"/><circle r="1.964" cx="354" cy="389"/>
<circle r="1.964" cx="331" cy="372"/><circle r="1.964" cx="354" cy="403"/><circle r="1.964" cx="319" cy="332"/><circle r="1.964" cx="326" cy="324"/><circle r="1.964" cx="324" cy="389"/><circle r="1.964" cx="332" cy="346"/>
<circle r="1.964" cx="328" cy="374"/><circle r="1.964" cx="350" cy="374"/><circle r="1.964" cx="334" cy="360"/><circle r="1.964" cx="333" cy="389"/><circle r="1.964" cx="325" cy="361"/><circle r="1.964" cx="358" cy="390"/>
<circle r="1.964" cx="333" cy="350"/><circle r="1.964" cx="335" cy="378"/><circle r="1.964" cx="333" cy="382"/><circle r="1.964" cx="320" cy="327"/><circle r="1.964" cx="337" cy="370"/><circle r="1.964" cx="310" cy="357"/>
<circle r="1.964" cx="332" cy="347"/><circle r="1.964" cx="347" cy="387"/><circle r="1.964" cx="349" cy="393"/><circle r="1.964" cx="375" cy="407"/><circle r="1.964" cx="323" cy="384"/><circle r="1.964" cx="335" cy="353"/>
<circle r="1.964" cx="353" cy="401"/><circle r="1.964" cx="323" cy="342"/><circle r="1.964" cx="322" cy="335"/><circle r="1.964" cx="324" cy="375"/><circle r="1.964" cx="339" cy="383"/><circle r="1.964" cx="320" cy="348"/>
<circle r="1.964" cx="319" cy="355"/><circle r="1.964" cx="334" cy="349"/><circle r="1.964" cx="340" cy="377"/><circle r="1.964" cx="347" cy="366"/><circle r="1.964" cx="323" cy="355"/><circle r="1.964" cx="331" cy="364"/>
<circle r="1.964" cx="353" cy="391"/><circle r="1.964" cx="317" cy="363"/><circle r="1.964" cx="331" cy="362"/><circle r="1.964" cx="322" cy="357"/><circle r="1.964" cx="338" cy="405"/><circle r="1.964" cx="339" cy="380"/>
<circle r="1.964" cx="348" cy="395"/><circle r="1.964" cx="347" cy="374"/><circle r="1.964" cx="310" cy="325"/><circle r="1.964" cx="329" cy="356"/><circle r="1.964" cx="324" cy="370"/><circle r="1.964" cx="346" cy="396"/>
<circle r="1.964" cx="346" cy="382"/><circle r="1.964" cx="360" cy="393"/><circle r="1.964" cx="330" cy="341"/><circle r="1.964" cx="314" cy="327"/><circle r="1.964" cx="313" cy="365"/><circle r="1.964" cx="332" cy="349"/>
<circle r="1.964" cx="326" cy="369"/><circle r="1.964" cx="342" cy="390"/><circle r="1.964" cx="319" cy="347"/><circle r="1.964" cx="357" cy="398"/><circle r="1.964" cx="311" cy="323"/><circle r="1.964" cx="333" cy="363"/>
<circle r="1.964" cx="323" cy="367"/><circle r="1.964" cx="349" cy="402"/><circle r="1.964" cx="327" cy="362"/><circle r="1.964" cx="329" cy="363"/><circle r="1.964" cx="319" cy="357"/><circle r="1.964" cx="319" cy="353"/>
<circle r="1.964" cx="321" cy="362"/><circle r="1.964" cx="342" cy="385"/><circle r="1.964" cx="335" cy="358"/><circle r="1.964" cx="328" cy="372"/><circle r="1.964" cx="324" cy="359"/><circle r="1.964" cx="325" cy="346"/>
<circle r="1.964" cx="327" cy="377"/><circle r="1.964" cx="320" cy="346"/><circle r="1.964" cx="359" cy="389"/><circle r="1.964" cx="333" cy="383"/><circle r="1.964" cx="321" cy="346"/><circle r="1.964" cx="317" cy="346"/>
<circle r="1.964" cx="348" cy="396"/><circle r="1.964" cx="335" cy="393"/><circle r="1.964" cx="337" cy="357"/><circle r="1.964" cx="336" cy="362"/><circle r="1.964" cx="324" cy="358"/><circle r="1.964" cx="345" cy="400"/>
<circle r="1.964" cx="351" cy="385"/><circle r="1.964" cx="324" cy="378"/><circle r="1.964" cx="315" cy="342"/><circle r="1.964" cx="326" cy="340"/><circle r="1.964" cx="334" cy="389"/><circle r="1.964" cx="375" cy="403"/>
<circle r="1.964" cx="314" cy="325"/><circle r="1.964" cx="322" cy="382"/><circle r="1.964" cx="317" cy="359"/><circle r="1.964" cx="315" cy="341"/><circle r="1.964" cx="345" cy="382"/><circle r="1.964" cx="320" cy="332"/>
<circle r="1.964" cx="334" cy="389"/><circle r="1.964" cx="317" cy="354"/><circle r="1.964" cx="362" cy="404"/><circle r="1.964" cx="323" cy="361"/><circle r="1.964" cx="333" cy="390"/><circle r="1.964" cx="327" cy="355"/>
<circle r="1.964" cx="314" cy="341"/><circle r="1.964" cx="331" cy="351"/><circle r="1.964" cx="339" cy="368"/><circle r="1.964" cx="316" cy="327"/><circle r="1.964" cx="354" cy="392"/><circle r="1.964" cx="328" cy="365"/>
<circle r="1.964" cx="308" cy="327"/><circle r="1.964" cx="327" cy="338"/><circle r="1.964" cx="323" cy="338"/><circle r="1.964" cx="333" cy="371"/><circle r="1.964" cx="323" cy="361"/><circle r="1.964" cx="332" cy="376"/>
<circle r="1.964" cx="308" cy="347"/><circle r="1.964" cx="336" cy="390"/><circle r="1.964" cx="324" cy="348"/><circle r="1.964" cx="326" cy="346"/><circle r="1.964" cx="343" cy="377"/><circle r="1.964" cx="315" cy="340"/>
<circle r="1.964" cx="346" cy="388"/><circle r="1.964" cx="365" cy="400"/><circle r="1.964" cx="359" cy="388"/><circle r="1.964" cx="334" cy="346"/><circle r="1.964" cx="328" cy="353"/><circle r="1.964" cx="322" cy="381"/>
<circle r="1.964" cx="318" cy="285"/><circle r="1.964" cx="315" cy="287"/><circle r="1.964" cx="320" cy="289"/><circle r="1.964" cx="319" cy="292"/><circle r="1.964" cx="318" cy="295"/><circle r="1.964" cx="317" cy="298"/>
<circle r="1.964" cx="308" cy="299"/><circle r="1.964" cx="314" cy="302"/><circle r="1.964" cx="317" cy="301"/><circle r="1.964" cx="319" cy="300"/><circle r="1.964" cx="316" cy="304"/><circle r="1.964" cx="326" cy="304"/>
<circle r="1.964" cx="325" cy="306"/><circle r="1.964" cx="324" cy="308"/><circle r="1.964" cx="308" cy="309"/><circle r="1.964" cx="312" cy="308"/><circle r="1.964" cx="315" cy="307"/><circle r="1.964" cx="318" cy="308"/>
<circle r="1.964" cx="325" cy="310"/><circle r="1.964" cx="312" cy="313"/><circle r="1.964" cx="318" cy="312"/><circle r="1.964" cx="301" cy="325"/><circle r="1.964" cx="299" cy="337"/><circle r="1.964" cx="303" cy="338"/>
<circle r="1.964" cx="427" cy="417"/><circle r="1.964" cx="411" cy="433"/><circle r="1.964" cx="403" cy="426"/><circle r="1.964" cx="401" cy="419"/><circle r="1.964" cx="394" cy="419"/><circle r="1.964" cx="394" cy="428"/>
<circle r="1.964" cx="389" cy="418"/><circle r="1.964" cx="387" cy="418"/><circle r="1.964" cx="387" cy="421"/><circle r="1.964" cx="380" cy="414"/><circle r="1.964" cx="381" cy="417"/><circle r="1.964" cx="379" cy="419"/>
<circle r="1.964" cx="371" cy="424"/><circle r="1.964" cx="377" cy="427"/><circle r="1.964" cx="380" cy="428"/><circle r="1.964" cx="383" cy="392"/><circle r="1.964" cx="384" cy="398"/><circle r="1.964" cx="386" cy="402"/>
<circle r="1.964" cx="388" cy="405"/><circle r="1.964" cx="382" cy="405"/><circle r="1.964" cx="381" cy="408"/><circle r="1.964" cx="385" cy="411"/><circle r="1.964" cx="387" cy="411"/><circle r="1.964" cx="377" cy="409"/>
<circle r="1.964" cx="378" cy="410"/><circle r="1.964" cx="348" cy="420"/><circle r="1.964" cx="340" cy="413"/><circle r="1.964" cx="324" cy="407"/><circle r="1.964" cx="464" cy="51"/><circle r="1.964" cx="455" cy="70"/>
<circle r="1.964" cx="453" cy="88"/><circle r="1.964" cx="455" cy="92"/><circle r="1.964" cx="471" cy="88"/><circle r="1.964" cx="477" cy="90"/>
</g>
<path d="M65.5 32.5V452.5M132.5 32.5V452.5M199.5 32.5V452.5M266.5 32.5V452.5M332.5 32.5V452.5M399.5 32.5V452.5M466.5 32.5V452.5M533.5 32.5V452.5" fill="none" stroke="#b0b0b0" stroke-opacity="0.3" stroke-width="1.111"/>
<path d="M42.5 431.5H585.5M42.5 365.5H585.5M42.5 298.5H585.5M42.5 231.5H585.5M42.5 164.5H585.5M42.5 98.5H585.5" fill="none" stroke="#b0b0b0" stroke-opacity="0.3" stroke-width="1.111"/>
<path d="M65.5 452.5v5M132.5 452.5v5M199.5 452.5v5M266.5 452.5v5M332.5 452.5v5M399.5 452.5v5M466.5 452.5v5M533.5 452.5v5M42.5 431.5h-5M42.5 365.5h-5M42.5 298.5h-5M42.5 231.5h-5M42.5 164.5h-5M42.5 98.5h-5" fill="none" stroke="#000" stroke-width="1.111"/>
<rect x="42.5" y="32.5" width="543" height="420" fill="none" stroke="#000" stroke-width="1.111"/>
<text class="t" text-anchor="middle" x="65.63" y="473.54">−<tspan dx="-0.8">4</tspan></text><text class="t" text-anchor="middle" x="131.64" y="473.54">−<tspan dx="-0.8">3</tspan></text><text class="t" text-anchor="middle" x="198.64" y="473.54">−<tspan dx="-0.8">2</tspan></text><text class="t" text-anchor="middle" x="265.64" y="473.54">−<tspan dx="-0.8">1</tspan></text><text class="t" text-anchor="middle" x="332.89" y="473.54">0</text><text class="t" text-anchor="middle" x="399.89" y="473.54">1</text><text class="t" text-anchor="middle" x="465.90" y="473.54">2</text><text class="t" text-anchor="middle" x="532.90" y="473.54">3</text>
<text class="t" text-anchor="end" x="32.50" y="436.62">−<tspan dx="-0.8">3</tspan></text><text class="t" text-anchor="end" x="32.50" y="370.86">−<tspan dx="-0.8">2</tspan></text><text class="t" text-anchor="end" x="32.50" y="303.61">−<tspan dx="-0.8">1</tspan></text><text class="t" text-anchor="end" x="32.75" y="236.85">0</text><text class="t" text-anchor="end" x="33.75" y="169.60">1</text><text class="t" text-anchor="end" x="32.75" y="103.84">2</text>
<text class="h" text-anchor="middle" x="313.74" y="23.93">Real pinwheel data</text>
</g>
<g>
<g transform="translate(.5 .5)" fill="#1f77b4" fill-opacity="0.8">
<circle r="1.964" cx="1052" cy="174"/><circle r="1.964" cx="1046" cy="165"/><circle r="1.964" cx="1057" cy="135"/><circle r="1.964" cx="1029" cy="189"/><circle r="1.964" cx="1064" cy="157"/><circle r="1.964" cx="1022" cy="200"/>
<circle r="1.964" cx="1043" cy="165"/><circle r="1.964" cx="1050" cy="179"/><circle r="1.964" cx="1067" cy="145"/><circle r="1.964" cx="1041" cy="152"/><circle r="1.964" cx="1042" cy="182"/><circle r="1.964" cx="1057" cy="123"/>
<circle r="1.964" cx="1054" cy="111"/><circle r="1.964" cx="1044" cy="192"/><circle r="1.964" cx="1056" cy="147"/><circle r="1.964" cx="1039" cy="169"/><circle r="1.964" cx="1052" cy="164"/><circle r="1.964" cx="1054" cy="163"/>
<circle r="1.964" cx="1033" cy="202"/><circle r="1.964" cx="1052" cy="169"/><circle r="1.964" cx="1037" cy="198"/><circle r="1.964" cx="1039" cy="198"/><circle r="1.964" cx="1037" cy="165"/><circle r="1.964" cx="1023" cy="188"/>
<circle r="1.964" cx="1051" cy="160"/><circle r="1.964" cx="1058" cy="153"/><circle r="1.964" cx="1068" cy="159"/><circle r="1.964" cx="1049" cy="189"/><circle r="1.964" cx="1062" cy="157"/><circle r="1.964" cx="1065" cy="126"/>
<circle r="1.964" cx="1062" cy="138"/><circle r="1.964" cx="1027" cy="193"/><circle r="1.964" cx="1020" cy="198"/><circle r="1.964" cx="1063" cy="171"/><circle r="1.964" cx="1061" cy="133"/><circle r="1.964" cx="1046" cy="162"/>
<circle r="1.964" cx="1067" cy="153"/><circle r="1.964" cx="1054" cy="163"/><circle r="1.964" cx="1057" cy="169"/><circle r="1.964" cx="1053" cy="163"/><circle r="1.964" cx="1045" cy="180"/><circle r="1.964" cx="1056" cy="138"/>
<circle r="1.964" cx="1045" cy="187"/><circle r="1.964" cx="1046" cy="175"/><circle r="1.964" cx="1035" cy="191"/><circle r="1.964" cx="1052" cy="150"/><circle r="1.964" cx="1026" cy="192"/><circle r="1.964" cx="1050" cy="185"/>
<circle r="1.964" cx="1052" cy="139"/><circle r="1.964" cx="1047" cy="140"/><circle r="1.964" cx="1053" cy="147"/><circle r="1.964" cx="1030" cy="187"/><circle r="1.964" cx="1042" cy="159"/><circle r="1.964" cx="1063" cy="133"/>
<circle r="1.964" cx="1046" cy="174"/><circle r="1.964" cx="1051" cy="138"/><circle r="1.964" cx="1041" cy="171"/><circle r="1.964" cx="1041" cy="170"/><circle r="1.964" cx="1045" cy="176"/><circle r="1.964" cx="1058" cy="138"/>
<circle r="1.964" cx="1046" cy="182"/><circle r="1.964" cx="1049" cy="171"/><circle r="1.964" cx="1067" cy="144"/><circle r="1.964" cx="1053" cy="150"/><circle r="1.964" cx="1048" cy="176"/><circle r="1.964" cx="1051" cy="158"/>
<circle r="1.964" cx="1030" cy="201"/><circle r="1.964" cx="1022" cy="188"/><circle r="1.964" cx="1055" cy="156"/><circle r="1.964" cx="1058" cy="156"/><circle r="1.964" cx="1043" cy="181"/><circle r="1.964" cx="1064" cy="144"/>
<circle r="1.964" cx="1028" cy="184"/><circle r="1.964" cx="1058" cy="138"/><circle r="1.964" cx="1061" cy="122"/><circle r="1.964" cx="1060" cy="151"/><circle r="1.964" cx="1050" cy="152"/><circle r="1.964" cx="1032" cy="185"/>
<circle r="1.964" cx="1049" cy="172"/><circle r="1.964" cx="1035" cy="201"/><circle r="1.964" cx="1046" cy="178"/><circle r="1.964" cx="1050" cy="158"/><circle r="1.964" cx="1057" cy="163"/><circle r="1.964" cx="1043" cy="189"/>
<circle r="1.964" cx="1055" cy="137"/><circle r="1.964" cx="1036" cy="177"/><circle r="1.964" cx="1057" cy="157"/><circle r="1.964" cx="1059" cy="150"/><circle r="1.964" cx="1034" cy="179"/><circle r="1.964" cx="1059" cy="149"/>
<circle r="1.964" cx="1035" cy="203"/><circle r="1.964" cx="1037" cy="189"/><circle r="1.964" cx="1037" cy="193"/><circle r="1.964" cx="1050" cy="154"/><circle r="1.964" cx="1042" cy="169"/><circle r="1.964" cx="1051" cy="167"/>
<circle r="1.964" cx="1032" cy="184"/><circle r="1.964" cx="1041" cy="175"/><circle r="1.964" cx="1047" cy="178"/><circle r="1.964" cx="1038" cy="172"/><circle r="1.964" cx="1033" cy="185"/><circle r="1.964" cx="1056" cy="132"/>
<circle r="1.964" cx="1054" cy="162"/><circle r="1.964" cx="1036" cy="180"/><circle r="1.964" cx="1042" cy="189"/><circle r="1.964" cx="1023" cy="208"/><circle r="1.964" cx="1051" cy="172"/><circle r="1.964" cx="1045" cy="186"/>
<circle r="1.964" cx="1060" cy="139"/><circle r="1.964" cx="1037" cy="170"/><circle r="1.964" cx="1036" cy="196"/><circle r="1.964" cx="1032" cy="193"/><circle r="1.964" cx="1051" cy="130"/><circle r="1.964" cx="1053" cy="149"/>
<circle r="1.964" cx="1046" cy="177"/><circle r="1.964" cx="1054" cy="162"/><circle r="1.964" cx="1043" cy="168"/><circle r="1.964" cx="1056" cy="155"/><circle r="1.964" cx="1036" cy="197"/><circle r="1.964" cx="1054" cy="171"/>
<circle r="1.964" cx="1033" cy="192"/><circle r="1.964" cx="1054" cy="149"/><circle r="1.964" cx="1055" cy="149"/><circle r="1.964" cx="1054" cy="180"/><circle r="1.964" cx="1056" cy="133"/><circle r="1.964" cx="1036" cy="175"/>
<circle r="1.964" cx="1056" cy="153"/><circle r="1.964" cx="1046" cy="167"/><circle r="1.964" cx="1034" cy="195"/><circle r="1.964" cx="1046" cy="157"/><circle r="1.964" cx="1060" cy="162"/><circle r="1.964" cx="1032" cy="185"/>
<circle r="1.964" cx="1066" cy="129"/><circle r="1.964" cx="1023" cy="201"/><circle r="1.964" cx="1035" cy="199"/><circle r="1.964" cx="1043" cy="166"/><circle r="1.964" cx="1044" cy="175"/><circle r="1.964" cx="1059" cy="141"/>
<circle r="1.964" cx="1035" cy="194"/><circle r="1.964" cx="1055" cy="184"/><circle r="1.964" cx="1041" cy="168"/><circle r="1.964" cx="1054" cy="167"/><circle r="1.964" cx="1053" cy="146"/><circle r="1.964" cx="1053" cy="134"/>
<circle r="1.964" cx="1050" cy="154"/><circle r="1.964" cx="1052" cy="154"/><circle r="1.964" cx="1045" cy="158"/><circle r="1.964" cx="1027" cy="206"/><circle r="1.964" cx="1017" cy="194"/><circle r="1.964" cx="1052" cy="155"/>
<circle r="1.964" cx="1028" cy="196"/><circle r="1.964" cx="1051" cy="160"/><circle r="1.964" cx="1048" cy="181"/><circle r="1.964" cx="1042" cy="194"/><circle r="1.964" cx="1035" cy="183"/><circle r="1.964" cx="1055" cy="176"/>
<circle r="1.964" cx="1071" cy="138"/><circle r="1.964" cx="1024" cy="205"/><circle r="1.964" cx="1041" cy="163"/><circle r="1.964" cx="1065" cy="150"/><circle r="1.964" cx="1051" cy="158"/><circle r="1.964" cx="1041" cy="180"/>
<circle r="1.964" cx="1049" cy="165"/><circle r="1.964" cx="1056" cy="159"/><circle r="1.964" cx="1063" cy="144"/><circle r="1.964" cx="1025" cy="202"/><circle r="1.964" cx="1038" cy="188"/><circle r="1.964" cx="1056" cy="165"/>
<circle r="1.964" cx="1053" cy="153"/><circle r="1.964" cx="1049" cy="155"/><circle r="1.964" cx="1053" cy="154"/><circle r="1.964" cx="1066" cy="155"/><circle r="1.964" cx="1045" cy="140"/><circle r="1.964" cx="1040" cy="182"/>
<circle r="1.964" cx="1045" cy="176"/><circle r="1.964" cx="1026" cy="194"/><circle r="1.964" cx="1049" cy="141"/><circle r="1.964" cx="1059" cy="172"/><circle r="1.964" cx="1045" cy="166"/><circle r="1.964" cx="1029" cy="185"/>
<circle r="1.964" cx="1056" cy="160"/><circle r="1.964" cx="1068" cy="160"/><circle r="1.964" cx="1051" cy="155"/><circle r="1.964" cx="1059" cy="137"/><circle r="1.964" cx="1027" cy="204"/><circle r="1.964" cx="1045" cy="168"/>
<circle r="1.964" cx="1055" cy="172"/><circle r="1.964" cx="1042" cy="158"/><circle r="1.964" cx="1047" cy="177"/><circle r="1.964" cx="1044" cy="171"/><circle r="1.964" cx="1054" cy="121"/><circle r="1.964" cx="1041" cy="171"/>
<circle r="1.964" cx="1063" cy="156"/><circle r="1.964" cx="1053" cy="143"/><circle r="1.964" cx="1037" cy="161"/><circle r="1.964" cx="1054" cy="169"/><circle r="1.964" cx="1039" cy="177"/><circle r="1.964" cx="1058" cy="135"/>
<circle r="1.964" cx="1051" cy="129"/><circle r="1.964" cx="1027" cy="188"/><circle r="1.964" cx="1059" cy="127"/><circle r="1.964" cx="1049" cy="168"/><circle r="1.964" cx="1031" cy="199"/><circle r="1.964" cx="1034" cy="171"/>
<circle r="1.964" cx="1071" cy="135"/><circle r="1.964" cx="1051" cy="162"/><circle r="1.964" cx="1047" cy="156"/><circle r="1.964" cx="1051" cy="179"/><circle r="1.964" cx="1040" cy="180"/><circle r="1.964" cx="1048" cy="138"/>
<circle r="1.964" cx="1058" cy="121"/><circle r="1.964" cx="1049" cy="162"/><circle r="1.964" cx="1054" cy="112"/><circle r="1.964" cx="1071" cy="152"/><circle r="1.964" cx="1027" cy="201"/><circle r="1.964" cx="1057" cy="149"/>
<circle r="1.964" cx="1065" cy="135"/><circle r="1.964" cx="1043" cy="182"/><circle r="1.964" cx="1056" cy="179"/><circle r="1.964" cx="1047" cy="179"/><circle r="1.964" cx="1033" cy="185"/><circle r="1.964" cx="1045" cy="168"/>
<circle r="1.964" cx="1042" cy="177"/><circle r="1.964" cx="1041" cy="158"/><circle r="1.964" cx="1043" cy="196"/><circle r="1.964" cx="1034" cy="183"/><circle r="1.964" cx="1037" cy="180"/><circle r="1.964" cx="1047" cy="147"/>
<circle r="1.964" cx="1034" cy="195"/><circle r="1.964" cx="1063" cy="137"/><circle r="1.964" cx="1035" cy="191"/><circle r="1.964" cx="1051" cy="188"/><circle r="1.964" cx="1043" cy="183"/><circle r="1.964" cx="1034" cy="169"/>
<circle r="1.964" cx="1051" cy="155"/><circle r="1.964" cx="1043" cy="153"/><circle r="1.964" cx="1037" cy="195"/><circle r="1.964" cx="1055" cy="173"/><circle r="1.964" cx="1055" cy="160"/><circle r="1.964" cx="1054" cy="170"/>
<circle r="1.964" cx="1057" cy="129"/><circle r="1.964" cx="1046" cy="175"/><circle r="1.964" cx="1043" cy="191"/><circle r="1.964" cx="1045" cy="142"/><circle r="1.964" cx="1030" cy="204"/><circle r="1.964" cx="1032" cy="176"/>
<circle r="1.964" cx="1044" cy="170"/><circle r="1.964" cx="1068" cy="157"/><circle r="1.964" cx="1060" cy="141"/><circle r="1.964" cx="1034" cy="174"/><circle r="1.964" cx="1065" cy="155"/><circle r="1.964" cx="1045" cy="163"/>
<circle r="1.964" cx="1047" cy="160"/><circle r="1.964" cx="1049" cy="143"/><circle r="1.964" cx="1051" cy="168"/><circle r="1.964" cx="1033" cy="178"/><circle r="1.964" cx="1038" cy="192"/><circle r="1.964" cx="1054" cy="153"/>
<circle r="1.964" cx="1043" cy="190"/><circle r="1.964" cx="1037" cy="193"/><circle r="1.964" cx="1047" cy="173"/><circle r="1.964" cx="1054" cy="154"/><circle r="1.964" cx="1052" cy="143"/><circle r="1.964" cx="1047" cy="169"/>
<circle r="1.964" cx="1042" cy="186"/><circle r="1.964" cx="1051" cy="130"/><circle r="1.964" cx="1054" cy="167"/><circle r="1.964" cx="1036" cy="190"/><circle r="1.964" cx="1052" cy="143"/><circle r="1.964" cx="1050" cy="181"/>
<circle r="1.964" cx="1070" cy="132"/><circle r="1.964" cx="1041" cy="159"/><circle r="1.964" cx="1063" cy="125"/><circle r="1.964" cx="1058" cy="154"/><circle r="1.964" cx="1050" cy="145"/><circle r="1.964" cx="1039" cy="163"/>
<circle r="1.964" cx="1059" cy="177"/><circle r="1.964" cx="1051" cy="134"/><circle r="1.964" cx="1064" cy="136"/><circle r="1.964" cx="1039" cy="184"/><circle r="1.964" cx="1069" cy="141"/><circle r="1.964" cx="1045" cy="192"/>
<circle r="1.964" cx="1072" cy="148"/><circle r="1.964" cx="1054" cy="151"/><circle r="1.964" cx="1030" cy="188"/><circle r="1.964" cx="1055" cy="146"/><circle r="1.964" cx="1038" cy="175"/><circle r="1.964" cx="1046" cy="165"/>
<circle r="1.964" cx="1024" cy="200"/><circle r="1.964" cx="1052" cy="154"/><circle r="1.964" cx="1058" cy="143"/><circle r="1.964" cx="1037" cy="173"/><circle r="1.964" cx="1042" cy="176"/><circle r="1.964" cx="1070" cy="141"/>
<circle r="1.964" cx="1073" cy="149"/><circle r="1.964" cx="1022" cy="199"/><circle r="1.964" cx="1061" cy="143"/><circle r="1.964" cx="1042" cy="188"/><circle r="1.964" cx="1041" cy="164"/><circle r="1.964" cx="1041" cy="170"/>
<circle r="1.964" cx="1030" cy="190"/><circle r="1.964" cx="1053" cy="119"/><circle r="1.964" cx="1036" cy="192"/><circle r="1.964" cx="1026" cy="198"/><circle r="1.964" cx="1035" cy="179"/><circle r="1.964" cx="1033" cy="190"/>
<circle r="1.964" cx="1038" cy="175"/><circle r="1.964" cx="1047" cy="167"/><circle r="1.964" cx="1051" cy="147"/><circle r="1.964" cx="1026" cy="201"/><circle r="1.964" cx="1060" cy="166"/><circle r="1.964" cx="1039" cy="169"/>
<circle r="1.964" cx="1057" cy="159"/><circle r="1.964" cx="1032" cy="178"/><circle r="1.964" cx="1051" cy="133"/><circle r="1.964" cx="1050" cy="161"/><circle r="1.964" cx="1045" cy="161"/><circle r="1.964" cx="1063" cy="171"/>
<circle r="1.964" cx="1054" cy="164"/><circle r="1.964" cx="1048" cy="156"/><circle r="1.964" cx="1025" cy="199"/><circle r="1.964" cx="1047" cy="152"/><circle r="1.964" cx="1047" cy="171"/><circle r="1.964" cx="1058" cy="163"/>
<circle r="1.964" cx="1051" cy="160"/><circle r="1.964" cx="1038" cy="167"/><circle r="1.964" cx="1050" cy="149"/><circle r="1.964" cx="1055" cy="115"/><circle r="1.964" cx="1047" cy="139"/><circle r="1.964" cx="1056" cy="177"/>
<circle r="1.964" cx="1053" cy="165"/><circle r="1.964" cx="1057" cy="135"/><circle r="1.964" cx="1041" cy="183"/><circle r="1.964" cx="1049" cy="164"/><circle r="1.964" cx="1039" cy="164"/><circle r="1.964" cx="1061" cy="151"/>
<circle r="1.964" cx="1045" cy="171"/><circle r="1.964" cx="1047" cy="169"/><circle r="1.964" cx="1047" cy="135"/><circle r="1.964" cx="1047" cy="165"/><circle r="1.964" cx="1070" cy="138"/><circle r="1.964" cx="1020" cy="201"/>
<circle r="1.964" cx="1049" cy="169"/><circle r="1.964" cx="1053" cy="148"/><circle r="1.964" cx="1051" cy="179"/><circle r="1.964" cx="1057" cy="134"/><circle r="1.964" cx="1050" cy="151"/><circle r="1.964" cx="1057" cy="154"/>
<circle r="1.964" cx="1043" cy="164"/><circle r="1.964" cx="1061" cy="169"/><circle r="1.964" cx="1037" cy="195"/><circle r="1.964" cx="1058" cy="144"/><circle r="1.964" cx="1057" cy="168"/><circle r="1.964" cx="1050" cy="150"/>
<circle r="1.964" cx="1021" cy="202"/><circle r="1.964" cx="1049" cy="143"/><circle r="1.964" cx="1065" cy="139"/><circle r="1.964" cx="1059" cy="123"/><circle r="1.964" cx="1034" cy="181"/><circle r="1.964" cx="1039" cy="195"/>
<circle r="1.964" cx="1066" cy="155"/><circle r="1.964" cx="1030" cy="178"/><circle r="1.964" cx="1019" cy="195"/><circle r="1.964" cx="1046" cy="193"/><circle r="1.964" cx="1052" cy="181"/><circle r="1.964" cx="1059" cy="153"/>
<circle r="1.964" cx="1043" cy="177"/><circle r="1.964" cx="1042" cy="187"/><circle r="1.964" cx="1052" cy="165"/><circle r="1.964" cx="1057" cy="145"/><circle r="1.964" cx="1032" cy="195"/><circle r="1.964" cx="1037" cy="201"/>
<circle r="1.964" cx="1058" cy="135"/><circle r="1.964" cx="1066" cy="152"/><circle r="1.964" cx="1044" cy="195"/><circle r="1.964" cx="1055" cy="179"/><circle r="1.964" cx="1036" cy="165"/><circle r="1.964" cx="1064" cy="160"/>
<circle r="1.964" cx="1047" cy="161"/><circle r="1.964" cx="1040" cy="181"/><circle r="1.964" cx="1055" cy="143"/><circle r="1.964" cx="1060" cy="153"/><circle r="1.964" cx="1040" cy="157"/><circle r="1.964" cx="1051" cy="125"/>
<circle r="1.964" cx="1041" cy="174"/><circle r="1.964" cx="1038" cy="179"/><circle r="1.964" cx="1056" cy="164"/><circle r="1.964" cx="1046" cy="160"/><circle r="1.964" cx="1028" cy="187"/><circle r="1.964" cx="1043" cy="177"/>
<circle r="1.964" cx="1041" cy="177"/><circle r="1.964" cx="1064" cy="149"/><circle r="1.964" cx="1048" cy="183"/><circle r="1.964" cx="1039" cy="161"/><circle r="1.964" cx="1034" cy="192"/><circle r="1.964" cx="1072" cy="153"/>
<circle r="1.964" cx="1058" cy="165"/><circle r="1.964" cx="1041" cy="192"/><circle r="1.964" cx="1055" cy="150"/><circle r="1.964" cx="1058" cy="179"/><circle r="1.964" cx="1057" cy="135"/><circle r="1.964" cx="1044" cy="163"/>
<circle r="1.964" cx="1041" cy="175"/><circle r="1.964" cx="1055" cy="173"/><circle r="1.964" cx="1050" cy="168"/><circle r="1.964" cx="1059" cy="141"/><circle r="1.964" cx="1057" cy="170"/><circle r="1.964" cx="1033" cy="193"/>
<circle r="1.964" cx="1062" cy="153"/><circle r="1.964" cx="1036" cy="184"/><circle r="1.964" cx="1069" cy="149"/><circle r="1.964" cx="1045" cy="186"/><circle r="1.964" cx="1050" cy="178"/><circle r="1.964" cx="1055" cy="152"/>
<circle r="1.964" cx="1033" cy="198"/><circle r="1.964" cx="1045" cy="150"/><circle r="1.964" cx="1039" cy="163"/><circle r="1.964" cx="1057" cy="153"/><circle r="1.964" cx="1045" cy="187"/><circle r="1.964" cx="1033" cy="192"/>
<circle r="1.964" cx="1049" cy="161"/><circle r="1.964" cx="1039" cy="194"/><circle r="1.964" cx="1047" cy="181"/><circle r="1.964" cx="1058" cy="131"/><circle r="1.964" cx="1043" cy="168"/><circle r="1.964" cx="1049" cy="173"/>
<circle r="1.964" cx="1046" cy="164"/><circle r="1.964" cx="1057" cy="173"/><circle r="1.964" cx="1036" cy="189"/><circle r="1.964" cx="1029" cy="191"/><circle r="1.964" cx="1053" cy="175"/><circle r="1.964" cx="1023" cy="201"/>
<circle r="1.964" cx="1050" cy="180"/><circle r="1.964" cx="1043" cy="167"/><circle r="1.964" cx="1037" cy="165"/><circle r="1.964" cx="1052" cy="165"/><circle r="1.964" cx="1037" cy="176"/><circle r="1.964" cx="1058" cy="146"/>
<circle r="1.964" cx="1037" cy="183"/><circle r="1.964" cx="1027" cy="195"/><circle r="1.964" cx="1052" cy="181"/><circle r="1.964" cx="1047" cy="172"/><circle r="1.964" cx="1028" cy="205"/><circle r="1.964" cx="1052" cy="132"/>
<circle r="1.964" cx="1059" cy="124"/><circle r="1.964" cx="1045" cy="161"/><circle r="1.964" cx="1060" cy="144"/><circle r="1.964" cx="1043" cy="178"/><circle r="1.964" cx="1039" cy="156"/><circle r="1.964" cx="1021" cy="206"/>
<circle r="1.964" cx="1066" cy="133"/><circle r="1.964" cx="1044" cy="166"/><circle r="1.964" cx="1035" cy="166"/><circle r="1.964" cx="1055" cy="165"/><circle r="1.964" cx="1033" cy="190"/><circle r="1.964" cx="1040" cy="157"/>
<circle r="1.964" cx="1046" cy="182"/><circle r="1.964" cx="1037" cy="180"/><circle r="1.964" cx="1024" cy="187"/><circle r="1.964" cx="1023" cy="192"/><circle r="1.964" cx="1051" cy="169"/><circle r="1.964" cx="1037" cy="185"/>
<circle r="1.964" cx="1056" cy="128"/><circle r="1.964" cx="1027" cy="206"/><circle r="1.964" cx="1041" cy="160"/><circle r="1.964" cx="1025" cy="194"/><circle r="1.964" cx="1040" cy="162"/><circle r="1.964" cx="1034" cy="178"/>
<circle r="1.964" cx="1036" cy="171"/><circle r="1.964" cx="1036" cy="182"/><circle r="1.964" cx="1041" cy="183"/><circle r="1.964" cx="1041" cy="187"/><circle r="1.964" cx="1040" cy="182"/><circle r="1.964" cx="1061" cy="139"/>
<circle r="1.964" cx="1065" cy="151"/><circle r="1.964" cx="1041" cy="150"/><circle r="1.964" cx="1027" cy="182"/><circle r="1.964" cx="1050" cy="167"/><circle r="1.964" cx="1039" cy="176"/><circle r="1.964" cx="1040" cy="190"/>
<circle r="1.964" cx="1041" cy="153"/><circle r="1.964" cx="1035" cy="185"/><circle r="1.964" cx="1041" cy="176"/><circle r="1.964" cx="1063" cy="154"/><circle r="1.964" cx="1050" cy="132"/><circle r="1.964" cx="1048" cy="154"/>
<circle r="1.964" cx="1050" cy="169"/><circle r="1.964" cx="1035" cy="171"/><circle r="1.964" cx="1055" cy="173"/><circle r="1.964" cx="1038" cy="170"/><circle r="1.964" cx="1029" cy="201"/><circle r="1.964" cx="1041" cy="186"/>
<circle r="1.964" cx="1034" cy="183"/><circle r="1.964" cx="1045" cy="158"/><circle r="1.964" cx="1061" cy="144"/><circle r="1.964" cx="1035" cy="170"/><circle r="1.964" cx="1041" cy="187"/><circle r="1.964" cx="1062" cy="157"/>
<circle r="1.964" cx="1062" cy="171"/><circle r="1.964" cx="1030" cy="197"/><circle r="1.964" cx="1034" cy="194"/><circle r="1.964" cx="1045" cy="164"/><circle r="1.964" cx="1030" cy="194"/><circle r="1.964" cx="1024" cy="199"/>
<circle r="1.964" cx="1042" cy="176"/><circle r="1.964" cx="1023" cy="201"/><circle r="1.964" cx="1045" cy="175"/><circle r="1.964" cx="1043" cy="188"/><circle r="1.964" cx="1050" cy="153"/><circle r="1.964" cx="1058" cy="143"/>
<circle r="1.964" cx="1021" cy="212"/><circle r="1.964" cx="1046" cy="188"/><circle r="1.964" cx="1055" cy="152"/><circle r="1.964" cx="1044" cy="163"/><circle r="1.964" cx="1055" cy="177"/><circle r="1.964" cx="1033" cy="174"/>
<circle r="1.964" cx="1042" cy="182"/><circle r="1.964" cx="1054" cy="160"/><circle r="1.964" cx="1064" cy="160"/><circle r="1.964" cx="1023" cy="196"/><circle r="1.964" cx="1024" cy="192"/><circle r="1.964" cx="1046" cy="170"/>
<circle r="1.964" cx="1054" cy="150"/><circle r="1.964" cx="1038" cy="197"/><circle r="1.964" cx="1035" cy="186"/><circle r="1.964" cx="1044" cy="153"/><circle r="1.964" cx="1047" cy="185"/><circle r="1.964" cx="1028" cy="192"/>
<circle r="1.964" cx="1035" cy="170"/><circle r="1.964" cx="1048" cy="183"/><circle r="1.964" cx="1021" cy="193"/><circle r="1.964" cx="1043" cy="172"/><circle r="1.964" cx="1034" cy="203"/><circle r="1.964" cx="1058" cy="150"/>
<circle r="1.964" cx="1031" cy="204"/><circle r="1.964" cx="1027" cy="196"/><circle r="1.964" cx="1054" cy="170"/><circle r="1.964" cx="1070" cy="153"/><circle r="1.964" cx="1028" cy="201"/><circle r="1.964" cx="1053" cy="156"/>
<circle r="1.964" cx="825" cy="157"/><circle r="1.964" cx="847" cy="178"/><circle r="1.964" cx="789" cy="167"/><circle r="1.964" cx="816" cy="177"/><circle r="1.964" cx="828" cy="167"/><circle r="1.964" cx="844" cy="165"/>
<circle r="1.964" cx="803" cy="149"/><circle r="1.964" cx="818" cy="172"/><circle r="1.964" cx="802" cy="158"/><circle r="1.964" cx="838" cy="175"/><circle r="1.964" cx="792" cy="163"/><circle r="1.964" cx="794" cy="173"/>
<circle r="1.964" cx="787" cy="173"/><circle r="1.964" cx="779" cy="166"/><circle r="1.964" cx="849" cy="176"/><circle r="1.964" cx="843" cy="153"/><circle r="1.964" cx="818" cy="149"/><circle r="1.964" cx="803" cy="163"/>
<circle r="1.964" cx="807" cy="167"/><circle r="1.964" cx="809" cy="155"/><circle r="1.964" cx="848" cy="162"/><circle r="1.964" cx="813" cy="171"/><circle r="1.964" cx="819" cy="166"/><circle r="1.964" cx="833" cy="175"/>
<circle r="1.964" cx="823" cy="162"/><circle r="1.964" cx="816" cy="170"/><circle r="1.964" cx="846" cy="166"/><circle r="1.964" cx="843" cy="153"/><circle r="1.964" cx="837" cy="154"/><circle r="1.964" cx="816" cy="149"/>
<circle r="1.964" cx="833" cy="168"/><circle r="1.964" cx="799" cy="164"/><circle r="1.964" cx="798" cy="176"/><circle r="1.964" cx="839" cy="161"/><circle r="1.964" cx="799" cy="173"/><circle r="1.964" cx="813" cy="154"/>
<circle r="1.964" cx="825" cy="158"/><circle r="1.964" cx="833" cy="177"/><circle r="1.964" cx="811" cy="155"/><circle r="1.964" cx="862" cy="162"/><circle r="1.964" cx="808" cy="163"/><circle r="1.964" cx="814" cy="170"/>
<circle r="1.964" cx="842" cy="176"/><circle r="1.964" cx="852" cy="156"/><circle r="1.964" cx="825" cy="150"/><circle r="1.964" cx="821" cy="172"/><circle r="1.964" cx="813" cy="151"/><circle r="1.964" cx="809" cy="163"/>
<circle r="1.964" cx="798" cy="156"/><circle r="1.964" cx="801" cy="160"/><circle r="1.964" cx="821" cy="159"/><circle r="1.964" cx="856" cy="163"/><circle r="1.964" cx="817" cy="176"/><circle r="1.964" cx="808" cy="158"/>
<circle r="1.964" cx="795" cy="153"/><circle r="1.964" cx="830" cy="153"/><circle r="1.964" cx="840" cy="176"/><circle r="1.964" cx="829" cy="168"/><circle r="1.964" cx="810" cy="166"/><circle r="1.964" cx="791" cy="168"/>
<circle r="1.964" cx="789" cy="172"/><circle r="1.964" cx="802" cy="157"/><circle r="1.964" cx="848" cy="169"/><circle r="1.964" cx="824" cy="171"/><circle r="1.964" cx="800" cy="171"/><circle r="1.964" cx="816" cy="152"/>
<circle r="1.964" cx="846" cy="171"/><circle r="1.964" cx="798" cy="172"/><circle r="1.964" cx="815" cy="166"/><circle r="1.964" cx="831" cy="158"/><circle r="1.964" cx="795" cy="167"/><circle r="1.964" cx="831" cy="153"/>
<circle r="1.964" cx="813" cy="171"/><circle r="1.964" cx="807" cy="153"/><circle r="1.964" cx="833" cy="175"/><circle r="1.964" cx="780" cy="166"/><circle r="1.964" cx="831" cy="169"/><circle r="1.964" cx="804" cy="162"/>
<circle r="1.964" cx="821" cy="150"/><circle r="1.964" cx="834" cy="157"/><circle r="1.964" cx="812" cy="169"/><circle r="1.964" cx="815" cy="156"/><circle r="1.964" cx="839" cy="152"/><circle r="1.964" cx="835" cy="177"/>
<circle r="1.964" cx="821" cy="160"/><circle r="1.964" cx="807" cy="160"/><circle r="1.964" cx="790" cy="166"/><circle r="1.964" cx="848" cy="179"/><circle r="1.964" cx="818" cy="162"/><circle r="1.964" cx="788" cy="161"/>
<circle r="1.964" cx="845" cy="157"/><circle r="1.964" cx="818" cy="166"/><circle r="1.964" cx="805" cy="167"/><circle r="1.964" cx="823" cy="159"/><circle r="1.964" cx="786" cy="168"/><circle r="1.964" cx="837" cy="159"/>
<circle r="1.964" cx="823" cy="151"/><circle r="1.964" cx="819" cy="163"/><circle r="1.964" cx="824" cy="150"/><circle r="1.964" cx="835" cy="172"/><circle r="1.964" cx="827" cy="162"/><circle r="1.964" cx="789" cy="169"/>
<circle r="1.964" cx="834" cy="162"/><circle r="1.964" cx="829" cy="158"/><circle r="1.964" cx="844" cy="159"/><circle r="1.964" cx="790" cy="176"/><circle r="1.964" cx="785" cy="165"/><circle r="1.964" cx="839" cy="181"/>
<circle r="1.964" cx="810" cy="155"/><circle r="1.964" cx="795" cy="170"/><circle r="1.964" cx="784" cy="163"/><circle r="1.964" cx="840" cy="150"/><circle r="1.964" cx="776" cy="170"/><circle r="1.964" cx="848" cy="163"/>
<circle r="1.964" cx="808" cy="165"/><circle r="1.964" cx="826" cy="165"/><circle r="1.964" cx="782" cy="172"/><circle r="1.964" cx="816" cy="164"/><circle r="1.964" cx="828" cy="172"/><circle r="1.964" cx="781" cy="171"/>
<circle r="1.964" cx="803" cy="172"/><circle r="1.964" cx="825" cy="164"/><circle r="1.964" cx="775" cy="171"/><circle r="1.964" cx="849" cy="170"/><circle r="1.964" cx="821" cy="167"/><circle r="1.964" cx="788" cy="155"/>
<circle r="1.964" cx="815" cy="154"/><circle r="1.964" cx="823" cy="166"/><circle r="1.964" cx="783" cy="171"/><circle r="1.964" cx="794" cy="170"/><circle r="1.964" cx="818" cy="167"/><circle r="1.964" cx="810" cy="158"/>
<circle r="1.964" cx="776" cy="165"/><circle r="1.964" cx="812" cy="167"/><circle r="1.964" cx="818" cy="173"/><circle r="1.964" cx="799" cy="156"/><circle r="1.964" cx="833" cy="158"/><circle r="1.964" cx="845" cy="167"/>
<circle r="1.964" cx="837" cy="173"/><circle r="1.964" cx="805" cy="172"/><circle r="1.964" cx="805" cy="159"/><circle r="1.964" cx="824" cy="161"/><circle r="1.964" cx="804" cy="163"/><circle r="1.964" cx="843" cy="180"/>
<circle r="1.964" cx="812" cy="150"/><circle r="1.964" cx="797" cy="169"/><circle r="1.964" cx="812" cy="153"/><circle r="1.964" cx="784" cy="160"/><circle r="1.964" cx="812" cy="160"/><circle r="1.964" cx="833" cy="172"/>
<circle r="1.964" cx="827" cy="163"/><circle r="1.964" cx="784" cy="168"/><circle r="1.964" cx="816" cy="153"/><circle r="1.964" cx="856" cy="158"/><circle r="1.964" cx="858" cy="166"/><circle r="1.964" cx="799" cy="156"/>
<circle r="1.964" cx="839" cy="165"/><circle r="1.964" cx="830" cy="156"/><circle r="1.964" cx="827" cy="164"/><circle r="1.964" cx="801" cy="163"/><circle r="1.964" cx="807" cy="175"/><circle r="1.964" cx="841" cy="159"/>
<circle r="1.964" cx="788" cy="171"/><circle r="1.964" cx="777" cy="174"/><circle r="1.964" cx="856" cy="163"/><circle r="1.964" cx="809" cy="170"/><circle r="1.964" cx="838" cy="166"/><circle r="1.964" cx="820" cy="173"/>
<circle r="1.964" cx="805" cy="165"/><circle r="1.964" cx="821" cy="155"/><circle r="1.964" cx="831" cy="162"/><circle r="1.964" cx="794" cy="176"/><circle r="1.964" cx="802" cy="155"/><circle r="1.964" cx="791" cy="166"/>
<circle r="1.964" cx="838" cy="168"/><circle r="1.964" cx="768" cy="180"/><circle r="1.964" cx="839" cy="160"/><circle r="1.964" cx="793" cy="167"/><circle r="1.964" cx="823" cy="171"/><circle r="1.964" cx="834" cy="164"/>
<circle r="1.964" cx="812" cy="153"/><circle r="1.964" cx="851" cy="165"/><circle r="1.964" cx="813" cy="159"/><circle r="1.964" cx="843" cy="175"/><circle r="1.964" cx="820" cy="167"/><circle r="1.964" cx="831" cy="161"/>
<circle r="1.964" cx="811" cy="153"/><circle r="1.964" cx="853" cy="162"/><circle r="1.964" cx="778" cy="161"/><circle r="1.964" cx="860" cy="156"/><circle r="1.964" cx="787" cy="165"/><circle r="1.964" cx="816" cy="167"/>
<circle r="1.964" cx="811" cy="164"/><circle r="1.964" cx="800" cy="171"/><circle r="1.964" cx="822" cy="177"/><circle r="1.964" cx="826" cy="178"/><circle r="1.964" cx="865" cy="158"/><circle r="1.964" cx="788" cy="163"/>
<circle r="1.964" cx="855" cy="159"/><circle r="1.964" cx="840" cy="153"/><circle r="1.964" cx="844" cy="160"/><circle r="1.964" cx="828" cy="172"/><circle r="1.964" cx="779" cy="163"/><circle r="1.964" cx="798" cy="164"/>
<circle r="1.964" cx="819" cy="154"/><circle r="1.964" cx="837" cy="163"/><circle r="1.964" cx="817" cy="157"/><circle r="1.964" cx="806" cy="169"/><circle r="1.964" cx="851" cy="160"/><circle r="1.964" cx="810" cy="164"/>
<circle r="1.964" cx="842" cy="157"/><circle r="1.964" cx="834" cy="170"/><circle r="1.964" cx="826" cy="151"/><circle r="1.964" cx="824" cy="157"/><circle r="1.964" cx="841" cy="169"/><circle r="1.964" cx="804" cy="173"/>
<circle r="1.964" cx="824" cy="161"/><circle r="1.964" cx="802" cy="157"/><circle r="1.964" cx="776" cy="175"/><circle r="1.964" cx="814" cy="168"/><circle r="1.964" cx="821" cy="161"/><circle r="1.964" cx="812" cy="167"/>
<circle r="1.964" cx="811" cy="152"/><circle r="1.964" cx="793" cy="169"/><circle r="1.964" cx="840" cy="156"/><circle r="1.964" cx="777" cy="164"/><circle r="1.964" cx="798" cy="158"/><circle r="1.964" cx="819" cy="170"/>
<circle r="1.964" cx="859" cy="161"/><circle r="1.964" cx="827" cy="158"/><circle r="1.964" cx="813" cy="169"/><circle r="1.964" cx="807" cy="162"/><circle r="1.964" cx="829" cy="168"/><circle r="1.964" cx="834" cy="157"/>
<circle r="1.964" cx="855" cy="165"/><circle r="1.964" cx="817" cy="172"/><circle r="1.964" cx="823" cy="168"/><circle r="1.964" cx="814" cy="166"/><circle r="1.964" cx="808" cy="151"/><circle r="1.964" cx="797" cy="172"/>
<circle r="1.964" cx="808" cy="163"/><circle r="1.964" cx="794" cy="169"/><circle r="1.964" cx="794" cy="162"/><circle r="1.964" cx="812" cy="168"/><circle r="1.964" cx="832" cy="166"/><circle r="1.964" cx="768" cy="181"/>
<circle r="1.964" cx="818" cy="156"/><circle r="1.964" cx="772" cy="179"/><circle r="1.964" cx="809" cy="159"/><circle r="1.964" cx="816" cy="175"/><circle r="1.964" cx="815" cy="166"/><circle r="1.964" cx="799" cy="160"/>
<circle r="1.964" cx="841" cy="164"/><circle r="1.964" cx="830" cy="166"/><circle r="1.964" cx="807" cy="153"/><circle r="1.964" cx="800" cy="152"/><circle r="1.964" cx="820" cy="162"/><circle r="1.964" cx="805" cy="164"/>
<circle r="1.964" cx="791" cy="166"/><circle r="1.964" cx="772" cy="173"/><circle r="1.964" cx="832" cy="179"/><circle r="1.964" cx="814" cy="161"/><circle r="1.964" cx="805" cy="167"/><circle r="1.964" cx="833" cy="166"/>
<circle r="1.964" cx="831" cy="151"/><circle r="1.964" cx="829" cy="152"/><circle r="1.964" cx="826" cy="162"/><circle r="1.964" cx="808" cy="158"/><circle r="1.964" cx="770" cy="178"/><circle r="1.964" cx="830" cy="173"/>
<circle r="1.964" cx="820" cy="158"/><circle r="1.964" cx="836" cy="155"/><circle r="1.964" cx="819" cy="159"/><circle r="1.964" cx="829" cy="159"/><circle r="1.964" cx="781" cy="161"/><circle r="1.964" cx="787" cy="170"/>
<circle r="1.964" cx="833" cy="161"/><circle r="1.964" cx="776" cy="174"/><circle r="1.964" cx="842" cy="151"/><circle r="1.964" cx="815" cy="158"/><circle r="1.964" cx="795" cy="172"/><circle r="1.964" cx="805" cy="166"/>
<circle r="1.964" cx="818" cy="164"/><circle r="1.964" cx="796" cy="162"/><circle r="1.964" cx="818" cy="171"/><circle r="1.964" cx="807" cy="156"/><circle r="1.964" cx="796" cy="166"/><circle r="1.964" cx="804" cy="158"/>
<circle r="1.964" cx="813" cy="157"/><circle r="1.964" cx="798" cy="169"/><circle r="1.964" cx="821" cy="166"/><circle r="1.964" cx="855" cy="165"/><circle r="1.964" cx="833" cy="159"/><circle r="1.964" cx="822" cy="147"/>
<circle r="1.964" cx="803" cy="170"/><circle r="1.964" cx="805" cy="163"/><circle r="1.964" cx="786" cy="165"/><circle r="1.964" cx="804" cy="166"/><circle r="1.964" cx="790" cy="158"/><circle r="1.964" cx="821" cy="155"/>
<circle r="1.964" cx="829" cy="161"/><circle r="1.964" cx="810" cy="150"/><circle r="1.964" cx="849" cy="157"/><circle r="1.964" cx="778" cy="174"/><circle r="1.964" cx="838" cy="177"/><circle r="1.964" cx="777" cy="169"/>
<circle r="1.964" cx="839" cy="153"/><circle r="1.964" cx="835" cy="156"/><circle r="1.964" cx="826" cy="158"/><circle r="1.964" cx="813" cy="165"/><circle r="1.964" cx="858" cy="164"/><circle r="1.964" cx="825" cy="152"/>
<circle r="1.964" cx="858" cy="164"/><circle r="1.964" cx="799" cy="168"/><circle r="1.964" cx="793" cy="153"/><circle r="1.964" cx="826" cy="152"/><circle r="1.964" cx="843" cy="170"/><circle r="1.964" cx="801" cy="172"/>
<circle r="1.964" cx="833" cy="162"/><circle r="1.964" cx="821" cy="161"/><circle r="1.964" cx="777" cy="175"/><circle r="1.964" cx="779" cy="159"/><circle r="1.964" cx="822" cy="159"/><circle r="1.964" cx="834" cy="181"/>
<circle r="1.964" cx="830" cy="166"/><circle r="1.964" cx="795" cy="173"/><circle r="1.964" cx="810" cy="174"/><circle r="1.964" cx="814" cy="155"/><circle r="1.964" cx="814" cy="155"/><circle r="1.964" cx="773" cy="175"/>
<circle r="1.964" cx="824" cy="167"/><circle r="1.964" cx="826" cy="157"/><circle r="1.964" cx="829" cy="152"/><circle r="1.964" cx="831" cy="175"/><circle r="1.964" cx="814" cy="167"/><circle r="1.964" cx="836" cy="161"/>
<circle r="1.964" cx="814" cy="175"/><circle r="1.964" cx="828" cy="165"/><circle r="1.964" cx="820" cy="153"/><circle r="1.964" cx="823" cy="155"/><circle r="1.964" cx="806" cy="167"/><circle r="1.964" cx="841" cy="158"/>
<circle r="1.964" cx="841" cy="152"/><circle r="1.964" cx="826" cy="162"/><circle r="1.964" cx="789" cy="171"/><circle r="1.964" cx="801" cy="155"/><circle r="1.964" cx="841" cy="173"/><circle r="1.964" cx="826" cy="165"/>
<circle r="1.964" cx="832" cy="161"/><circle r="1.964" cx="823" cy="151"/><circle r="1.964" cx="777" cy="165"/><circle r="1.964" cx="788" cy="164"/><circle r="1.964" cx="845" cy="170"/><circle r="1.964" cx="816" cy="156"/>
<circle r="1.964" cx="836" cy="162"/><circle r="1.964" cx="784" cy="171"/><circle r="1.964" cx="827" cy="156"/><circle r="1.964" cx="820" cy="177"/><circle r="1.964" cx="818" cy="158"/><circle r="1.964" cx="796" cy="159"/>
<circle r="1.964" cx="836" cy="174"/><circle r="1.964" cx="827" cy="148"/><circle r="1.964" cx="834" cy="160"/><circle r="1.964" cx="805" cy="171"/><circle r="1.964" cx="804" cy="173"/><circle r="1.964" cx="799" cy="165"/>
<circle r="1.964" cx="824" cy="161"/><circle r="1.964" cx="820" cy="175"/><circle r="1.964" cx="834" cy="149"/><circle r="1.964" cx="806" cy="166"/><circle r="1.964" cx="794" cy="156"/><circle r="1.964" cx="818" cy="166"/>
<circle r="1.964" cx="816" cy="147"/><circle r="1.964" cx="801" cy="165"/><circle r="1.964" cx="804" cy="151"/><circle r="1.964" cx="814" cy="169"/><circle r="1.964" cx="818" cy="171"/><circle r="1.964" cx="832" cy="170"/>
<circle r="1.964" cx="851" cy="157"/><circle r="1.964" cx="792" cy="152"/><circle r="1.964" cx="839" cy="169"/><circle r="1.964" cx="836" cy="156"/><circle r="1.964" cx="827" cy="161"/><circle r="1.964" cx="842" cy="164"/>
<circle r="1.964" cx="827" cy="151"/><circle r="1.964" cx="823" cy="161"/><circle r="1.964" cx="825" cy="169"/><circle r="1.964" cx="839" cy="155"/><circle r="1.964" cx="789" cy="165"/><circle r="1.964" cx="791" cy="174"/>
<circle r="1.964" cx="853" cy="159"/><circle r="1.964" cx="773" cy="175"/><circle r="1.964" cx="780" cy="167"/><circle r="1.964" cx="806" cy="162"/><circle r="1.964" cx="803" cy="164"/><circle r="1.964" cx="819" cy="168"/>
<circle r="1.964" cx="800" cy="154"/><circle r="1.964" cx="793" cy="160"/><circle r="1.964" cx="836" cy="153"/><circle r="1.964" cx="851" cy="171"/><circle r="1.964" cx="830" cy="168"/><circle r="1.964" cx="832" cy="160"/>
<circle r="1.964" cx="833" cy="170"/><circle r="1.964" cx="861" cy="163"/><circle r="1.964" cx="820" cy="162"/><circle r="1.964" cx="862" cy="161"/><circle r="1.964" cx="819" cy="157"/><circle r="1.964" cx="828" cy="163"/>
<circle r="1.964" cx="809" cy="167"/><circle r="1.964" cx="827" cy="148"/><circle r="1.964" cx="789" cy="167"/><circle r="1.964" cx="815" cy="169"/><circle r="1.964" cx="843" cy="156"/><circle r="1.964" cx="810" cy="171"/>
<circle r="1.964" cx="826" cy="150"/><circle r="1.964" cx="792" cy="174"/><circle r="1.964" cx="808" cy="157"/><circle r="1.964" cx="800" cy="170"/><circle r="1.964" cx="822" cy="159"/><circle r="1.964" cx="827" cy="159"/>
<circle r="1.964" cx="827" cy="163"/><circle r="1.964" cx="816" cy="161"/><circle r="1.964" cx="782" cy="178"/><circle r="1.964" cx="785" cy="156"/><circle r="1.964" cx="837" cy="161"/><circle r="1.964" cx="822" cy="166"/>
<circle r="1.964" cx="817" cy="168"/><circle r="1.964" cx="840" cy="166"/><circle r="1.964" cx="816" cy="165"/><circle r="1.964" cx="841" cy="167"/><circle r="1.964" cx="811" cy="176"/><circle r="1.964" cx="794" cy="165"/>
<circle r="1.964" cx="803" cy="173"/><circle r="1.964" cx="842" cy="155"/><circle r="1.964" cx="805" cy="164"/><circle r="1.964" cx="779" cy="168"/><circle r="1.964" cx="839" cy="172"/><circle r="1.964" cx="845" cy="176"/>
<circle r="1.964" cx="841" cy="166"/><circle r="1.964" cx="795" cy="157"/><circle r="1.964" cx="837" cy="169"/><circle r="1.964" cx="847" cy="181"/><circle r="1.964" cx="806" cy="168"/><circle r="1.964" cx="801" cy="170"/>
<circle r="1.964" cx="816" cy="164"/><circle r="1.964" cx="827" cy="171"/><circle r="1.964" cx="814" cy="155"/><circle r="1.964" cx="825" cy="172"/><circle r="1.964" cx="838" cy="180"/><circle r="1.964" cx="804" cy="162"/>
<circle r="1.964" cx="794" cy="172"/><circle r="1.964" cx="805" cy="152"/><circle r="1.964" cx="812" cy="168"/><circle r="1.964" cx="802" cy="148"/><circle r="1.964" cx="860" cy="156"/><circle r="1.964" cx="831" cy="164"/>
<circle r="1.964" cx="838" cy="150"/><circle r="1.964" cx="854" cy="167"/><circle r="1.964" cx="838" cy="154"/><circle r="1.964" cx="831" cy="163"/><circle r="1.964" cx="837" cy="157"/><circle r="1.964" cx="809" cy="171"/>
<circle r="1.964" cx="821" cy="166"/><circle r="1.964" cx="834" cy="169"/><circle r="1.964" cx="835" cy="167"/><circle r="1.964" cx="791" cy="163"/><circle r="1.964" cx="805" cy="166"/><circle r="1.964" cx="842" cy="168"/>
<circle r="1.964" cx="843" cy="163"/><circle r="1.964" cx="799" cy="160"/><circle r="1.964" cx="845" cy="154"/><circle r="1.964" cx="819" cy="168"/><circle r="1.964" cx="775" cy="178"/><circle r="1.964" cx="792" cy="150"/>
<circle r="1.964" cx="814" cy="166"/><circle r="1.964" cx="813" cy="160"/><circle r="1.964" cx="822" cy="163"/><circle r="1.964" cx="819" cy="158"/><circle r="1.964" cx="787" cy="161"/><circle r="1.964" cx="802" cy="170"/>
<circle r="1.964" cx="813" cy="176"/><circle r="1.964" cx="829" cy="163"/><circle r="1.964" cx="823" cy="167"/><circle r="1.964" cx="842" cy="151"/><circle r="1.964" cx="807" cy="169"/><circle r="1.964" cx="807" cy="175"/>
<circle r="1.964" cx="831" cy="162"/><circle r="1.964" cx="798" cy="168"/><circle r="1.964" cx="812" cy="161"/><circle r="1.964" cx="831" cy="160"/><circle r="1.964" cx="814" cy="162"/><circle r="1.964" cx="799" cy="157"/>
<circle r="1.964" cx="846" cy="170"/><circle r="1.964" cx="800" cy="154"/><circle r="1.964" cx="835" cy="177"/><circle r="1.964" cx="838" cy="157"/><circle r="1.964" cx="833" cy="155"/><circle r="1.964" cx="854" cy="171"/>
<circle r="1.964" cx="807" cy="170"/><circle r="1.964" cx="853" cy="167"/><circle r="1.964" cx="835" cy="159"/><circle r="1.964" cx="793" cy="159"/><circle r="1.964" cx="816" cy="176"/><circle r="1.964" cx="788" cy="163"/>
<circle r="1.964" cx="842" cy="158"/><circle r="1.964" cx="801" cy="155"/><circle r="1.964" cx="811" cy="159"/><circle r="1.964" cx="837" cy="149"/><circle r="1.964" cx="855" cy="155"/><circle r="1.964" cx="833" cy="153"/>
<circle r="1.964" cx="825" cy="170"/><circle r="1.964" cx="821" cy="169"/><circle r="1.964" cx="802" cy="167"/><circle r="1.964" cx="838" cy="169"/><circle r="1.964" cx="843" cy="160"/><circle r="1.964" cx="819" cy="167"/>
<circle r="1.964" cx="837" cy="161"/><circle r="1.964" cx="828" cy="154"/><circle r="1.964" cx="850" cy="170"/><circle r="1.964" cx="797" cy="170"/><circle r="1.964" cx="851" cy="160"/><circle r="1.964" cx="801" cy="159"/>
<circle r="1.964" cx="808" cy="148"/><circle r="1.964" cx="838" cy="167"/><circle r="1.964" cx="806" cy="159"/><circle r="1.964" cx="835" cy="152"/><circle r="1.964" cx="810" cy="162"/><circle r="1.964" cx="843" cy="167"/>
<circle r="1.964" cx="789" cy="172"/><circle r="1.964" cx="808" cy="173"/><circle r="1.964" cx="822" cy="160"/><circle r="1.964" cx="850" cy="155"/><circle r="1.964" cx="801" cy="156"/><circle r="1.964" cx="789" cy="167"/>
<circle r="1.964" cx="826" cy="166"/><circle r="1.964" cx="803" cy="172"/><circle r="1.964" cx="827" cy="162"/><circle r="1.964" cx="847" cy="153"/><circle r="1.964" cx="820" cy="165"/><circle r="1.964" cx="791" cy="171"/>
<circle r="1.964" cx="837" cy="173"/><circle r="1.964" cx="824" cy="162"/><circle r="1.964" cx="823" cy="162"/><circle r="1.964" cx="832" cy="172"/><circle r="1.964" cx="801" cy="148"/><circle r="1.964" cx="828" cy="161"/>
<circle r="1.964" cx="848" cy="167"/><circle r="1.964" cx="829" cy="149"/><circle r="1.964" cx="839" cy="150"/><circle r="1.964" cx="843" cy="173"/><circle r="1.964" cx="802" cy="163"/><circle r="1.964" cx="839" cy="159"/>
<circle r="1.964" cx="801" cy="152"/><circle r="1.964" cx="819" cy="171"/><circle r="1.964" cx="843" cy="153"/><circle r="1.964" cx="809" cy="164"/><circle r="1.964" cx="816" cy="153"/><circle r="1.964" cx="847" cy="176"/>
<circle r="1.964" cx="836" cy="169"/><circle r="1.964" cx="833" cy="155"/><circle r="1.964" cx="826" cy="172"/><circle r="1.964" cx="816" cy="153"/><circle r="1.964" cx="833" cy="171"/><circle r="1.964" cx="823" cy="162"/>
<circle r="1.964" cx="815" cy="175"/><circle r="1.964" cx="848" cy="165"/><circle r="1.964" cx="790" cy="173"/><circle r="1.964" cx="800" cy="162"/><circle r="1.964" cx="815" cy="162"/><circle r="1.964" cx="778" cy="156"/>
<circle r="1.964" cx="807" cy="164"/><circle r="1.964" cx="852" cy="156"/><circle r="1.964" cx="796" cy="175"/><circle r="1.964" cx="778" cy="168"/><circle r="1.964" cx="819" cy="174"/><circle r="1.964" cx="836" cy="163"/>
<circle r="1.964" cx="830" cy="166"/><circle r="1.964" cx="807" cy="171"/><circle r="1.964" cx="854" cy="159"/><circle r="1.964" cx="782" cy="155"/><circle r="1.964" cx="807" cy="154"/><circle r="1.964" cx="846" cy="180"/>
<circle r="1.964" cx="805" cy="162"/><circle r="1.964" cx="839" cy="172"/><circle r="1.964" cx="773" cy="170"/><circle r="1.964" cx="811" cy="156"/><circle r="1.964" cx="850" cy="154"/><circle r="1.964" cx="801" cy="170"/>
<circle r="1.964" cx="831" cy="156"/><circle r="1.964" cx="801" cy="171"/><circle r="1.964" cx="801" cy="151"/><circle r="1.964" cx="855" cy="167"/><circle r="1.964" cx="834" cy="158"/><circle r="1.964" cx="854" cy="172"/>
<circle r="1.964" cx="804" cy="159"/><circle r="1.964" cx="835" cy="177"/><circle r="1.964" cx="797" cy="157"/><circle r="1.964" cx="836" cy="171"/><circle r="1.964" cx="806" cy="163"/><circle r="1.964" cx="820" cy="151"/>
<circle r="1.964" cx="838" cy="157"/><circle r="1.964" cx="813" cy="167"/><circle r="1.964" cx="791" cy="158"/><circle r="1.964" cx="835" cy="163"/><circle r="1.964" cx="831" cy="175"/><circle r="1.964" cx="804" cy="159"/>
<circle r="1.964" cx="771" cy="176"/><circle r="1.964" cx="781" cy="177"/><circle r="1.964" cx="816" cy="163"/><circle r="1.964" cx="780" cy="165"/><circle r="1.964" cx="776" cy="166"/><circle r="1.964" cx="827" cy="163"/>
<circle r="1.964" cx="855" cy="167"/><circle r="1.964" cx="843" cy="152"/><circle r="1.964" cx="792" cy="169"/><circle r="1.964" cx="795" cy="172"/><circle r="1.964" cx="811" cy="171"/><circle r="1.964" cx="851" cy="155"/>
<circle r="1.964" cx="826" cy="172"/><circle r="1.964" cx="806" cy="175"/><circle r="1.964" cx="946" cy="382"/><circle r="1.964" cx="933" cy="367"/><circle r="1.964" cx="905" cy="345"/><circle r="1.964" cx="941" cy="390"/>
<circle r="1.964" cx="926" cy="384"/><circle r="1.964" cx="924" cy="339"/><circle r="1.964" cx="918" cy="356"/><circle r="1.964" cx="916" cy="336"/><circle r="1.964" cx="918" cy="332"/><circle r="1.964" cx="926" cy="357"/>
<circle r="1.964" cx="937" cy="383"/><circle r="1.964" cx="934" cy="374"/><circle r="1.964" cx="925" cy="368"/><circle r="1.964" cx="921" cy="339"/><circle r="1.964" cx="930" cy="377"/><circle r="1.964" cx="936" cy="395"/>
<circle r="1.964" cx="910" cy="317"/><circle r="1.964" cx="936" cy="361"/><circle r="1.964" cx="946" cy="392"/><circle r="1.964" cx="934" cy="380"/><circle r="1.964" cx="956" cy="385"/><circle r="1.964" cx="947" cy="372"/>
<circle r="1.964" cx="926" cy="342"/><circle r="1.964" cx="933" cy="363"/><circle r="1.964" cx="938" cy="398"/><circle r="1.964" cx="935" cy="370"/><circle r="1.964" cx="913" cy="334"/><circle r="1.964" cx="945" cy="401"/>
<circle r="1.964" cx="940" cy="377"/><circle r="1.964" cx="936" cy="384"/><circle r="1.964" cx="929" cy="352"/><circle r="1.964" cx="916" cy="348"/><circle r="1.964" cx="936" cy="370"/><circle r="1.964" cx="924" cy="382"/>
<circle r="1.964" cx="925" cy="365"/><circle r="1.964" cx="930" cy="366"/><circle r="1.964" cx="952" cy="376"/><circle r="1.964" cx="921" cy="377"/><circle r="1.964" cx="942" cy="365"/><circle r="1.964" cx="917" cy="365"/>
<circle r="1.964" cx="937" cy="393"/><circle r="1.964" cx="925" cy="355"/><circle r="1.964" cx="924" cy="352"/><circle r="1.964" cx="934" cy="363"/><circle r="1.964" cx="927" cy="371"/><circle r="1.964" cx="921" cy="380"/>
<circle r="1.964" cx="916" cy="369"/><circle r="1.964" cx="924" cy="358"/><circle r="1.964" cx="903" cy="321"/><circle r="1.964" cx="921" cy="382"/><circle r="1.964" cx="930" cy="342"/><circle r="1.964" cx="929" cy="362"/>
<circle r="1.964" cx="965" cy="394"/><circle r="1.964" cx="933" cy="372"/><circle r="1.964" cx="924" cy="345"/><circle r="1.964" cx="931" cy="384"/><circle r="1.964" cx="922" cy="359"/><circle r="1.964" cx="931" cy="354"/>
<circle r="1.964" cx="946" cy="383"/><circle r="1.964" cx="919" cy="338"/><circle r="1.964" cx="938" cy="377"/><circle r="1.964" cx="944" cy="399"/><circle r="1.964" cx="930" cy="360"/><circle r="1.964" cx="967" cy="403"/>
<circle r="1.964" cx="933" cy="349"/><circle r="1.964" cx="923" cy="363"/><circle r="1.964" cx="939" cy="366"/><circle r="1.964" cx="928" cy="364"/><circle r="1.964" cx="927" cy="352"/><circle r="1.964" cx="928" cy="362"/>
<circle r="1.964" cx="952" cy="390"/><circle r="1.964" cx="942" cy="389"/><circle r="1.964" cx="925" cy="346"/><circle r="1.964" cx="934" cy="342"/><circle r="1.964" cx="930" cy="377"/><circle r="1.964" cx="929" cy="377"/>
<circle r="1.964" cx="927" cy="346"/><circle r="1.964" cx="929" cy="377"/><circle r="1.964" cx="936" cy="369"/><circle r="1.964" cx="930" cy="368"/><circle r="1.964" cx="941" cy="397"/><circle r="1.964" cx="924" cy="347"/>
<circle r="1.964" cx="910" cy="320"/><circle r="1.964" cx="953" cy="377"/><circle r="1.964" cx="922" cy="338"/><circle r="1.964" cx="917" cy="331"/><circle r="1.964" cx="912" cy="344"/><circle r="1.964" cx="922" cy="372"/>
<circle r="1.964" cx="946" cy="372"/><circle r="1.964" cx="921" cy="342"/><circle r="1.964" cx="907" cy="332"/><circle r="1.964" cx="933" cy="358"/><circle r="1.964" cx="951" cy="374"/><circle r="1.964" cx="942" cy="369"/>
<circle r="1.964" cx="956" cy="405"/><circle r="1.964" cx="904" cy="318"/><circle r="1.964" cx="922" cy="381"/><circle r="1.964" cx="917" cy="381"/><circle r="1.964" cx="915" cy="350"/><circle r="1.964" cx="919" cy="338"/>
<circle r="1.964" cx="923" cy="378"/><circle r="1.964" cx="938" cy="358"/><circle r="1.964" cx="921" cy="350"/><circle r="1.964" cx="909" cy="352"/><circle r="1.964" cx="916" cy="368"/><circle r="1.964" cx="940" cy="364"/>
<circle r="1.964" cx="952" cy="399"/><circle r="1.964" cx="911" cy="324"/><circle r="1.964" cx="930" cy="383"/><circle r="1.964" cx="936" cy="383"/><circle r="1.964" cx="930" cy="348"/><circle r="1.964" cx="931" cy="400"/>
<circle r="1.964" cx="928" cy="380"/><circle r="1.964" cx="906" cy="349"/><circle r="1.964" cx="921" cy="347"/><circle r="1.964" cx="916" cy="335"/><circle r="1.964" cx="925" cy="394"/><circle r="1.964" cx="920" cy="350"/>
<circle r="1.964" cx="921" cy="332"/><circle r="1.964" cx="921" cy="379"/><circle r="1.964" cx="928" cy="366"/><circle r="1.964" cx="916" cy="353"/><circle r="1.964" cx="927" cy="369"/><circle r="1.964" cx="959" cy="382"/>
<circle r="1.964" cx="923" cy="365"/><circle r="1.964" cx="943" cy="366"/><circle r="1.964" cx="933" cy="373"/><circle r="1.964" cx="921" cy="352"/><circle r="1.964" cx="923" cy="370"/><circle r="1.964" cx="933" cy="359"/>
<circle r="1.964" cx="940" cy="371"/><circle r="1.964" cx="922" cy="360"/><circle r="1.964" cx="955" cy="379"/><circle r="1.964" cx="928" cy="389"/><circle r="1.964" cx="902" cy="321"/><circle r="1.964" cx="937" cy="362"/>
<circle r="1.964" cx="927" cy="368"/><circle r="1.964" cx="921" cy="337"/><circle r="1.964" cx="941" cy="377"/><circle r="1.964" cx="927" cy="360"/><circle r="1.964" cx="921" cy="352"/><circle r="1.964" cx="908" cy="319"/>
<circle r="1.964" cx="913" cy="328"/><circle r="1.964" cx="939" cy="369"/><circle r="1.964" cx="931" cy="356"/><circle r="1.964" cx="952" cy="396"/><circle r="1.964" cx="924" cy="371"/><circle r="1.964" cx="945" cy="395"/>
<circle r="1.964" cx="929" cy="350"/><circle r="1.964" cx="927" cy="389"/><circle r="1.964" cx="930" cy="375"/><circle r="1.964" cx="916" cy="333"/><circle r="1.964" cx="937" cy="358"/><circle r="1.964" cx="949" cy="369"/>
<circle r="1.964" cx="920" cy="343"/><circle r="1.964" cx="934" cy="397"/><circle r="1.964" cx="922" cy="356"/><circle r="1.964" cx="920" cy="390"/><circle r="1.964" cx="922" cy="360"/><circle r="1.964" cx="939" cy="382"/>
<circle r="1.964" cx="931" cy="381"/><circle r="1.964" cx="928" cy="360"/><circle r="1.964" cx="934" cy="385"/><circle r="1.964" cx="942" cy="358"/><circle r="1.964" cx="947" cy="404"/><circle r="1.964" cx="937" cy="400"/>
<circle r="1.964" cx="919" cy="346"/><circle r="1.964" cx="939" cy="371"/><circle r="1.964" cx="921" cy="381"/><circle r="1.964" cx="932" cy="350"/><circle r="1.964" cx="926" cy="388"/><circle r="1.964" cx="921" cy="369"/>
<circle r="1.964" cx="920" cy="346"/><circle r="1.964" cx="927" cy="345"/><circle r="1.964" cx="926" cy="348"/><circle r="1.964" cx="929" cy="387"/><circle r="1.964" cx="927" cy="345"/><circle r="1.964" cx="930" cy="390"/>
<circle r="1.964" cx="902" cy="329"/><circle r="1.964" cx="924" cy="350"/><circle r="1.964" cx="952" cy="394"/><circle r="1.964" cx="933" cy="374"/><circle r="1.964" cx="928" cy="345"/><circle r="1.964" cx="926" cy="365"/>
<circle r="1.964" cx="945" cy="366"/><circle r="1.964" cx="944" cy="385"/><circle r="1.964" cx="914" cy="343"/><circle r="1.964" cx="912" cy="359"/><circle r="1.964" cx="943" cy="363"/><circle r="1.964" cx="927" cy="376"/>
<circle r="1.964" cx="932" cy="361"/><circle r="1.964" cx="924" cy="329"/><circle r="1.964" cx="906" cy="331"/><circle r="1.964" cx="939" cy="397"/><circle r="1.964" cx="928" cy="354"/><circle r="1.964" cx="946" cy="369"/>
<circle r="1.964" cx="922" cy="367"/><circle r="1.964" cx="927" cy="376"/><circle r="1.964" cx="937" cy="401"/><circle r="1.964" cx="946" cy="386"/><circle r="1.964" cx="947" cy="379"/><circle r="1.964" cx="925" cy="373"/>
<circle r="1.964" cx="908" cy="337"/><circle r="1.964" cx="928" cy="355"/><circle r="1.964" cx="962" cy="388"/><circle r="1.964" cx="931" cy="359"/><circle r="1.964" cx="911" cy="357"/><circle r="1.964" cx="927" cy="359"/>
<circle r="1.964" cx="907" cy="334"/><circle r="1.964" cx="928" cy="371"/><circle r="1.964" cx="923" cy="344"/><circle r="1.964" cx="921" cy="334"/><circle r="1.964" cx="948" cy="384"/><circle r="1.964" cx="953" cy="386"/>
<circle r="1.964" cx="917" cy="364"/><circle r="1.964" cx="914" cy="340"/><circle r="1.964" cx="949" cy="390"/><circle r="1.964" cx="918" cy="377"/><circle r="1.964" cx="917" cy="325"/><circle r="1.964" cx="903" cy="340"/>
<circle r="1.964" cx="923" cy="329"/><circle r="1.964" cx="932" cy="399"/><circle r="1.964" cx="962" cy="399"/><circle r="1.964" cx="947" cy="379"/><circle r="1.964" cx="913" cy="360"/><circle r="1.964" cx="934" cy="371"/>
<circle r="1.964" cx="950" cy="385"/><circle r="1.964" cx="956" cy="385"/><circle r="1.964" cx="943" cy="365"/><circle r="1.964" cx="926" cy="350"/><circle r="1.964" cx="932" cy="380"/><circle r="1.964" cx="911" cy="330"/>
<circle r="1.964" cx="909" cy="359"/><circle r="1.964" cx="914" cy="341"/><circle r="1.964" cx="935" cy="387"/><circle r="1.964" cx="928" cy="374"/><circle r="1.964" cx="931" cy="360"/><circle r="1.964" cx="919" cy="363"/>
<circle r="1.964" cx="916" cy="344"/><circle r="1.964" cx="928" cy="383"/><circle r="1.964" cx="930" cy="351"/><circle r="1.964" cx="912" cy="335"/><circle r="1.964" cx="915" cy="349"/><circle r="1.964" cx="923" cy="363"/>
<circle r="1.964" cx="911" cy="362"/><circle r="1.964" cx="920" cy="352"/><circle r="1.964" cx="927" cy="363"/><circle r="1.964" cx="957" cy="395"/><circle r="1.964" cx="922" cy="376"/><circle r="1.964" cx="923" cy="381"/>
<circle r="1.964" cx="917" cy="334"/><circle r="1.964" cx="920" cy="373"/><circle r="1.964" cx="925" cy="351"/><circle r="1.964" cx="916" cy="334"/><circle r="1.964" cx="938" cy="372"/><circle r="1.964" cx="942" cy="359"/>
<circle r="1.964" cx="932" cy="366"/><circle r="1.964" cx="937" cy="388"/><circle r="1.964" cx="945" cy="370"/><circle r="1.964" cx="910" cy="320"/><circle r="1.964" cx="925" cy="361"/><circle r="1.964" cx="931" cy="350"/>
<circle r="1.964" cx="913" cy="358"/><circle r="1.964" cx="934" cy="365"/><circle r="1.964" cx="929" cy="392"/><circle r="1.964" cx="927" cy="387"/><circle r="1.964" cx="914" cy="359"/><circle r="1.964" cx="911" cy="320"/>
<circle r="1.964" cx="929" cy="356"/><circle r="1.964" cx="947" cy="377"/><circle r="1.964" cx="930" cy="385"/><circle r="1.964" cx="913" cy="365"/><circle r="1.964" cx="915" cy="372"/><circle r="1.964" cx="922" cy="349"/>
<circle r="1.964" cx="912" cy="353"/><circle r="1.964" cx="918" cy="376"/><circle r="1.964" cx="923" cy="386"/><circle r="1.964" cx="924" cy="333"/><circle r="1.964" cx="927" cy="351"/><circle r="1.964" cx="912" cy="357"/>
<circle r="1.964" cx="943" cy="379"/><circle r="1.964" cx="922" cy="364"/><circle r="1.964" cx="935" cy="368"/><circle r="1.964" cx="916" cy="346"/><circle r="1.964" cx="917" cy="359"/><circle r="1.964" cx="913" cy="350"/>
<circle r="1.964" cx="925" cy="361"/><circle r="1.964" cx="939" cy="372"/><circle r="1.964" cx="941" cy="401"/><circle r="1.964" cx="968" cy="396"/><circle r="1.964" cx="939" cy="379"/><circle r="1.964" cx="913" cy="337"/>
<circle r="1.964" cx="931" cy="377"/><circle r="1.964" cx="904" cy="343"/><circle r="1.964" cx="924" cy="362"/><circle r="1.964" cx="937" cy="376"/><circle r="1.964" cx="927" cy="364"/><circle r="1.964" cx="930" cy="365"/>
<circle r="1.964" cx="927" cy="356"/><circle r="1.964" cx="928" cy="358"/><circle r="1.964" cx="914" cy="322"/><circle r="1.964" cx="933" cy="353"/><circle r="1.964" cx="925" cy="356"/><circle r="1.964" cx="916" cy="355"/>
<circle r="1.964" cx="926" cy="386"/><circle r="1.964" cx="909" cy="342"/><circle r="1.964" cx="945" cy="389"/><circle r="1.964" cx="916" cy="344"/><circle r="1.964" cx="924" cy="358"/><circle r="1.964" cx="918" cy="332"/>
<circle r="1.964" cx="954" cy="375"/><circle r="1.964" cx="916" cy="375"/><circle r="1.964" cx="933" cy="366"/><circle r="1.964" cx="952" cy="384"/><circle r="1.964" cx="910" cy="349"/><circle r="1.964" cx="914" cy="367"/>
<circle r="1.964" cx="909" cy="341"/><circle r="1.964" cx="943" cy="362"/><circle r="1.964" cx="923" cy="333"/><circle r="1.964" cx="916" cy="335"/><circle r="1.964" cx="953" cy="402"/><circle r="1.964" cx="939" cy="376"/>
<circle r="1.964" cx="945" cy="388"/><circle r="1.964" cx="921" cy="382"/><circle r="1.964" cx="919" cy="344"/><circle r="1.964" cx="935" cy="386"/><circle r="1.964" cx="929" cy="347"/><circle r="1.964" cx="929" cy="395"/>
<circle r="1.964" cx="938" cy="381"/><circle r="1.964" cx="956" cy="393"/><circle r="1.964" cx="923" cy="344"/><circle r="1.964" cx="913" cy="320"/><circle r="1.964" cx="953" cy="373"/><circle r="1.964" cx="949" cy="384"/>
<circle r="1.964" cx="928" cy="367"/><circle r="1.964" cx="921" cy="356"/><circle r="1.964" cx="911" cy="356"/><circle r="1.964" cx="917" cy="354"/><circle r="1.964" cx="939" cy="380"/><circle r="1.964" cx="908" cy="328"/>
<circle r="1.964" cx="919" cy="358"/><circle r="1.964" cx="940" cy="380"/><circle r="1.964" cx="938" cy="365"/><circle r="1.964" cx="915" cy="352"/><circle r="1.964" cx="917" cy="354"/><circle r="1.964" cx="914" cy="376"/>
<circle r="1.964" cx="934" cy="384"/><circle r="1.964" cx="914" cy="325"/><circle r="1.964" cx="923" cy="374"/><circle r="1.964" cx="923" cy="364"/><circle r="1.964" cx="914" cy="336"/><circle r="1.964" cx="913" cy="344"/>
<circle r="1.964" cx="930" cy="384"/><circle r="1.964" cx="945" cy="374"/><circle r="1.964" cx="916" cy="339"/><circle r="1.964" cx="932" cy="359"/><circle r="1.964" cx="906" cy="336"/><circle r="1.964" cx="952" cy="390"/>
<circle r="1.964" cx="926" cy="352"/><circle r="1.964" cx="912" cy="322"/><circle r="1.964" cx="919" cy="366"/><circle r="1.964" cx="928" cy="353"/><circle r="1.964" cx="914" cy="351"/><circle r="1.964" cx="913" cy="332"/>
<circle r="1.964" cx="942" cy="379"/><circle r="1.964" cx="940" cy="362"/><circle r="1.964" cx="944" cy="391"/><circle r="1.964" cx="942" cy="383"/><circle r="1.964" cx="912" cy="351"/><circle r="1.964" cx="929" cy="366"/>
<circle r="1.964" cx="915" cy="345"/><circle r="1.964" cx="933" cy="366"/><circle r="1.964" cx="924" cy="338"/><circle r="1.964" cx="927" cy="380"/><circle r="1.964" cx="936" cy="371"/><circle r="1.964" cx="920" cy="362"/>
<circle r="1.964" cx="942" cy="381"/><circle r="1.964" cx="928" cy="340"/><circle r="1.964" cx="941" cy="367"/><circle r="1.964" cx="937" cy="378"/><circle r="1.964" cx="925" cy="361"/><circle r="1.964" cx="933" cy="367"/>
<circle r="1.964" cx="924" cy="362"/><circle r="1.964" cx="920" cy="352"/><circle r="1.964" cx="923" cy="351"/><circle r="1.964" cx="902" cy="323"/><circle r="1.964" cx="921" cy="369"/><circle r="1.964" cx="922" cy="364"/>
<circle r="1.964" cx="963" cy="400"/><circle r="1.964" cx="929" cy="344"/><circle r="1.964" cx="956" cy="401"/><circle r="1.964" cx="948" cy="391"/><circle r="1.964" cx="941" cy="363"/><circle r="1.964" cx="939" cy="397"/>
<circle r="1.964" cx="942" cy="364"/><circle r="1.964" cx="933" cy="382"/><circle r="1.964" cx="956" cy="387"/><circle r="1.964" cx="920" cy="345"/><circle r="1.964" cx="948" cy="375"/><circle r="1.964" cx="936" cy="361"/>
<circle r="1.964" cx="943" cy="395"/><circle r="1.964" cx="933" cy="355"/><circle r="1.964" cx="927" cy="337"/><circle r="1.964" cx="930" cy="360"/><circle r="1.964" cx="921" cy="374"/><circle r="1.964" cx="936" cy="370"/>
<circle r="1.964" cx="926" cy="362"/><circle r="1.964" cx="960" cy="384"/><circle r="1.964" cx="918" cy="344"/><circle r="1.964" cx="950" cy="385"/><circle r="1.964" cx="920" cy="366"/><circle r="1.964" cx="929" cy="334"/>
<circle r="1.964" cx="919" cy="373"/><circle r="1.964" cx="942" cy="367"/><circle r="1.964" cx="933" cy="364"/><circle r="1.964" cx="929" cy="342"/><circle r="1.964" cx="916" cy="359"/><circle r="1.964" cx="928" cy="351"/>
<circle r="1.964" cx="903" cy="324"/><circle r="1.964" cx="916" cy="360"/><circle r="1.964" cx="936" cy="395"/><circle r="1.964" cx="929" cy="387"/><circle r="1.964" cx="942" cy="394"/><circle r="1.964" cx="932" cy="358"/>
<circle r="1.964" cx="911" cy="322"/><circle r="1.964" cx="934" cy="355"/><circle r="1.964" cx="930" cy="372"/><circle r="1.964" cx="937" cy="392"/><circle r="1.964" cx="911" cy="333"/><circle r="1.964" cx="905" cy="345"/>
<circle r="1.964" cx="937" cy="358"/><circle r="1.964" cx="928" cy="357"/><circle r="1.964" cx="919" cy="322"/><circle r="1.964" cx="945" cy="376"/><circle r="1.964" cx="913" cy="352"/><circle r="1.964" cx="908" cy="352"/>
<circle r="1.964" cx="919" cy="345"/><circle r="1.964" cx="932" cy="348"/><circle r="1.964" cx="932" cy="359"/><circle r="1.964" cx="965" cy="391"/><circle r="1.964" cx="914" cy="360"/><circle r="1.964" cx="915" cy="373"/>
<circle r="1.964" cx="930" cy="363"/><circle r="1.964" cx="925" cy="327"/><circle r="1.964" cx="927" cy="376"/><circle r="1.964" cx="914" cy="343"/><circle r="1.964" cx="920" cy="357"/><circle r="1.964" cx="922" cy="345"/>
<circle r="1.964" cx="955" cy="395"/><circle r="1.964" cx="920" cy="332"/><circle r="1.964" cx="930" cy="352"/><circle r="1.964" cx="924" cy="372"/><circle r="1.964" cx="914" cy="333"/><circle r="1.964" cx="936" cy="371"/>
<circle r="1.964" cx="917" cy="323"/><circle r="1.964" cx="928" cy="366"/><circle r="1.964" cx="920" cy="334"/><circle r="1.964" cx="942" cy="379"/><circle r="1.964" cx="945" cy="382"/><circle r="1.964" cx="923" cy="368"/>
<circle r="1.964" cx="923" cy="356"/><circle r="1.964" cx="958" cy="389"/><circle r="1.964" cx="924" cy="352"/><circle r="1.964" cx="929" cy="347"/><circle r="1.964" cx="958" cy="395"/><circle r="1.964" cx="934" cy="367"/>
<circle r="1.964" cx="912" cy="333"/><circle r="1.964" cx="937" cy="352"/><circle r="1.964" cx="943" cy="390"/><circle r="1.964" cx="915" cy="367"/><circle r="1.964" cx="968" cy="397"/><circle r="1.964" cx="946" cy="400"/>
<circle r="1.964" cx="946" cy="395"/><circle r="1.964" cx="937" cy="379"/><circle r="1.964" cx="914" cy="329"/><circle r="1.964" cx="922" cy="346"/><circle r="1.964" cx="914" cy="349"/><circle r="1.964" cx="925" cy="347"/>
<circle r="1.964" cx="909" cy="363"/><circle r="1.964" cx="924" cy="353"/><circle r="1.964" cx="913" cy="357"/><circle r="1.964" cx="913" cy="337"/><circle r="1.964" cx="923" cy="368"/><circle r="1.964" cx="934" cy="347"/>
<circle r="1.964" cx="920" cy="364"/><circle r="1.964" cx="914" cy="351"/><circle r="1.964" cx="921" cy="365"/><circle r="1.964" cx="915" cy="373"/><circle r="1.964" cx="938" cy="386"/><circle r="1.964" cx="949" cy="397"/>
<circle r="1.964" cx="939" cy="382"/><circle r="1.964" cx="925" cy="361"/><circle r="1.964" cx="919" cy="349"/><circle r="1.964" cx="920" cy="336"/><circle r="1.964" cx="933" cy="401"/><circle r="1.964" cx="933" cy="354"/>
<circle r="1.964" cx="922" cy="355"/><circle r="1.964" cx="931" cy="369"/><circle r="1.964" cx="958" cy="383"/><circle r="1.964" cx="946" cy="403"/><circle r="1.964" cx="932" cy="378"/><circle r="1.964" cx="914" cy="332"/>
<circle r="1.964" cx="931" cy="378"/><circle r="1.964" cx="914" cy="358"/><circle r="1.964" cx="912" cy="348"/><circle r="1.964" cx="932" cy="390"/><circle r="1.964" cx="913" cy="360"/><circle r="1.964" cx="929" cy="363"/>
<circle r="1.964" cx="938" cy="384"/><circle r="1.964" cx="944" cy="376"/><circle r="1.964" cx="931" cy="378"/><circle r="1.964" cx="929" cy="371"/><circle r="1.964" cx="920" cy="350"/><circle r="1.964" cx="911" cy="350"/>
<circle r="1.964" cx="918" cy="361"/><circle r="1.964" cx="922" cy="364"/><circle r="1.964" cx="948" cy="387"/><circle r="1.964" cx="911" cy="328"/><circle r="1.964" cx="912" cy="367"/><circle r="1.964" cx="952" cy="393"/>
<circle r="1.964" cx="921" cy="384"/><circle r="1.964" cx="905" cy="347"/><circle r="1.964" cx="936" cy="352"/><circle r="1.964" cx="921" cy="361"/><circle r="1.964" cx="921" cy="341"/><circle r="1.964" cx="940" cy="384"/>
<circle r="1.964" cx="918" cy="335"/><circle r="1.964" cx="921" cy="364"/><circle r="1.964" cx="913" cy="340"/><circle r="1.964" cx="934" cy="400"/><circle r="1.964" cx="918" cy="323"/><circle r="1.964" cx="929" cy="351"/>
<circle r="1.964" cx="941" cy="370"/><circle r="1.964" cx="913" cy="347"/><circle r="1.964" cx="928" cy="375"/><circle r="1.964" cx="933" cy="354"/><circle r="1.964" cx="903" cy="328"/><circle r="1.964" cx="906" cy="349"/>
<circle r="1.964" cx="934" cy="393"/><circle r="1.964" cx="955" cy="400"/><circle r="1.964" cx="914" cy="340"/><circle r="1.964" cx="923" cy="369"/><circle r="1.964" cx="933" cy="382"/><circle r="1.964" cx="920" cy="380"/>
<circle r="1.964" cx="922" cy="360"/><circle r="1.964" cx="939" cy="377"/><circle r="1.964" cx="911" cy="351"/><circle r="1.964" cx="914" cy="372"/><circle r="1.964" cx="924" cy="372"/><circle r="1.964" cx="923" cy="345"/>
<circle r="1.964" cx="931" cy="378"/><circle r="1.964" cx="922" cy="348"/><circle r="1.964" cx="929" cy="349"/><circle r="1.964" cx="928" cy="336"/><circle r="1.964" cx="942" cy="378"/><circle r="1.964" cx="926" cy="359"/>
<circle r="1.964" cx="908" cy="319"/><circle r="1.964" cx="924" cy="340"/><circle r="1.964" cx="916" cy="372"/><circle r="1.964" cx="912" cy="366"/><circle r="1.964" cx="916" cy="348"/><circle r="1.964" cx="930" cy="367"/>
<circle r="1.964" cx="929" cy="366"/><circle r="1.964" cx="943" cy="386"/><circle r="1.964" cx="921" cy="363"/><circle r="1.964" cx="936" cy="407"/><circle r="1.964" cx="922" cy="381"/><circle r="1.964" cx="956" cy="405"/>
<circle r="1.964" cx="906" cy="331"/><circle r="1.964" cx="926" cy="358"/><circle r="1.964" cx="925" cy="360"/><circle r="1.964" cx="917" cy="356"/><circle r="1.964" cx="930" cy="386"/><circle r="1.964" cx="934" cy="354"/>
<circle r="1.964" cx="919" cy="339"/><circle r="1.964" cx="923" cy="338"/><circle r="1.964" cx="909" cy="325"/><circle r="1.964" cx="930" cy="362"/><circle r="1.964" cx="939" cy="396"/><circle r="1.964" cx="919" cy="363"/>
<circle r="1.964" cx="945" cy="393"/><circle r="1.964" cx="933" cy="376"/><circle r="1.964" cx="923" cy="376"/><circle r="1.964" cx="931" cy="367"/><circle r="1.964" cx="933" cy="354"/><circle r="1.964" cx="956" cy="383"/>
<circle r="1.964" cx="957" cy="382"/><circle r="1.964" cx="936" cy="394"/><circle r="1.964" cx="920" cy="372"/><circle r="1.964" cx="935" cy="385"/><circle r="1.964" cx="923" cy="354"/><circle r="1.964" cx="948" cy="383"/>
<circle r="1.964" cx="928" cy="339"/><circle r="1.964" cx="943" cy="387"/><circle r="1.964" cx="917" cy="360"/><circle r="1.964" cx="928" cy="373"/><circle r="1.964" cx="921" cy="367"/><circle r="1.964" cx="922" cy="371"/>
<circle r="1.964" cx="934" cy="356"/><circle r="1.964" cx="939" cy="367"/><circle r="1.964" cx="726" cy="160"/><circle r="1.964" cx="715" cy="177"/><circle r="1.964" cx="730" cy="180"/><circle r="1.964" cx="743" cy="179"/>
<circle r="1.964" cx="751" cy="178"/><circle r="1.964" cx="753" cy="145"/><circle r="1.964" cx="763" cy="145"/><circle r="1.964" cx="772" cy="143"/><circle r="1.964" cx="767" cy="152"/><circle r="1.964" cx="758" cy="164"/>
<circle r="1.964" cx="759" cy="165"/><circle r="1.964" cx="763" cy="161"/><circle r="1.964" cx="767" cy="160"/><circle r="1.964" cx="771" cy="157"/><circle r="1.964" cx="770" cy="162"/><circle r="1.964" cx="774" cy="161"/>
<circle r="1.964" cx="777" cy="160"/><circle r="1.964" cx="779" cy="159"/><circle r="1.964" cx="775" cy="165"/><circle r="1.964" cx="778" cy="168"/><circle r="1.964" cx="766" cy="168"/><circle r="1.964" cx="765" cy="170"/>
<circle r="1.964" cx="767" cy="171"/><circle r="1.964" cx="760" cy="171"/><circle r="1.964" cx="755" cy="172"/><circle r="1.964" cx="752" cy="168"/><circle r="1.964" cx="749" cy="172"/><circle r="1.964" cx="747" cy="172"/>
<circle r="1.964" cx="759" cy="178"/><circle r="1.964" cx="763" cy="179"/><circle r="1.964" cx="765" cy="181"/><circle r="1.964" cx="766" cy="183"/><circle r="1.964" cx="764" cy="184"/><circle r="1.964" cx="771" cy="170"/>
<circle r="1.964" cx="790" cy="139"/><circle r="1.964" cx="797" cy="138"/><circle r="1.964" cx="799" cy="139"/><circle r="1.964" cx="786" cy="143"/><circle r="1.964" cx="787" cy="146"/><circle r="1.964" cx="782" cy="149"/>
<circle r="1.964" cx="793" cy="146"/><circle r="1.964" cx="825" cy="139"/><circle r="1.964" cx="817" cy="142"/><circle r="1.964" cx="808" cy="144"/><circle r="1.964" cx="813" cy="145"/><circle r="1.964" cx="839" cy="144"/>
<circle r="1.964" cx="843" cy="144"/><circle r="1.964" cx="849" cy="144"/><circle r="1.964" cx="854" cy="149"/><circle r="1.964" cx="860" cy="153"/><circle r="1.964" cx="864" cy="157"/><circle r="1.964" cx="868" cy="159"/>
<circle r="1.964" cx="877" cy="161"/><circle r="1.964" cx="868" cy="163"/><circle r="1.964" cx="864" cy="165"/><circle r="1.964" cx="870" cy="170"/><circle r="1.964" cx="874" cy="169"/><circle r="1.964" cx="882" cy="172"/>
<circle r="1.964" cx="861" cy="169"/><circle r="1.964" cx="870" cy="180"/><circle r="1.964" cx="872" cy="179"/><circle r="1.964" cx="865" cy="181"/><circle r="1.964" cx="861" cy="180"/><circle r="1.964" cx="879" cy="181"/>
<circle r="1.964" cx="880" cy="183"/><circle r="1.964" cx="886" cy="183"/><circle r="1.964" cx="876" cy="187"/><circle r="1.964" cx="869" cy="192"/><circle r="1.964" cx="897" cy="144"/><circle r="1.964" cx="910" cy="149"/>
<circle r="1.964" cx="911" cy="184"/><circle r="1.964" cx="895" cy="195"/><circle r="1.964" cx="905" cy="207"/><circle r="1.964" cx="781" cy="190"/><circle r="1.964" cx="784" cy="184"/><circle r="1.964" cx="798" cy="188"/>
<circle r="1.964" cx="807" cy="202"/><circle r="1.964" cx="823" cy="213"/><circle r="1.964" cx="825" cy="201"/><circle r="1.964" cx="829" cy="196"/><circle r="1.964" cx="830" cy="189"/><circle r="1.964" cx="835" cy="191"/>
<circle r="1.964" cx="831" cy="184"/><circle r="1.964" cx="838" cy="185"/><circle r="1.964" cx="850" cy="184"/><circle r="1.964" cx="850" cy="187"/><circle r="1.964" cx="856" cy="189"/><circle r="1.964" cx="843" cy="202"/>
<circle r="1.964" cx="851" cy="202"/><circle r="1.964" cx="841" cy="207"/><circle r="1.964" cx="845" cy="211"/><circle r="1.964" cx="879" cy="206"/><circle r="1.964" cx="871" cy="203"/><circle r="1.964" cx="871" cy="211"/>
<circle r="1.964" cx="808" cy="181"/><circle r="1.964" cx="813" cy="181"/><circle r="1.964" cx="818" cy="181"/><circle r="1.964" cx="820" cy="183"/><circle r="1.964" cx="791" cy="180"/><circle r="1.964" cx="789" cy="179"/>
<circle r="1.964" cx="794" cy="179"/><circle r="1.964" cx="798" cy="179"/><circle r="1.964" cx="802" cy="177"/><circle r="1.964" cx="811" cy="177"/><circle r="1.964" cx="824" cy="178"/><circle r="1.964" cx="836" cy="178"/>
<circle r="1.964" cx="839" cy="178"/><circle r="1.964" cx="846" cy="177"/><circle r="1.964" cx="852" cy="179"/><circle r="1.964" cx="858" cy="180"/><circle r="1.964" cx="837" cy="221"/><circle r="1.964" cx="844" cy="222"/>
<circle r="1.964" cx="860" cy="222"/><circle r="1.964" cx="920" cy="221"/><circle r="1.964" cx="929" cy="227"/><circle r="1.964" cx="846" cy="253"/><circle r="1.964" cx="856" cy="268"/><circle r="1.964" cx="873" cy="254"/>
<circle r="1.964" cx="885" cy="251"/><circle r="1.964" cx="879" cy="266"/><circle r="1.964" cx="883" cy="269"/><circle r="1.964" cx="908" cy="254"/><circle r="1.964" cx="929" cy="257"/><circle r="1.964" cx="921" cy="283"/>
<circle r="1.964" cx="929" cy="287"/><circle r="1.964" cx="895" cy="292"/><circle r="1.964" cx="901" cy="291"/><circle r="1.964" cx="916" cy="291"/><circle r="1.964" cx="918" cy="293"/><circle r="1.964" cx="913" cy="297"/>
<circle r="1.964" cx="925" cy="297"/><circle r="1.964" cx="913" cy="300"/><circle r="1.964" cx="924" cy="301"/><circle r="1.964" cx="946" cy="223"/><circle r="1.964" cx="989" cy="217"/><circle r="1.964" cx="991" cy="217"/>
<circle r="1.964" cx="1004" cy="213"/><circle r="1.964" cx="1017" cy="213"/><circle r="1.964" cx="1020" cy="212"/><circle r="1.964" cx="1018" cy="217"/><circle r="1.964" cx="1013" cy="219"/><circle r="1.964" cx="1012" cy="221"/>
<circle r="1.964" cx="1010" cy="223"/><circle r="1.964" cx="1016" cy="227"/><circle r="1.964" cx="962" cy="236"/><circle r="1.964" cx="958" cy="247"/><circle r="1.964" cx="964" cy="245"/><circle r="1.964" cx="964" cy="250"/>
<circle r="1.964" cx="950" cy="252"/><circle r="1.964" cx="968" cy="257"/><circle r="1.964" cx="984" cy="245"/><circle r="1.964" cx="989" cy="246"/><circle r="1.964" cx="1039" cy="247"/><circle r="1.964" cx="931" cy="260"/>
<circle r="1.964" cx="962" cy="265"/><circle r="1.964" cx="951" cy="270"/><circle r="1.964" cx="945" cy="272"/><circle r="1.964" cx="980" cy="268"/><circle r="1.964" cx="993" cy="278"/><circle r="1.964" cx="969" cy="286"/>
<circle r="1.964" cx="944" cy="289"/><circle r="1.964" cx="943" cy="294"/><circle r="1.964" cx="943" cy="152"/><circle r="1.964" cx="941" cy="164"/><circle r="1.964" cx="943" cy="163"/><circle r="1.964" cx="936" cy="191"/>
<circle r="1.964" cx="961" cy="180"/><circle r="1.964" cx="974" cy="188"/><circle r="1.964" cx="950" cy="203"/><circle r="1.964" cx="977" cy="206"/><circle r="1.964" cx="993" cy="172"/><circle r="1.964" cx="992" cy="183"/>
<circle r="1.964" cx="997" cy="183"/><circle r="1.964" cx="991" cy="194"/><circle r="1.964" cx="994" cy="202"/><circle r="1.964" cx="993" cy="206"/><circle r="1.964" cx="1011" cy="171"/><circle r="1.964" cx="1014" cy="169"/>
<circle r="1.964" cx="1008" cy="180"/><circle r="1.964" cx="1006" cy="183"/><circle r="1.964" cx="1015" cy="182"/><circle r="1.964" cx="1017" cy="185"/><circle r="1.964" cx="1022" cy="179"/><circle r="1.964" cx="1025" cy="172"/>
<circle r="1.964" cx="1011" cy="190"/><circle r="1.964" cx="1007" cy="196"/><circle r="1.964" cx="1005" cy="198"/><circle r="1.964" cx="1011" cy="200"/><circle r="1.964" cx="1003" cy="205"/><circle r="1.964" cx="1001" cy="208"/>
<circle r="1.964" cx="1012" cy="206"/><circle r="1.964" cx="1013" cy="209"/><circle r="1.964" cx="1019" cy="208"/><circle r="1.964" cx="1023" cy="209"/><circle r="1.964" cx="1028" cy="208"/><circle r="1.964" cx="1030" cy="205"/>
<circle r="1.964" cx="1031" cy="203"/><circle r="1.964" cx="1030" cy="200"/><circle r="1.964" cx="1042" cy="197"/><circle r="1.964" cx="1047" cy="192"/><circle r="1.964" cx="1049" cy="190"/><circle r="1.964" cx="1079" cy="155"/>
<circle r="1.964" cx="1079" cy="159"/><circle r="1.964" cx="1079" cy="171"/><circle r="1.964" cx="1076" cy="152"/><circle r="1.964" cx="1072" cy="152"/><circle r="1.964" cx="1074" cy="139"/><circle r="1.964" cx="1079" cy="128"/>
<circle r="1.964" cx="1084" cy="126"/><circle r="1.964" cx="1065" cy="169"/><circle r="1.964" cx="1061" cy="175"/><circle r="1.964" cx="1057" cy="183"/><circle r="1.964" cx="1056" cy="186"/><circle r="1.964" cx="1051" cy="184"/>
<circle r="1.964" cx="1036" cy="140"/><circle r="1.964" cx="1042" cy="127"/><circle r="1.964" cx="1045" cy="140"/><circle r="1.964" cx="1039" cy="145"/><circle r="1.964" cx="1036" cy="149"/><circle r="1.964" cx="1030" cy="157"/>
<circle r="1.964" cx="1027" cy="164"/><circle r="1.964" cx="1096" cy="52"/><circle r="1.964" cx="1086" cy="77"/><circle r="1.964" cx="1060" cy="89"/><circle r="1.964" cx="1073" cy="88"/><circle r="1.964" cx="1078" cy="89"/>
<circle r="1.964" cx="1066" cy="97"/><circle r="1.964" cx="1063" cy="100"/><circle r="1.964" cx="1070" cy="101"/><circle r="1.964" cx="1072" cy="98"/><circle r="1.964" cx="1074" cy="100"/><circle r="1.964" cx="1079" cy="100"/>
<circle r="1.964" cx="1080" cy="102"/><circle r="1.964" cx="1084" cy="100"/><circle r="1.964" cx="1056" cy="103"/><circle r="1.964" cx="1059" cy="105"/><circle r="1.964" cx="1061" cy="108"/><circle r="1.964" cx="1061" cy="110"/>
<circle r="1.964" cx="1067" cy="111"/><circle r="1.964" cx="1078" cy="111"/><circle r="1.964" cx="1075" cy="116"/><circle r="1.964" cx="1045" cy="120"/><circle r="1.964" cx="1049" cy="120"/><circle r="1.964" cx="1053" cy="116"/>
<circle r="1.964" cx="1043" cy="131"/><circle r="1.964" cx="1075" cy="122"/><circle r="1.964" cx="1075" cy="125"/><circle r="1.964" cx="916" cy="302"/><circle r="1.964" cx="917" cy="304"/><circle r="1.964" cx="907" cy="304"/>
<circle r="1.964" cx="914" cy="308"/><circle r="1.964" cx="905" cy="309"/><circle r="1.964" cx="907" cy="311"/><circle r="1.964" cx="909" cy="314"/><circle r="1.964" cx="897" cy="315"/><circle r="1.964" cx="905" cy="315"/>
<circle r="1.964" cx="881" cy="312"/><circle r="1.964" cx="911" cy="316"/><circle r="1.964" cx="917" cy="316"/><circle r="1.964" cx="924" cy="318"/><circle r="1.964" cx="982" cy="322"/><circle r="1.964" cx="976" cy="337"/>
<circle r="1.964" cx="981" cy="338"/><circle r="1.964" cx="934" cy="330"/><circle r="1.964" cx="941" cy="333"/><circle r="1.964" cx="935" cy="335"/><circle r="1.964" cx="950" cy="346"/><circle r="1.964" cx="956" cy="352"/>
<circle r="1.964" cx="960" cy="361"/><circle r="1.964" cx="941" cy="352"/><circle r="1.964" cx="943" cy="353"/><circle r="1.964" cx="943" cy="359"/><circle r="1.964" cx="948" cy="363"/><circle r="1.964" cx="900" cy="359"/>
<circle r="1.964" cx="899" cy="348"/><circle r="1.964" cx="901" cy="335"/><circle r="1.964" cx="903" cy="325"/><circle r="1.964" cx="904" cy="331"/><circle r="1.964" cx="992" cy="397"/><circle r="1.964" cx="977" cy="392"/>
<circle r="1.964" cx="966" cy="375"/><circle r="1.964" cx="970" cy="390"/><circle r="1.964" cx="969" cy="401"/><circle r="1.964" cx="970" cy="404"/><circle r="1.964" cx="963" cy="403"/><circle r="1.964" cx="969" cy="410"/>
<circle r="1.964" cx="972" cy="412"/><circle r="1.964" cx="965" cy="413"/><circle r="1.964" cx="984" cy="415"/><circle r="1.964" cx="977" cy="417"/><circle r="1.964" cx="973" cy="418"/><circle r="1.964" cx="967" cy="418"/>
<circle r="1.964" cx="975" cy="423"/><circle r="1.964" cx="967" cy="424"/><circle r="1.964" cx="967" cy="427"/><circle r="1.964" cx="987" cy="430"/><circle r="1.964" cx="982" cy="433"/><circle r="1.964" cx="972" cy="433"/>
<circle r="1.964" cx="953" cy="414"/><circle r="1.964" cx="957" cy="412"/><circle r="1.964" cx="947" cy="409"/><circle r="1.964" cx="938" cy="415"/><circle r="1.964" cx="917" cy="410"/><circle r="1.964" cx="926" cy="404"/>
<circle r="1.964" cx="933" cy="403"/><circle r="1.964" cx="926" cy="399"/><circle r="1.964" cx="918" cy="395"/><circle r="1.964" cx="912" cy="393"/><circle r="1.964" cx="909" cy="377"/><circle r="1.964" cx="956" cy="369"/>
<circle r="1.964" cx="954" cy="372"/><circle r="1.964" cx="960" cy="377"/><circle r="1.964" cx="955" cy="378"/><circle r="1.964" cx="964" cy="382"/><circle r="1.964" cx="960" cy="387"/><circle r="1.964" cx="966" cy="389"/>
<circle r="1.964" cx="960" cy="392"/><circle r="1.964" cx="953" cy="386"/><circle r="1.964" cx="951" cy="392"/><circle r="1.964" cx="955" cy="397"/><circle r="1.964" cx="960" cy="403"/><circle r="1.964" cx="953" cy="405"/>
<circle r="1.964" cx="962" cy="408"/><circle r="1.964" cx="956" cy="407"/><circle r="1.964" cx="940" cy="401"/><circle r="1.964" cx="939" cy="404"/><circle r="1.964" cx="948" cy="402"/><circle r="1.964" cx="946" cy="399"/>
</g>
<path d="M663.5 32.5V452.5M730.5 32.5V452.5M797.5 32.5V452.5M863.5 32.5V452.5M930.5 32.5V452.5M997.5 32.5V452.5M1064.5 32.5V452.5M1130.5 32.5V452.5" fill="none" stroke="#b0b0b0" stroke-opacity="0.3" stroke-width="1.111"/>
<path d="M634.5 433.5H1177.5M634.5 366.5H1177.5M634.5 299.5H1177.5M634.5 233.5H1177.5M634.5 166.5H1177.5M634.5 99.5H1177.5M634.5 32.5H1177.5" fill="none" stroke="#b0b0b0" stroke-opacity="0.3" stroke-width="1.111"/>
<path d="M663.5 452.5v5M730.5 452.5v5M797.5 452.5v5M863.5 452.5v5M930.5 452.5v5M997.5 452.5v5M1064.5 452.5v5M1130.5 452.5v5M634.5 433.5h-5M634.5 366.5h-5M634.5 299.5h-5M634.5 233.5h-5M634.5 166.5h-5M634.5 99.5h-5M634.5 32.5h-5" fill="none" stroke="#000" stroke-width="1.111"/>
<rect x="634.5" y="32.5" width="543" height="420" fill="none" stroke="#000" stroke-width="1.111"/>
<text class="t" text-anchor="middle" x="663.44" y="473.54">−<tspan dx="-0.8">4</tspan></text><text class="t" text-anchor="middle" x="729.68" y="473.54">−<tspan dx="-0.8">3</tspan></text><text class="t" text-anchor="middle" x="796.67" y="473.54">−<tspan dx="-0.8">2</tspan></text><text class="t" text-anchor="middle" x="863.66" y="473.54">−<tspan dx="-0.8">1</tspan></text><text class="t" text-anchor="middle" x="929.90" y="473.54">0</text><text class="t" text-anchor="middle" x="997.89" y="473.54">1</text><text class="t" text-anchor="middle" x="1063.88" y="473.54">2</text><text class="t" text-anchor="middle" x="1130.87" y="473.54">3</text>
<text class="t" text-anchor="end" x="623.50" y="438.57">−<tspan dx="-0.8">3</tspan></text><text class="t" text-anchor="end" x="623.50" y="371.83">−<tspan dx="-0.8">2</tspan></text><text class="t" text-anchor="end" x="623.50" y="304.59">−<tspan dx="-0.8">1</tspan></text><text class="t" text-anchor="end" x="624.75" y="238.85">0</text><text class="t" text-anchor="end" x="624.75" y="171.61">1</text><text class="t" text-anchor="end" x="624.75" y="104.87">2</text><text class="t" text-anchor="end" x="624.75" y="37.63">3</text>
<text class="h" text-anchor="middle" x="905.49" y="23.93">Generated with stochastic DDIM (eta = 0.5)</text>
</g>
</svg>
</body></html>
